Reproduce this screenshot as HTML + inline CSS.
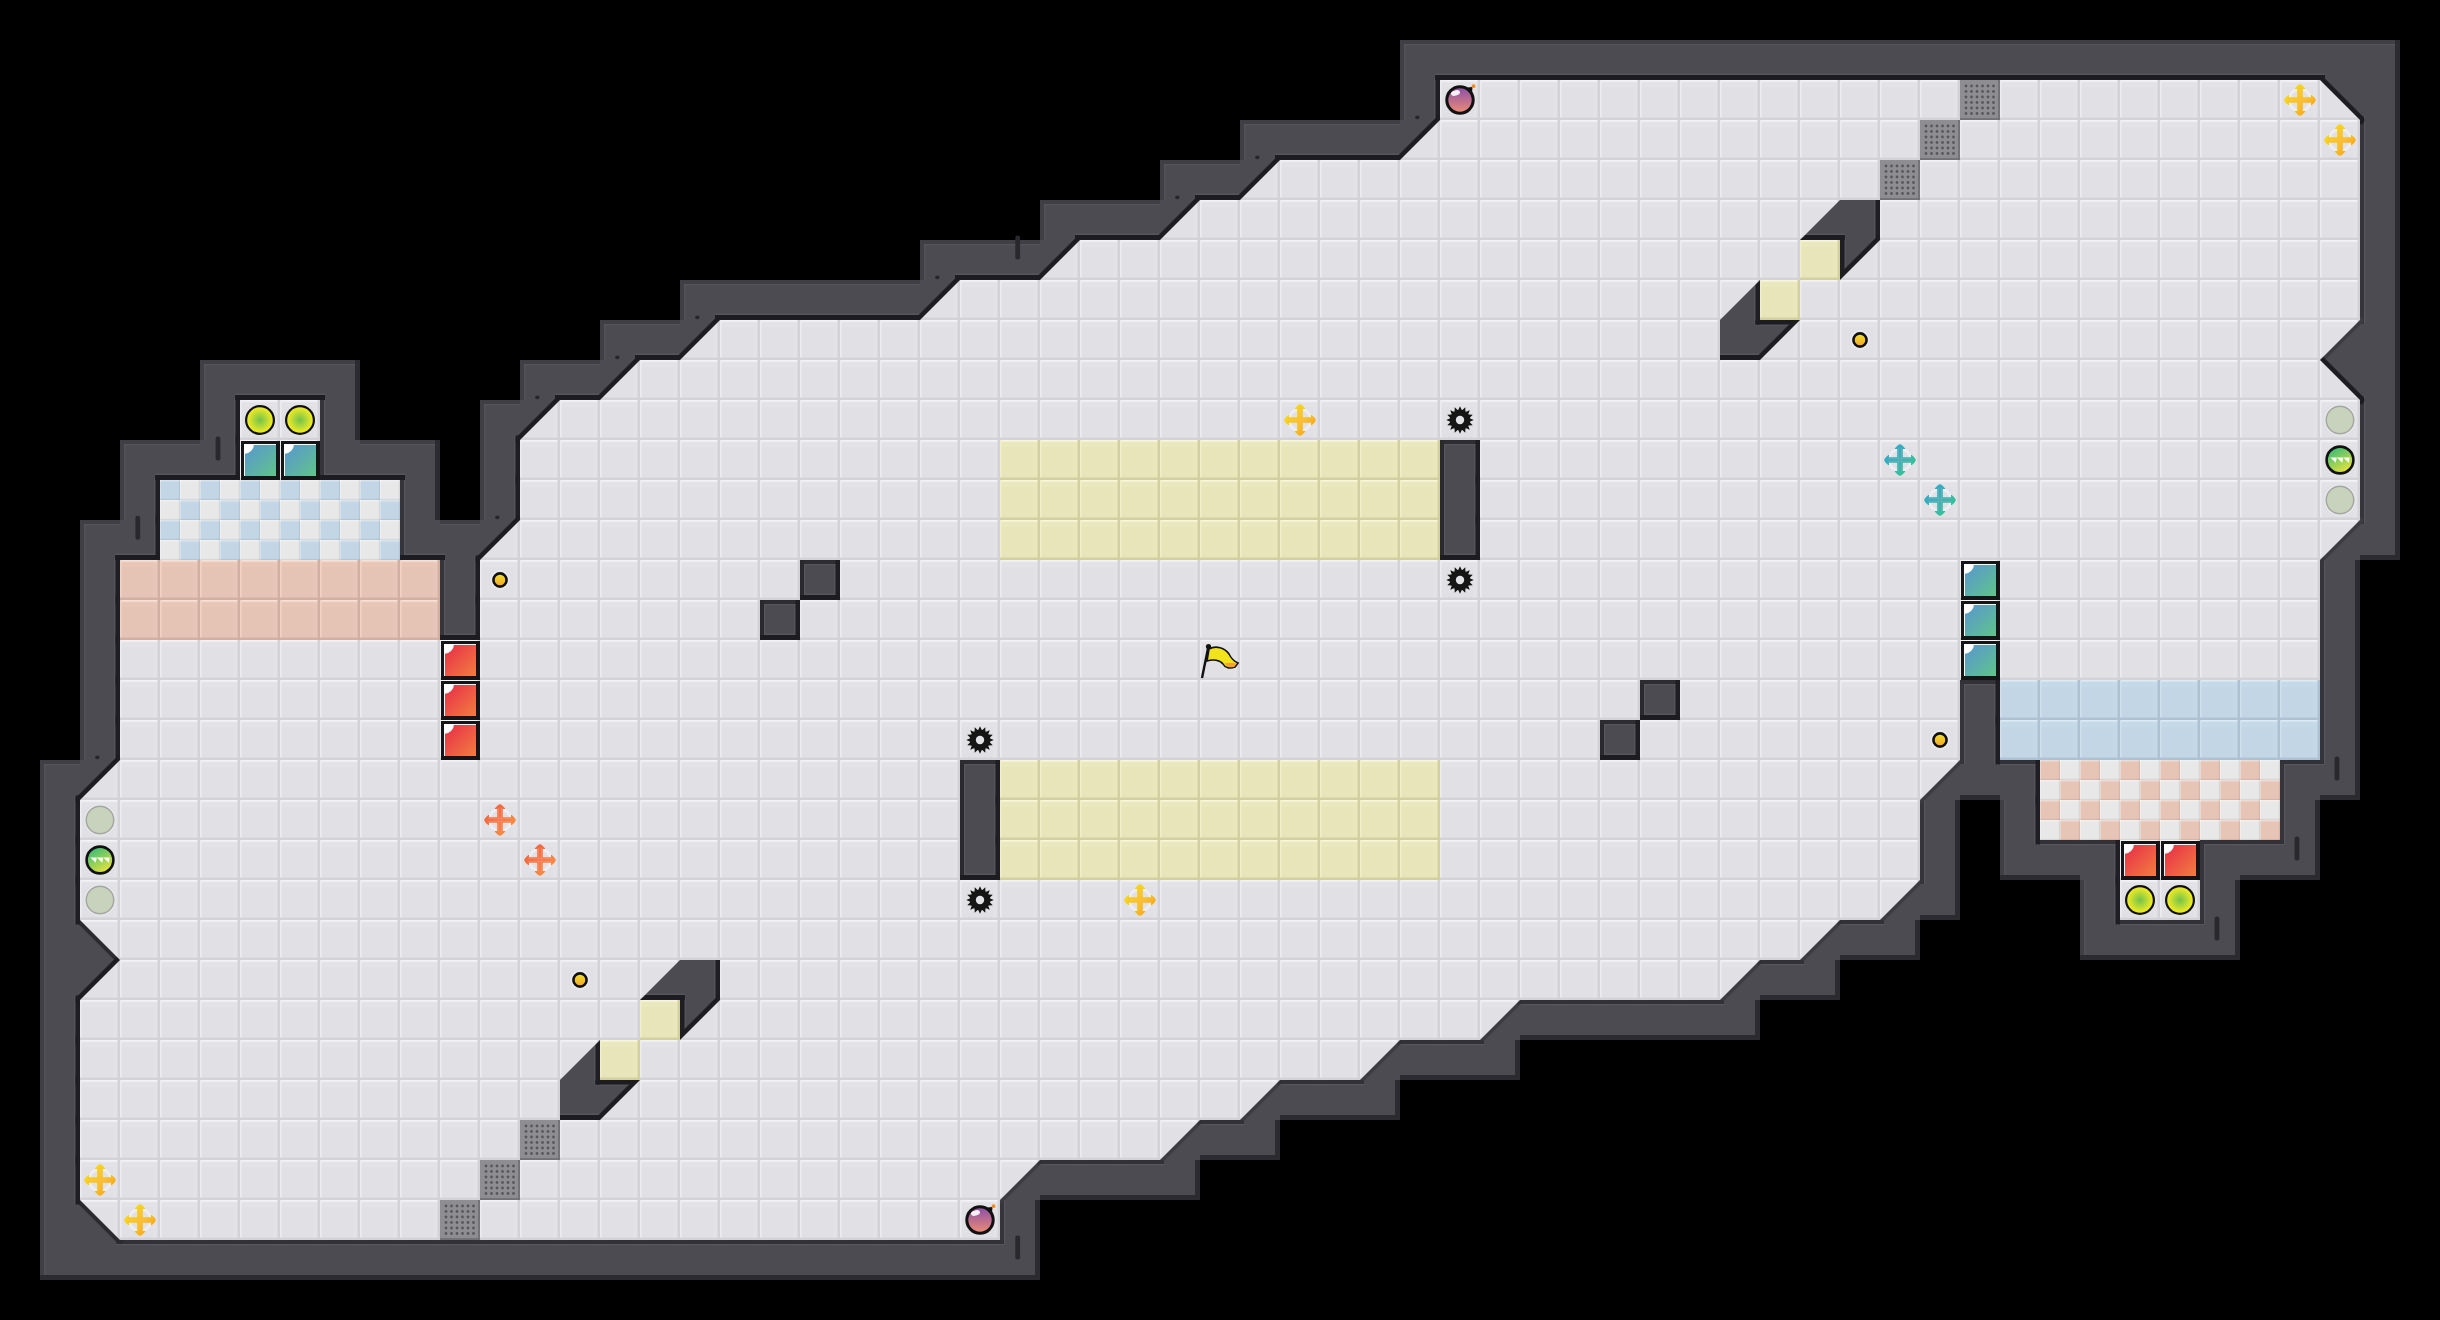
<!DOCTYPE html>
<html><head><meta charset="utf-8"><style>
html,body{margin:0;padding:0;background:#000;overflow:hidden;}
svg{display:block;}
</style></head><body>
<svg width="2440" height="1320" viewBox="0 0 2440 1320">

<defs>
<linearGradient id="gPurple" x1="0" y1="0" x2="0" y2="1"><stop offset="0" stop-color="#8c4ea8"/><stop offset="1" stop-color="#ec8c76"/></linearGradient>
<radialGradient id="gYG"><stop offset="0" stop-color="#72c24c"/><stop offset="0.85" stop-color="#e8e828"/><stop offset="1" stop-color="#f4f21c"/></radialGradient>
<linearGradient id="gGold" x1="0" y1="0" x2="0" y2="1"><stop offset="0" stop-color="#f2e424"/><stop offset="1" stop-color="#f2a232"/></linearGradient>
<linearGradient id="gRed" x1="0" y1="0" x2="1" y2="1"><stop offset="0" stop-color="#e82c48"/><stop offset="1" stop-color="#f27e40"/></linearGradient>
<linearGradient id="gBlue" x1="0" y1="0" x2="1" y2="1"><stop offset="0" stop-color="#5896d2"/><stop offset="1" stop-color="#60c488"/></linearGradient>
<linearGradient id="gYc" x1="0" y1="0" x2="1" y2="1"><stop offset="0" stop-color="#f6e21a"/><stop offset="0.55" stop-color="#f7c51e"/><stop offset="1" stop-color="#f8921e"/></linearGradient>
<linearGradient id="gOc" x1="0" y1="0" x2="1" y2="1"><stop offset="0" stop-color="#f05a40"/><stop offset="1" stop-color="#f89a40"/></linearGradient>
<linearGradient id="gTc" x1="0" y1="0" x2="1" y2="1"><stop offset="0" stop-color="#38a0d8"/><stop offset="1" stop-color="#30cc88"/></linearGradient>
<linearGradient id="gStripe" x1="0.2" y1="0" x2="0.8" y2="1"><stop offset="0" stop-color="#2fb97d"/><stop offset="0.5" stop-color="#92d058"/><stop offset="1" stop-color="#f4e53a"/></linearGradient>
<pattern id="tF" patternUnits="userSpaceOnUse" width="40" height="40"><rect width="40" height="40" fill="#e1e0e5"/><rect x="33" y="0" width="5" height="40" fill="#e3e2e7"/><rect x="0" y="4" width="40" height="3" fill="#e4e3e8"/><rect x="0" y="0" width="40" height="2.5" fill="#edecf1"/><rect x="0" y="0" width="40" height="1" fill="#ffffff" opacity="0.35"/><rect x="0" y="0" width="1.5" height="40" fill="#edecf1"/><rect x="37.6" y="0" width="2.4" height="40" fill="#d3d2d7"/><rect x="0" y="37.6" width="40" height="2.4" fill="#d3d2d7"/></pattern>
<pattern id="tY" patternUnits="userSpaceOnUse" width="40" height="40"><rect width="40" height="40" fill="#e8e5ba"/><rect x="33" y="0" width="5" height="40" fill="#eae7bc"/><rect x="0" y="4" width="40" height="3" fill="#ebe8bd"/><rect x="0" y="0" width="40" height="2.5" fill="#f2efc8"/><rect x="0" y="0" width="40" height="1" fill="#ffffff" opacity="0.35"/><rect x="0" y="0" width="1.5" height="40" fill="#f2efc8"/><rect x="37.6" y="0" width="2.4" height="40" fill="#d3cfa3"/><rect x="0" y="37.6" width="40" height="2.4" fill="#d3cfa3"/></pattern>
<pattern id="tP" patternUnits="userSpaceOnUse" width="40" height="40"><rect width="40" height="40" fill="#e5c4b6"/><rect x="33" y="0" width="5" height="40" fill="#e7c6b8"/><rect x="0" y="4" width="40" height="3" fill="#e8c7b9"/><rect x="0" y="0" width="40" height="2.5" fill="#f2d2c4"/><rect x="0" y="0" width="40" height="1" fill="#ffffff" opacity="0.35"/><rect x="0" y="0" width="1.5" height="40" fill="#f2d2c4"/><rect x="37.6" y="0" width="2.4" height="40" fill="#cfb0a3"/><rect x="0" y="37.6" width="40" height="2.4" fill="#cfb0a3"/></pattern>
<pattern id="tB" patternUnits="userSpaceOnUse" width="40" height="40"><rect width="40" height="40" fill="#c3d6e5"/><rect x="33" y="0" width="5" height="40" fill="#c5d8e7"/><rect x="0" y="4" width="40" height="3" fill="#c6d9e8"/><rect x="0" y="0" width="40" height="2.5" fill="#d0e1ee"/><rect x="0" y="0" width="40" height="1" fill="#ffffff" opacity="0.35"/><rect x="0" y="0" width="1.5" height="40" fill="#d0e1ee"/><rect x="37.6" y="0" width="2.4" height="40" fill="#adc1d2"/><rect x="0" y="37.6" width="40" height="2.4" fill="#adc1d2"/></pattern>
<pattern id="tCB" patternUnits="userSpaceOnUse" width="40" height="40"><rect x="0" y="0" width="20" height="20" fill="#c3d6e6"/><rect x="0" y="0" width="20" height="1.5" fill="#fff" opacity="0.35"/><rect x="0" y="0" width="1" height="20" fill="#fff" opacity="0.3"/><rect x="18.8" y="0" width="1.2" height="20" fill="#000" opacity="0.07"/><rect x="0" y="18.8" width="20" height="1.2" fill="#000" opacity="0.07"/><rect x="20" y="0" width="20" height="20" fill="#e8e8e9"/><rect x="20" y="0" width="20" height="1.5" fill="#fff" opacity="0.35"/><rect x="20" y="0" width="1" height="20" fill="#fff" opacity="0.3"/><rect x="38.8" y="0" width="1.2" height="20" fill="#000" opacity="0.07"/><rect x="20" y="18.8" width="20" height="1.2" fill="#000" opacity="0.07"/><rect x="0" y="20" width="20" height="20" fill="#e8e8e9"/><rect x="0" y="20" width="20" height="1.5" fill="#fff" opacity="0.35"/><rect x="0" y="20" width="1" height="20" fill="#fff" opacity="0.3"/><rect x="18.8" y="20" width="1.2" height="20" fill="#000" opacity="0.07"/><rect x="0" y="38.8" width="20" height="1.2" fill="#000" opacity="0.07"/><rect x="20" y="20" width="20" height="20" fill="#c3d6e6"/><rect x="20" y="20" width="20" height="1.5" fill="#fff" opacity="0.35"/><rect x="20" y="20" width="1" height="20" fill="#fff" opacity="0.3"/><rect x="38.8" y="20" width="1.2" height="20" fill="#000" opacity="0.07"/><rect x="20" y="38.8" width="20" height="1.2" fill="#000" opacity="0.07"/></pattern>
<pattern id="tCP" patternUnits="userSpaceOnUse" width="40" height="40"><rect x="0" y="0" width="20" height="20" fill="#e6c5b7"/><rect x="0" y="0" width="20" height="1.5" fill="#fff" opacity="0.35"/><rect x="0" y="0" width="1" height="20" fill="#fff" opacity="0.3"/><rect x="18.8" y="0" width="1.2" height="20" fill="#000" opacity="0.07"/><rect x="0" y="18.8" width="20" height="1.2" fill="#000" opacity="0.07"/><rect x="20" y="0" width="20" height="20" fill="#e8e8e9"/><rect x="20" y="0" width="20" height="1.5" fill="#fff" opacity="0.35"/><rect x="20" y="0" width="1" height="20" fill="#fff" opacity="0.3"/><rect x="38.8" y="0" width="1.2" height="20" fill="#000" opacity="0.07"/><rect x="20" y="18.8" width="20" height="1.2" fill="#000" opacity="0.07"/><rect x="0" y="20" width="20" height="20" fill="#e8e8e9"/><rect x="0" y="20" width="20" height="1.5" fill="#fff" opacity="0.35"/><rect x="0" y="20" width="1" height="20" fill="#fff" opacity="0.3"/><rect x="18.8" y="20" width="1.2" height="20" fill="#000" opacity="0.07"/><rect x="0" y="38.8" width="20" height="1.2" fill="#000" opacity="0.07"/><rect x="20" y="20" width="20" height="20" fill="#e6c5b7"/><rect x="20" y="20" width="20" height="1.5" fill="#fff" opacity="0.35"/><rect x="20" y="20" width="1" height="20" fill="#fff" opacity="0.3"/><rect x="38.8" y="20" width="1.2" height="20" fill="#000" opacity="0.07"/><rect x="20" y="38.8" width="20" height="1.2" fill="#000" opacity="0.07"/></pattern>
<pattern id="tG" patternUnits="userSpaceOnUse" width="40" height="40">
 <rect width="40" height="40" fill="#8e8d92"/>
 <rect x="38" y="0" width="2" height="40" fill="#737277"/><rect x="0" y="38" width="40" height="2" fill="#737277"/><g fill="#58575c"><circle cx="6.0" cy="6.0" r="1.4"/><circle cx="6.0" cy="11.5" r="1.4"/><circle cx="6.0" cy="17.0" r="1.4"/><circle cx="6.0" cy="22.5" r="1.4"/><circle cx="6.0" cy="28.0" r="1.4"/><circle cx="6.0" cy="33.5" r="1.4"/><circle cx="11.5" cy="6.0" r="1.4"/><circle cx="11.5" cy="11.5" r="1.4"/><circle cx="11.5" cy="17.0" r="1.4"/><circle cx="11.5" cy="22.5" r="1.4"/><circle cx="11.5" cy="28.0" r="1.4"/><circle cx="11.5" cy="33.5" r="1.4"/><circle cx="17.0" cy="6.0" r="1.4"/><circle cx="17.0" cy="11.5" r="1.4"/><circle cx="17.0" cy="17.0" r="1.4"/><circle cx="17.0" cy="22.5" r="1.4"/><circle cx="17.0" cy="28.0" r="1.4"/><circle cx="17.0" cy="33.5" r="1.4"/><circle cx="22.5" cy="6.0" r="1.4"/><circle cx="22.5" cy="11.5" r="1.4"/><circle cx="22.5" cy="17.0" r="1.4"/><circle cx="22.5" cy="22.5" r="1.4"/><circle cx="22.5" cy="28.0" r="1.4"/><circle cx="22.5" cy="33.5" r="1.4"/><circle cx="28.0" cy="6.0" r="1.4"/><circle cx="28.0" cy="11.5" r="1.4"/><circle cx="28.0" cy="17.0" r="1.4"/><circle cx="28.0" cy="22.5" r="1.4"/><circle cx="28.0" cy="28.0" r="1.4"/><circle cx="28.0" cy="33.5" r="1.4"/><circle cx="33.5" cy="6.0" r="1.4"/><circle cx="33.5" cy="11.5" r="1.4"/><circle cx="33.5" cy="17.0" r="1.4"/><circle cx="33.5" cy="22.5" r="1.4"/><circle cx="33.5" cy="28.0" r="1.4"/><circle cx="33.5" cy="33.5" r="1.4"/></g>
</pattern>
</defs>

<rect x="0" y="0" width="2440" height="1320" fill="#000"/>
<rect x="40" y="760" width="40" height="40" fill="#4c4b51"/>
<rect x="40" y="800" width="40" height="40" fill="#4c4b51"/>
<rect x="40" y="840" width="40" height="40" fill="#4c4b51"/>
<rect x="40" y="880" width="40" height="40" fill="#4c4b51"/>
<rect x="40" y="920" width="40" height="40" fill="#4c4b51"/>
<rect x="40" y="960" width="40" height="40" fill="#4c4b51"/>
<rect x="40" y="1000" width="40" height="40" fill="#4c4b51"/>
<rect x="40" y="1040" width="40" height="40" fill="#4c4b51"/>
<rect x="40" y="1080" width="40" height="40" fill="#4c4b51"/>
<rect x="40" y="1120" width="40" height="40" fill="#4c4b51"/>
<rect x="40" y="1160" width="40" height="40" fill="#4c4b51"/>
<rect x="40" y="1200" width="40" height="40" fill="#4c4b51"/>
<rect x="40" y="1240" width="40" height="40" fill="#4c4b51"/>
<rect x="80" y="520" width="40" height="40" fill="#4c4b51"/>
<rect x="80" y="560" width="40" height="40" fill="#4c4b51"/>
<rect x="80" y="600" width="40" height="40" fill="#4c4b51"/>
<rect x="80" y="640" width="40" height="40" fill="#4c4b51"/>
<rect x="80" y="680" width="40" height="40" fill="#4c4b51"/>
<rect x="80" y="720" width="40" height="40" fill="#4c4b51"/>
<rect x="80" y="1240" width="40" height="40" fill="#4c4b51"/>
<rect x="120" y="440" width="40" height="40" fill="#4c4b51"/>
<rect x="120" y="480" width="40" height="40" fill="#4c4b51"/>
<rect x="120" y="520" width="40" height="40" fill="#4c4b51"/>
<rect x="120" y="1240" width="40" height="40" fill="#4c4b51"/>
<rect x="160" y="440" width="40" height="40" fill="#4c4b51"/>
<rect x="160" y="1240" width="40" height="40" fill="#4c4b51"/>
<rect x="200" y="360" width="40" height="40" fill="#4c4b51"/>
<rect x="200" y="400" width="40" height="40" fill="#4c4b51"/>
<rect x="200" y="440" width="40" height="40" fill="#4c4b51"/>
<rect x="200" y="1240" width="40" height="40" fill="#4c4b51"/>
<rect x="240" y="360" width="40" height="40" fill="#4c4b51"/>
<rect x="240" y="1240" width="40" height="40" fill="#4c4b51"/>
<rect x="280" y="360" width="40" height="40" fill="#4c4b51"/>
<rect x="280" y="1240" width="40" height="40" fill="#4c4b51"/>
<rect x="320" y="360" width="40" height="40" fill="#4c4b51"/>
<rect x="320" y="400" width="40" height="40" fill="#4c4b51"/>
<rect x="320" y="440" width="40" height="40" fill="#4c4b51"/>
<rect x="320" y="1240" width="40" height="40" fill="#4c4b51"/>
<rect x="360" y="440" width="40" height="40" fill="#4c4b51"/>
<rect x="360" y="1240" width="40" height="40" fill="#4c4b51"/>
<rect x="400" y="440" width="40" height="40" fill="#4c4b51"/>
<rect x="400" y="480" width="40" height="40" fill="#4c4b51"/>
<rect x="400" y="520" width="40" height="40" fill="#4c4b51"/>
<rect x="400" y="1240" width="40" height="40" fill="#4c4b51"/>
<rect x="440" y="520" width="40" height="40" fill="#4c4b51"/>
<rect x="440" y="560" width="40" height="40" fill="#4c4b51"/>
<rect x="440" y="600" width="40" height="40" fill="#4c4b51"/>
<rect x="440" y="1240" width="40" height="40" fill="#4c4b51"/>
<rect x="480" y="400" width="40" height="40" fill="#4c4b51"/>
<rect x="480" y="440" width="40" height="40" fill="#4c4b51"/>
<rect x="480" y="480" width="40" height="40" fill="#4c4b51"/>
<rect x="480" y="1240" width="40" height="40" fill="#4c4b51"/>
<rect x="520" y="360" width="40" height="40" fill="#4c4b51"/>
<rect x="520" y="1240" width="40" height="40" fill="#4c4b51"/>
<rect x="560" y="360" width="40" height="40" fill="#4c4b51"/>
<rect x="560" y="1080" width="40" height="40" fill="#4c4b51"/>
<rect x="560" y="1240" width="40" height="40" fill="#4c4b51"/>
<rect x="600" y="320" width="40" height="40" fill="#4c4b51"/>
<rect x="600" y="1240" width="40" height="40" fill="#4c4b51"/>
<rect x="640" y="320" width="40" height="40" fill="#4c4b51"/>
<rect x="640" y="1240" width="40" height="40" fill="#4c4b51"/>
<rect x="680" y="280" width="40" height="40" fill="#4c4b51"/>
<rect x="680" y="960" width="40" height="40" fill="#4c4b51"/>
<rect x="680" y="1240" width="40" height="40" fill="#4c4b51"/>
<rect x="720" y="280" width="40" height="40" fill="#4c4b51"/>
<rect x="720" y="1240" width="40" height="40" fill="#4c4b51"/>
<rect x="760" y="280" width="40" height="40" fill="#4c4b51"/>
<rect x="760" y="600" width="40" height="40" fill="#4c4b51"/>
<rect x="760" y="1240" width="40" height="40" fill="#4c4b51"/>
<rect x="800" y="280" width="40" height="40" fill="#4c4b51"/>
<rect x="800" y="560" width="40" height="40" fill="#4c4b51"/>
<rect x="800" y="1240" width="40" height="40" fill="#4c4b51"/>
<rect x="840" y="280" width="40" height="40" fill="#4c4b51"/>
<rect x="840" y="1240" width="40" height="40" fill="#4c4b51"/>
<rect x="880" y="280" width="40" height="40" fill="#4c4b51"/>
<rect x="880" y="1240" width="40" height="40" fill="#4c4b51"/>
<rect x="920" y="240" width="40" height="40" fill="#4c4b51"/>
<rect x="920" y="1240" width="40" height="40" fill="#4c4b51"/>
<rect x="960" y="240" width="40" height="40" fill="#4c4b51"/>
<rect x="960" y="760" width="40" height="40" fill="#4c4b51"/>
<rect x="960" y="800" width="40" height="40" fill="#4c4b51"/>
<rect x="960" y="840" width="40" height="40" fill="#4c4b51"/>
<rect x="960" y="1240" width="40" height="40" fill="#4c4b51"/>
<rect x="1000" y="240" width="40" height="40" fill="#4c4b51"/>
<rect x="1000" y="1200" width="40" height="40" fill="#4c4b51"/>
<rect x="1000" y="1240" width="40" height="40" fill="#4c4b51"/>
<rect x="1040" y="200" width="40" height="40" fill="#4c4b51"/>
<rect x="1040" y="1160" width="40" height="40" fill="#4c4b51"/>
<rect x="1080" y="200" width="40" height="40" fill="#4c4b51"/>
<rect x="1080" y="1160" width="40" height="40" fill="#4c4b51"/>
<rect x="1120" y="200" width="40" height="40" fill="#4c4b51"/>
<rect x="1120" y="1160" width="40" height="40" fill="#4c4b51"/>
<rect x="1160" y="160" width="40" height="40" fill="#4c4b51"/>
<rect x="1160" y="1160" width="40" height="40" fill="#4c4b51"/>
<rect x="1200" y="160" width="40" height="40" fill="#4c4b51"/>
<rect x="1200" y="1120" width="40" height="40" fill="#4c4b51"/>
<rect x="1240" y="120" width="40" height="40" fill="#4c4b51"/>
<rect x="1240" y="1120" width="40" height="40" fill="#4c4b51"/>
<rect x="1280" y="120" width="40" height="40" fill="#4c4b51"/>
<rect x="1280" y="1080" width="40" height="40" fill="#4c4b51"/>
<rect x="1320" y="120" width="40" height="40" fill="#4c4b51"/>
<rect x="1320" y="1080" width="40" height="40" fill="#4c4b51"/>
<rect x="1360" y="120" width="40" height="40" fill="#4c4b51"/>
<rect x="1360" y="1080" width="40" height="40" fill="#4c4b51"/>
<rect x="1400" y="40" width="40" height="40" fill="#4c4b51"/>
<rect x="1400" y="80" width="40" height="40" fill="#4c4b51"/>
<rect x="1400" y="1040" width="40" height="40" fill="#4c4b51"/>
<rect x="1440" y="40" width="40" height="40" fill="#4c4b51"/>
<rect x="1440" y="440" width="40" height="40" fill="#4c4b51"/>
<rect x="1440" y="480" width="40" height="40" fill="#4c4b51"/>
<rect x="1440" y="520" width="40" height="40" fill="#4c4b51"/>
<rect x="1440" y="1040" width="40" height="40" fill="#4c4b51"/>
<rect x="1480" y="40" width="40" height="40" fill="#4c4b51"/>
<rect x="1480" y="1040" width="40" height="40" fill="#4c4b51"/>
<rect x="1520" y="40" width="40" height="40" fill="#4c4b51"/>
<rect x="1520" y="1000" width="40" height="40" fill="#4c4b51"/>
<rect x="1560" y="40" width="40" height="40" fill="#4c4b51"/>
<rect x="1560" y="1000" width="40" height="40" fill="#4c4b51"/>
<rect x="1600" y="40" width="40" height="40" fill="#4c4b51"/>
<rect x="1600" y="720" width="40" height="40" fill="#4c4b51"/>
<rect x="1600" y="1000" width="40" height="40" fill="#4c4b51"/>
<rect x="1640" y="40" width="40" height="40" fill="#4c4b51"/>
<rect x="1640" y="680" width="40" height="40" fill="#4c4b51"/>
<rect x="1640" y="1000" width="40" height="40" fill="#4c4b51"/>
<rect x="1680" y="40" width="40" height="40" fill="#4c4b51"/>
<rect x="1680" y="1000" width="40" height="40" fill="#4c4b51"/>
<rect x="1720" y="40" width="40" height="40" fill="#4c4b51"/>
<rect x="1720" y="320" width="40" height="40" fill="#4c4b51"/>
<rect x="1720" y="1000" width="40" height="40" fill="#4c4b51"/>
<rect x="1760" y="40" width="40" height="40" fill="#4c4b51"/>
<rect x="1760" y="960" width="40" height="40" fill="#4c4b51"/>
<rect x="1800" y="40" width="40" height="40" fill="#4c4b51"/>
<rect x="1800" y="960" width="40" height="40" fill="#4c4b51"/>
<rect x="1840" y="40" width="40" height="40" fill="#4c4b51"/>
<rect x="1840" y="200" width="40" height="40" fill="#4c4b51"/>
<rect x="1840" y="920" width="40" height="40" fill="#4c4b51"/>
<rect x="1880" y="40" width="40" height="40" fill="#4c4b51"/>
<rect x="1880" y="920" width="40" height="40" fill="#4c4b51"/>
<rect x="1920" y="40" width="40" height="40" fill="#4c4b51"/>
<rect x="1920" y="800" width="40" height="40" fill="#4c4b51"/>
<rect x="1920" y="840" width="40" height="40" fill="#4c4b51"/>
<rect x="1920" y="880" width="40" height="40" fill="#4c4b51"/>
<rect x="1960" y="40" width="40" height="40" fill="#4c4b51"/>
<rect x="1960" y="680" width="40" height="40" fill="#4c4b51"/>
<rect x="1960" y="720" width="40" height="40" fill="#4c4b51"/>
<rect x="1960" y="760" width="40" height="40" fill="#4c4b51"/>
<rect x="2000" y="40" width="40" height="40" fill="#4c4b51"/>
<rect x="2000" y="760" width="40" height="40" fill="#4c4b51"/>
<rect x="2000" y="800" width="40" height="40" fill="#4c4b51"/>
<rect x="2000" y="840" width="40" height="40" fill="#4c4b51"/>
<rect x="2040" y="40" width="40" height="40" fill="#4c4b51"/>
<rect x="2040" y="840" width="40" height="40" fill="#4c4b51"/>
<rect x="2080" y="40" width="40" height="40" fill="#4c4b51"/>
<rect x="2080" y="840" width="40" height="40" fill="#4c4b51"/>
<rect x="2080" y="880" width="40" height="40" fill="#4c4b51"/>
<rect x="2080" y="920" width="40" height="40" fill="#4c4b51"/>
<rect x="2120" y="40" width="40" height="40" fill="#4c4b51"/>
<rect x="2120" y="920" width="40" height="40" fill="#4c4b51"/>
<rect x="2160" y="40" width="40" height="40" fill="#4c4b51"/>
<rect x="2160" y="920" width="40" height="40" fill="#4c4b51"/>
<rect x="2200" y="40" width="40" height="40" fill="#4c4b51"/>
<rect x="2200" y="840" width="40" height="40" fill="#4c4b51"/>
<rect x="2200" y="880" width="40" height="40" fill="#4c4b51"/>
<rect x="2200" y="920" width="40" height="40" fill="#4c4b51"/>
<rect x="2240" y="40" width="40" height="40" fill="#4c4b51"/>
<rect x="2240" y="840" width="40" height="40" fill="#4c4b51"/>
<rect x="2280" y="40" width="40" height="40" fill="#4c4b51"/>
<rect x="2280" y="760" width="40" height="40" fill="#4c4b51"/>
<rect x="2280" y="800" width="40" height="40" fill="#4c4b51"/>
<rect x="2280" y="840" width="40" height="40" fill="#4c4b51"/>
<rect x="2320" y="40" width="40" height="40" fill="#4c4b51"/>
<rect x="2320" y="560" width="40" height="40" fill="#4c4b51"/>
<rect x="2320" y="600" width="40" height="40" fill="#4c4b51"/>
<rect x="2320" y="640" width="40" height="40" fill="#4c4b51"/>
<rect x="2320" y="680" width="40" height="40" fill="#4c4b51"/>
<rect x="2320" y="720" width="40" height="40" fill="#4c4b51"/>
<rect x="2320" y="760" width="40" height="40" fill="#4c4b51"/>
<rect x="2360" y="40" width="40" height="40" fill="#4c4b51"/>
<rect x="2360" y="80" width="40" height="40" fill="#4c4b51"/>
<rect x="2360" y="120" width="40" height="40" fill="#4c4b51"/>
<rect x="2360" y="160" width="40" height="40" fill="#4c4b51"/>
<rect x="2360" y="200" width="40" height="40" fill="#4c4b51"/>
<rect x="2360" y="240" width="40" height="40" fill="#4c4b51"/>
<rect x="2360" y="280" width="40" height="40" fill="#4c4b51"/>
<rect x="2360" y="320" width="40" height="40" fill="#4c4b51"/>
<rect x="2360" y="360" width="40" height="40" fill="#4c4b51"/>
<rect x="2360" y="400" width="40" height="40" fill="#4c4b51"/>
<rect x="2360" y="440" width="40" height="40" fill="#4c4b51"/>
<rect x="2360" y="480" width="40" height="40" fill="#4c4b51"/>
<rect x="2360" y="520" width="40" height="40" fill="#4c4b51"/>
<rect x="2320" y="80" width="40" height="40" fill="#4c4b51"/>
<rect x="1400" y="120" width="40" height="40" fill="#4c4b51"/>
<rect x="1240" y="160" width="40" height="40" fill="#4c4b51"/>
<rect x="1160" y="200" width="40" height="40" fill="#4c4b51"/>
<rect x="1800" y="200" width="40" height="40" fill="#4c4b51"/>
<rect x="1040" y="240" width="40" height="40" fill="#4c4b51"/>
<rect x="1840" y="240" width="40" height="40" fill="#4c4b51"/>
<rect x="920" y="280" width="40" height="40" fill="#4c4b51"/>
<rect x="1720" y="280" width="40" height="40" fill="#4c4b51"/>
<rect x="680" y="320" width="40" height="40" fill="#4c4b51"/>
<rect x="1760" y="320" width="40" height="40" fill="#4c4b51"/>
<rect x="2320" y="320" width="40" height="40" fill="#4c4b51"/>
<rect x="600" y="360" width="40" height="40" fill="#4c4b51"/>
<rect x="2320" y="360" width="40" height="40" fill="#4c4b51"/>
<rect x="520" y="400" width="40" height="40" fill="#4c4b51"/>
<rect x="480" y="520" width="40" height="40" fill="#4c4b51"/>
<rect x="2320" y="520" width="40" height="40" fill="#4c4b51"/>
<rect x="80" y="1200" width="40" height="40" fill="#4c4b51"/>
<rect x="1000" y="1160" width="40" height="40" fill="#4c4b51"/>
<rect x="1160" y="1120" width="40" height="40" fill="#4c4b51"/>
<rect x="1240" y="1080" width="40" height="40" fill="#4c4b51"/>
<rect x="600" y="1080" width="40" height="40" fill="#4c4b51"/>
<rect x="1360" y="1040" width="40" height="40" fill="#4c4b51"/>
<rect x="560" y="1040" width="40" height="40" fill="#4c4b51"/>
<rect x="1480" y="1000" width="40" height="40" fill="#4c4b51"/>
<rect x="680" y="1000" width="40" height="40" fill="#4c4b51"/>
<rect x="1720" y="960" width="40" height="40" fill="#4c4b51"/>
<rect x="640" y="960" width="40" height="40" fill="#4c4b51"/>
<rect x="80" y="960" width="40" height="40" fill="#4c4b51"/>
<rect x="1800" y="920" width="40" height="40" fill="#4c4b51"/>
<rect x="80" y="920" width="40" height="40" fill="#4c4b51"/>
<rect x="1880" y="880" width="40" height="40" fill="#4c4b51"/>
<rect x="1920" y="760" width="40" height="40" fill="#4c4b51"/>
<rect x="80" y="760" width="40" height="40" fill="#4c4b51"/>
<rect x="40" y="764" width="40" height="1.5" fill="#535258"/>
<rect x="44" y="760" width="1.5" height="40" fill="#535258"/>
<rect x="44" y="800" width="1.5" height="40" fill="#535258"/>
<rect x="44" y="840" width="1.5" height="40" fill="#535258"/>
<rect x="44" y="880" width="1.5" height="40" fill="#535258"/>
<rect x="44" y="920" width="1.5" height="40" fill="#535258"/>
<rect x="44" y="960" width="1.5" height="40" fill="#535258"/>
<rect x="44" y="1000" width="1.5" height="40" fill="#535258"/>
<rect x="44" y="1040" width="1.5" height="40" fill="#535258"/>
<rect x="44" y="1080" width="1.5" height="40" fill="#535258"/>
<rect x="44" y="1120" width="1.5" height="40" fill="#535258"/>
<rect x="44" y="1160" width="1.5" height="40" fill="#535258"/>
<rect x="44" y="1200" width="1.5" height="40" fill="#535258"/>
<rect x="44" y="1240" width="1.5" height="40" fill="#535258"/>
<rect x="80" y="524" width="40" height="1.5" fill="#535258"/>
<rect x="84" y="520" width="1.5" height="40" fill="#535258"/>
<rect x="84" y="560" width="1.5" height="40" fill="#535258"/>
<rect x="84" y="600" width="1.5" height="40" fill="#535258"/>
<rect x="84" y="640" width="1.5" height="40" fill="#535258"/>
<rect x="84" y="680" width="1.5" height="40" fill="#535258"/>
<rect x="84" y="720" width="1.5" height="40" fill="#535258"/>
<rect x="120" y="444" width="40" height="1.5" fill="#535258"/>
<rect x="124" y="440" width="1.5" height="40" fill="#535258"/>
<rect x="124" y="480" width="1.5" height="40" fill="#535258"/>
<rect x="160" y="444" width="40" height="1.5" fill="#535258"/>
<rect x="200" y="364" width="40" height="1.5" fill="#535258"/>
<rect x="204" y="360" width="1.5" height="40" fill="#535258"/>
<rect x="204" y="400" width="1.5" height="40" fill="#535258"/>
<rect x="240" y="364" width="40" height="1.5" fill="#535258"/>
<rect x="280" y="364" width="40" height="1.5" fill="#535258"/>
<rect x="320" y="364" width="40" height="1.5" fill="#535258"/>
<rect x="360" y="444" width="40" height="1.5" fill="#535258"/>
<rect x="400" y="444" width="40" height="1.5" fill="#535258"/>
<rect x="440" y="524" width="40" height="1.5" fill="#535258"/>
<rect x="480" y="404" width="40" height="1.5" fill="#535258"/>
<rect x="484" y="400" width="1.5" height="40" fill="#535258"/>
<rect x="484" y="440" width="1.5" height="40" fill="#535258"/>
<rect x="484" y="480" width="1.5" height="40" fill="#535258"/>
<rect x="520" y="364" width="40" height="1.5" fill="#535258"/>
<rect x="524" y="360" width="1.5" height="40" fill="#535258"/>
<rect x="560" y="364" width="40" height="1.5" fill="#535258"/>
<rect x="600" y="324" width="40" height="1.5" fill="#535258"/>
<rect x="604" y="320" width="1.5" height="40" fill="#535258"/>
<rect x="640" y="324" width="40" height="1.5" fill="#535258"/>
<rect x="680" y="284" width="40" height="1.5" fill="#535258"/>
<rect x="684" y="280" width="1.5" height="40" fill="#535258"/>
<rect x="720" y="284" width="40" height="1.5" fill="#535258"/>
<rect x="760" y="284" width="40" height="1.5" fill="#535258"/>
<rect x="800" y="284" width="40" height="1.5" fill="#535258"/>
<rect x="840" y="284" width="40" height="1.5" fill="#535258"/>
<rect x="880" y="284" width="40" height="1.5" fill="#535258"/>
<rect x="920" y="244" width="40" height="1.5" fill="#535258"/>
<rect x="924" y="240" width="1.5" height="40" fill="#535258"/>
<rect x="960" y="244" width="40" height="1.5" fill="#535258"/>
<rect x="1000" y="244" width="40" height="1.5" fill="#535258"/>
<rect x="1040" y="204" width="40" height="1.5" fill="#535258"/>
<rect x="1044" y="200" width="1.5" height="40" fill="#535258"/>
<rect x="1080" y="204" width="40" height="1.5" fill="#535258"/>
<rect x="1120" y="204" width="40" height="1.5" fill="#535258"/>
<rect x="1160" y="164" width="40" height="1.5" fill="#535258"/>
<rect x="1164" y="160" width="1.5" height="40" fill="#535258"/>
<rect x="1200" y="164" width="40" height="1.5" fill="#535258"/>
<rect x="1240" y="124" width="40" height="1.5" fill="#535258"/>
<rect x="1244" y="120" width="1.5" height="40" fill="#535258"/>
<rect x="1280" y="124" width="40" height="1.5" fill="#535258"/>
<rect x="1320" y="124" width="40" height="1.5" fill="#535258"/>
<rect x="1360" y="124" width="40" height="1.5" fill="#535258"/>
<rect x="1400" y="44" width="40" height="1.5" fill="#535258"/>
<rect x="1404" y="40" width="1.5" height="40" fill="#535258"/>
<rect x="1404" y="80" width="1.5" height="40" fill="#535258"/>
<rect x="1440" y="44" width="40" height="1.5" fill="#535258"/>
<rect x="1480" y="44" width="40" height="1.5" fill="#535258"/>
<rect x="1520" y="44" width="40" height="1.5" fill="#535258"/>
<rect x="1560" y="44" width="40" height="1.5" fill="#535258"/>
<rect x="1600" y="44" width="40" height="1.5" fill="#535258"/>
<rect x="1640" y="44" width="40" height="1.5" fill="#535258"/>
<rect x="1680" y="44" width="40" height="1.5" fill="#535258"/>
<rect x="1720" y="44" width="40" height="1.5" fill="#535258"/>
<rect x="1760" y="44" width="40" height="1.5" fill="#535258"/>
<rect x="1800" y="44" width="40" height="1.5" fill="#535258"/>
<rect x="1840" y="44" width="40" height="1.5" fill="#535258"/>
<rect x="1880" y="44" width="40" height="1.5" fill="#535258"/>
<rect x="1920" y="44" width="40" height="1.5" fill="#535258"/>
<rect x="1960" y="44" width="40" height="1.5" fill="#535258"/>
<rect x="2000" y="44" width="40" height="1.5" fill="#535258"/>
<rect x="2004" y="800" width="1.5" height="40" fill="#535258"/>
<rect x="2004" y="840" width="1.5" height="40" fill="#535258"/>
<rect x="2040" y="44" width="40" height="1.5" fill="#535258"/>
<rect x="2080" y="44" width="40" height="1.5" fill="#535258"/>
<rect x="2084" y="880" width="1.5" height="40" fill="#535258"/>
<rect x="2084" y="920" width="1.5" height="40" fill="#535258"/>
<rect x="2120" y="44" width="40" height="1.5" fill="#535258"/>
<rect x="2160" y="44" width="40" height="1.5" fill="#535258"/>
<rect x="2200" y="44" width="40" height="1.5" fill="#535258"/>
<rect x="2240" y="44" width="40" height="1.5" fill="#535258"/>
<rect x="2280" y="44" width="40" height="1.5" fill="#535258"/>
<rect x="2320" y="44" width="40" height="1.5" fill="#535258"/>
<rect x="2360" y="44" width="40" height="1.5" fill="#535258"/>
<rect x="40" y="760" width="40" height="4" fill="#403f45"/>
<rect x="40" y="760" width="4" height="40" fill="#403f45"/>
<rect x="40" y="800" width="4" height="40" fill="#403f45"/>
<rect x="40" y="840" width="4" height="40" fill="#403f45"/>
<rect x="40" y="880" width="4" height="40" fill="#403f45"/>
<rect x="40" y="920" width="4" height="40" fill="#403f45"/>
<rect x="40" y="960" width="4" height="40" fill="#403f45"/>
<rect x="40" y="1000" width="4" height="40" fill="#403f45"/>
<rect x="40" y="1040" width="4" height="40" fill="#403f45"/>
<rect x="40" y="1080" width="4" height="40" fill="#403f45"/>
<rect x="40" y="1120" width="4" height="40" fill="#403f45"/>
<rect x="40" y="1160" width="4" height="40" fill="#403f45"/>
<rect x="40" y="1200" width="4" height="40" fill="#403f45"/>
<rect x="40" y="1240" width="4" height="40" fill="#403f45"/>
<rect x="80" y="520" width="40" height="4" fill="#403f45"/>
<rect x="80" y="520" width="4" height="40" fill="#403f45"/>
<rect x="80" y="560" width="4" height="40" fill="#403f45"/>
<rect x="80" y="600" width="4" height="40" fill="#403f45"/>
<rect x="80" y="640" width="4" height="40" fill="#403f45"/>
<rect x="80" y="680" width="4" height="40" fill="#403f45"/>
<rect x="80" y="720" width="4" height="40" fill="#403f45"/>
<rect x="120" y="440" width="40" height="4" fill="#403f45"/>
<rect x="120" y="440" width="4" height="40" fill="#403f45"/>
<rect x="120" y="480" width="4" height="40" fill="#403f45"/>
<rect x="160" y="440" width="40" height="4" fill="#403f45"/>
<rect x="200" y="360" width="40" height="4" fill="#403f45"/>
<rect x="200" y="360" width="4" height="40" fill="#403f45"/>
<rect x="200" y="400" width="4" height="40" fill="#403f45"/>
<rect x="240" y="360" width="40" height="4" fill="#403f45"/>
<rect x="280" y="360" width="40" height="4" fill="#403f45"/>
<rect x="320" y="360" width="40" height="4" fill="#403f45"/>
<rect x="360" y="440" width="40" height="4" fill="#403f45"/>
<rect x="400" y="440" width="40" height="4" fill="#403f45"/>
<rect x="440" y="520" width="40" height="4" fill="#403f45"/>
<rect x="480" y="400" width="40" height="4" fill="#403f45"/>
<rect x="480" y="400" width="4" height="40" fill="#403f45"/>
<rect x="480" y="440" width="4" height="40" fill="#403f45"/>
<rect x="480" y="480" width="4" height="40" fill="#403f45"/>
<rect x="520" y="360" width="40" height="4" fill="#403f45"/>
<rect x="520" y="360" width="4" height="40" fill="#403f45"/>
<rect x="560" y="360" width="40" height="4" fill="#403f45"/>
<rect x="600" y="320" width="40" height="4" fill="#403f45"/>
<rect x="600" y="320" width="4" height="40" fill="#403f45"/>
<rect x="640" y="320" width="40" height="4" fill="#403f45"/>
<rect x="680" y="280" width="40" height="4" fill="#403f45"/>
<rect x="680" y="280" width="4" height="40" fill="#403f45"/>
<rect x="720" y="280" width="40" height="4" fill="#403f45"/>
<rect x="760" y="280" width="40" height="4" fill="#403f45"/>
<rect x="800" y="280" width="40" height="4" fill="#403f45"/>
<rect x="840" y="280" width="40" height="4" fill="#403f45"/>
<rect x="880" y="280" width="40" height="4" fill="#403f45"/>
<rect x="920" y="240" width="40" height="4" fill="#403f45"/>
<rect x="920" y="240" width="4" height="40" fill="#403f45"/>
<rect x="960" y="240" width="40" height="4" fill="#403f45"/>
<rect x="1000" y="240" width="40" height="4" fill="#403f45"/>
<rect x="1040" y="200" width="40" height="4" fill="#403f45"/>
<rect x="1040" y="200" width="4" height="40" fill="#403f45"/>
<rect x="1080" y="200" width="40" height="4" fill="#403f45"/>
<rect x="1120" y="200" width="40" height="4" fill="#403f45"/>
<rect x="1160" y="160" width="40" height="4" fill="#403f45"/>
<rect x="1160" y="160" width="4" height="40" fill="#403f45"/>
<rect x="1200" y="160" width="40" height="4" fill="#403f45"/>
<rect x="1240" y="120" width="40" height="4" fill="#403f45"/>
<rect x="1240" y="120" width="4" height="40" fill="#403f45"/>
<rect x="1280" y="120" width="40" height="4" fill="#403f45"/>
<rect x="1320" y="120" width="40" height="4" fill="#403f45"/>
<rect x="1360" y="120" width="40" height="4" fill="#403f45"/>
<rect x="1400" y="40" width="40" height="4" fill="#403f45"/>
<rect x="1400" y="40" width="4" height="40" fill="#403f45"/>
<rect x="1400" y="80" width="4" height="40" fill="#403f45"/>
<rect x="1440" y="40" width="40" height="4" fill="#403f45"/>
<rect x="1480" y="40" width="40" height="4" fill="#403f45"/>
<rect x="1520" y="40" width="40" height="4" fill="#403f45"/>
<rect x="1560" y="40" width="40" height="4" fill="#403f45"/>
<rect x="1600" y="40" width="40" height="4" fill="#403f45"/>
<rect x="1640" y="40" width="40" height="4" fill="#403f45"/>
<rect x="1680" y="40" width="40" height="4" fill="#403f45"/>
<rect x="1720" y="40" width="40" height="4" fill="#403f45"/>
<rect x="1760" y="40" width="40" height="4" fill="#403f45"/>
<rect x="1800" y="40" width="40" height="4" fill="#403f45"/>
<rect x="1840" y="40" width="40" height="4" fill="#403f45"/>
<rect x="1880" y="40" width="40" height="4" fill="#403f45"/>
<rect x="1920" y="40" width="40" height="4" fill="#403f45"/>
<rect x="1960" y="40" width="40" height="4" fill="#403f45"/>
<rect x="2000" y="40" width="40" height="4" fill="#403f45"/>
<rect x="2000" y="800" width="4" height="40" fill="#403f45"/>
<rect x="2000" y="840" width="4" height="40" fill="#403f45"/>
<rect x="2040" y="40" width="40" height="4" fill="#403f45"/>
<rect x="2080" y="40" width="40" height="4" fill="#403f45"/>
<rect x="2080" y="880" width="4" height="40" fill="#403f45"/>
<rect x="2080" y="920" width="4" height="40" fill="#403f45"/>
<rect x="2120" y="40" width="40" height="4" fill="#403f45"/>
<rect x="2160" y="40" width="40" height="4" fill="#403f45"/>
<rect x="2200" y="40" width="40" height="4" fill="#403f45"/>
<rect x="2240" y="40" width="40" height="4" fill="#403f45"/>
<rect x="2280" y="40" width="40" height="4" fill="#403f45"/>
<rect x="2320" y="40" width="40" height="4" fill="#403f45"/>
<rect x="2360" y="40" width="40" height="4" fill="#403f45"/>
<rect x="40" y="1275" width="40" height="5" fill="#2c2b30"/>
<rect x="80" y="1275" width="40" height="5" fill="#2c2b30"/>
<rect x="120" y="1275" width="40" height="5" fill="#2c2b30"/>
<rect x="160" y="1275" width="40" height="5" fill="#2c2b30"/>
<rect x="200" y="1275" width="40" height="5" fill="#2c2b30"/>
<rect x="240" y="1275" width="40" height="5" fill="#2c2b30"/>
<rect x="280" y="1275" width="40" height="5" fill="#2c2b30"/>
<rect x="355" y="360" width="5" height="40" fill="#2c2b30"/>
<rect x="355" y="400" width="5" height="40" fill="#2c2b30"/>
<rect x="320" y="1275" width="40" height="5" fill="#2c2b30"/>
<rect x="360" y="1275" width="40" height="5" fill="#2c2b30"/>
<rect x="435" y="440" width="5" height="40" fill="#2c2b30"/>
<rect x="435" y="480" width="5" height="40" fill="#2c2b30"/>
<rect x="400" y="1275" width="40" height="5" fill="#2c2b30"/>
<rect x="440" y="1275" width="40" height="5" fill="#2c2b30"/>
<rect x="480" y="1275" width="40" height="5" fill="#2c2b30"/>
<rect x="520" y="1275" width="40" height="5" fill="#2c2b30"/>
<rect x="560" y="1275" width="40" height="5" fill="#2c2b30"/>
<rect x="600" y="1275" width="40" height="5" fill="#2c2b30"/>
<rect x="640" y="1275" width="40" height="5" fill="#2c2b30"/>
<rect x="680" y="1275" width="40" height="5" fill="#2c2b30"/>
<rect x="720" y="1275" width="40" height="5" fill="#2c2b30"/>
<rect x="760" y="1275" width="40" height="5" fill="#2c2b30"/>
<rect x="800" y="1275" width="40" height="5" fill="#2c2b30"/>
<rect x="840" y="1275" width="40" height="5" fill="#2c2b30"/>
<rect x="880" y="1275" width="40" height="5" fill="#2c2b30"/>
<rect x="920" y="1275" width="40" height="5" fill="#2c2b30"/>
<rect x="960" y="1275" width="40" height="5" fill="#2c2b30"/>
<rect x="1035" y="1200" width="5" height="40" fill="#2c2b30"/>
<rect x="1000" y="1275" width="40" height="5" fill="#2c2b30"/>
<rect x="1035" y="1240" width="5" height="40" fill="#2c2b30"/>
<rect x="1040" y="1195" width="40" height="5" fill="#2c2b30"/>
<rect x="1080" y="1195" width="40" height="5" fill="#2c2b30"/>
<rect x="1120" y="1195" width="40" height="5" fill="#2c2b30"/>
<rect x="1160" y="1195" width="40" height="5" fill="#2c2b30"/>
<rect x="1195" y="1160" width="5" height="40" fill="#2c2b30"/>
<rect x="1200" y="1155" width="40" height="5" fill="#2c2b30"/>
<rect x="1240" y="1155" width="40" height="5" fill="#2c2b30"/>
<rect x="1275" y="1120" width="5" height="40" fill="#2c2b30"/>
<rect x="1280" y="1115" width="40" height="5" fill="#2c2b30"/>
<rect x="1320" y="1115" width="40" height="5" fill="#2c2b30"/>
<rect x="1360" y="1115" width="40" height="5" fill="#2c2b30"/>
<rect x="1395" y="1080" width="5" height="40" fill="#2c2b30"/>
<rect x="1400" y="1075" width="40" height="5" fill="#2c2b30"/>
<rect x="1440" y="1075" width="40" height="5" fill="#2c2b30"/>
<rect x="1480" y="1075" width="40" height="5" fill="#2c2b30"/>
<rect x="1515" y="1040" width="5" height="40" fill="#2c2b30"/>
<rect x="1520" y="1035" width="40" height="5" fill="#2c2b30"/>
<rect x="1560" y="1035" width="40" height="5" fill="#2c2b30"/>
<rect x="1600" y="1035" width="40" height="5" fill="#2c2b30"/>
<rect x="1640" y="1035" width="40" height="5" fill="#2c2b30"/>
<rect x="1680" y="1035" width="40" height="5" fill="#2c2b30"/>
<rect x="1720" y="1035" width="40" height="5" fill="#2c2b30"/>
<rect x="1755" y="1000" width="5" height="40" fill="#2c2b30"/>
<rect x="1760" y="995" width="40" height="5" fill="#2c2b30"/>
<rect x="1800" y="995" width="40" height="5" fill="#2c2b30"/>
<rect x="1835" y="960" width="5" height="40" fill="#2c2b30"/>
<rect x="1840" y="955" width="40" height="5" fill="#2c2b30"/>
<rect x="1880" y="955" width="40" height="5" fill="#2c2b30"/>
<rect x="1915" y="920" width="5" height="40" fill="#2c2b30"/>
<rect x="1955" y="800" width="5" height="40" fill="#2c2b30"/>
<rect x="1955" y="840" width="5" height="40" fill="#2c2b30"/>
<rect x="1920" y="915" width="40" height="5" fill="#2c2b30"/>
<rect x="1955" y="880" width="5" height="40" fill="#2c2b30"/>
<rect x="1960" y="795" width="40" height="5" fill="#2c2b30"/>
<rect x="2000" y="875" width="40" height="5" fill="#2c2b30"/>
<rect x="2040" y="875" width="40" height="5" fill="#2c2b30"/>
<rect x="2080" y="955" width="40" height="5" fill="#2c2b30"/>
<rect x="2120" y="955" width="40" height="5" fill="#2c2b30"/>
<rect x="2160" y="955" width="40" height="5" fill="#2c2b30"/>
<rect x="2235" y="880" width="5" height="40" fill="#2c2b30"/>
<rect x="2200" y="955" width="40" height="5" fill="#2c2b30"/>
<rect x="2235" y="920" width="5" height="40" fill="#2c2b30"/>
<rect x="2240" y="875" width="40" height="5" fill="#2c2b30"/>
<rect x="2315" y="800" width="5" height="40" fill="#2c2b30"/>
<rect x="2280" y="875" width="40" height="5" fill="#2c2b30"/>
<rect x="2315" y="840" width="5" height="40" fill="#2c2b30"/>
<rect x="2355" y="560" width="5" height="40" fill="#2c2b30"/>
<rect x="2355" y="600" width="5" height="40" fill="#2c2b30"/>
<rect x="2355" y="640" width="5" height="40" fill="#2c2b30"/>
<rect x="2355" y="680" width="5" height="40" fill="#2c2b30"/>
<rect x="2355" y="720" width="5" height="40" fill="#2c2b30"/>
<rect x="2320" y="795" width="40" height="5" fill="#2c2b30"/>
<rect x="2355" y="760" width="5" height="40" fill="#2c2b30"/>
<rect x="2395" y="40" width="5" height="40" fill="#2c2b30"/>
<rect x="2395" y="80" width="5" height="40" fill="#2c2b30"/>
<rect x="2395" y="120" width="5" height="40" fill="#2c2b30"/>
<rect x="2395" y="160" width="5" height="40" fill="#2c2b30"/>
<rect x="2395" y="200" width="5" height="40" fill="#2c2b30"/>
<rect x="2395" y="240" width="5" height="40" fill="#2c2b30"/>
<rect x="2395" y="280" width="5" height="40" fill="#2c2b30"/>
<rect x="2395" y="320" width="5" height="40" fill="#2c2b30"/>
<rect x="2395" y="360" width="5" height="40" fill="#2c2b30"/>
<rect x="2395" y="400" width="5" height="40" fill="#2c2b30"/>
<rect x="2395" y="440" width="5" height="40" fill="#2c2b30"/>
<rect x="2395" y="480" width="5" height="40" fill="#2c2b30"/>
<rect x="2360" y="555" width="40" height="5" fill="#2c2b30"/>
<rect x="2395" y="520" width="5" height="40" fill="#2c2b30"/>
<ellipse cx="1417.3" cy="117.4" rx="2.3" ry="1.8" fill="#28272c"/>
<ellipse cx="1257.3" cy="157.4" rx="2.3" ry="1.8" fill="#28272c"/>
<ellipse cx="1177.3" cy="197.4" rx="2.3" ry="1.8" fill="#28272c"/>
<ellipse cx="937.3" cy="277.4" rx="2.3" ry="1.8" fill="#28272c"/>
<ellipse cx="697.3" cy="317.4" rx="2.3" ry="1.8" fill="#28272c"/>
<ellipse cx="617.3" cy="357.4" rx="2.3" ry="1.8" fill="#28272c"/>
<ellipse cx="537.3" cy="397.4" rx="2.3" ry="1.8" fill="#28272c"/>
<ellipse cx="497.3" cy="517.4" rx="2.3" ry="1.8" fill="#28272c"/>
<ellipse cx="97.3" cy="757.4" rx="2.3" ry="1.8" fill="#28272c"/>
<rect x="1015.3" y="235.5" width="4.8" height="24" rx="2.2" fill="#29282d"/>
<rect x="1015.3" y="1235.5" width="4.8" height="24" rx="2.2" fill="#29282d"/>
<rect x="215.6" y="436.5" width="4.8" height="24" rx="2.2" fill="#29282d"/>
<rect x="135.4" y="515.8" width="4.8" height="24" rx="2.2" fill="#29282d"/>
<rect x="2334.6" y="756.5" width="4.8" height="24" rx="2.2" fill="#29282d"/>
<rect x="2294.6" y="836.5" width="4.8" height="24" rx="2.2" fill="#29282d"/>
<rect x="2214.6" y="916.5" width="4.8" height="24" rx="2.2" fill="#29282d"/>
<rect x="2364.0" y="116.0" width="1.2" height="48.0" fill="#57565c"/>
<rect x="2364.0" y="156.0" width="1.2" height="48.0" fill="#57565c"/>
<rect x="2364.0" y="196.0" width="1.2" height="48.0" fill="#57565c"/>
<rect x="2364.0" y="236.0" width="1.2" height="48.0" fill="#57565c"/>
<rect x="2364.0" y="276.0" width="1.2" height="48.0" fill="#57565c"/>
<rect x="324.0" y="396.0" width="1.2" height="48.0" fill="#57565c"/>
<rect x="2364.0" y="396.0" width="1.2" height="48.0" fill="#57565c"/>
<rect x="324.0" y="436.0" width="1.2" height="48.0" fill="#57565c"/>
<rect x="2364.0" y="436.0" width="1.2" height="48.0" fill="#57565c"/>
<rect x="404.0" y="476.0" width="1.2" height="48.0" fill="#57565c"/>
<rect x="2364.0" y="476.0" width="1.2" height="48.0" fill="#57565c"/>
<rect x="404.0" y="516.0" width="1.2" height="48.0" fill="#57565c"/>
<rect x="444.0" y="556.0" width="1.2" height="48.0" fill="#57565c"/>
<rect x="2324.0" y="556.0" width="1.2" height="48.0" fill="#57565c"/>
<rect x="444.0" y="596.0" width="1.2" height="48.0" fill="#57565c"/>
<rect x="2324.0" y="596.0" width="1.2" height="48.0" fill="#57565c"/>
<rect x="1004.0" y="1196.0" width="1.2" height="48.0" fill="#57565c"/>
<rect x="2204.0" y="876.0" width="1.2" height="48.0" fill="#57565c"/>
<rect x="2204.0" y="836.0" width="1.2" height="48.0" fill="#57565c"/>
<rect x="1924.0" y="836.0" width="1.2" height="48.0" fill="#57565c"/>
<rect x="2284.0" y="796.0" width="1.2" height="48.0" fill="#57565c"/>
<rect x="1924.0" y="796.0" width="1.2" height="48.0" fill="#57565c"/>
<rect x="2284.0" y="756.0" width="1.2" height="48.0" fill="#57565c"/>
<rect x="2324.0" y="716.0" width="1.2" height="48.0" fill="#57565c"/>
<rect x="1964.0" y="716.0" width="1.2" height="48.0" fill="#57565c"/>
<rect x="2324.0" y="676.0" width="1.2" height="48.0" fill="#57565c"/>
<rect x="1964.0" y="676.0" width="1.2" height="48.0" fill="#57565c"/>
<rect x="2324.0" y="636.0" width="1.2" height="48.0" fill="#57565c"/>
<rect x="956.0" y="1244.0" width="48.0" height="1.2" fill="#57565c"/>
<rect x="916.0" y="1244.0" width="48.0" height="1.2" fill="#57565c"/>
<rect x="876.0" y="1244.0" width="48.0" height="1.2" fill="#57565c"/>
<rect x="836.0" y="1244.0" width="48.0" height="1.2" fill="#57565c"/>
<rect x="796.0" y="1244.0" width="48.0" height="1.2" fill="#57565c"/>
<rect x="756.0" y="1244.0" width="48.0" height="1.2" fill="#57565c"/>
<rect x="716.0" y="1244.0" width="48.0" height="1.2" fill="#57565c"/>
<rect x="676.0" y="1244.0" width="48.0" height="1.2" fill="#57565c"/>
<rect x="636.0" y="1244.0" width="48.0" height="1.2" fill="#57565c"/>
<rect x="596.0" y="1244.0" width="48.0" height="1.2" fill="#57565c"/>
<rect x="556.0" y="1244.0" width="48.0" height="1.2" fill="#57565c"/>
<rect x="516.0" y="1244.0" width="48.0" height="1.2" fill="#57565c"/>
<rect x="476.0" y="1244.0" width="48.0" height="1.2" fill="#57565c"/>
<rect x="436.0" y="1244.0" width="48.0" height="1.2" fill="#57565c"/>
<rect x="396.0" y="1244.0" width="48.0" height="1.2" fill="#57565c"/>
<rect x="356.0" y="1244.0" width="48.0" height="1.2" fill="#57565c"/>
<rect x="316.0" y="1244.0" width="48.0" height="1.2" fill="#57565c"/>
<rect x="276.0" y="1244.0" width="48.0" height="1.2" fill="#57565c"/>
<rect x="236.0" y="1244.0" width="48.0" height="1.2" fill="#57565c"/>
<rect x="196.0" y="1244.0" width="48.0" height="1.2" fill="#57565c"/>
<rect x="156.0" y="1244.0" width="48.0" height="1.2" fill="#57565c"/>
<rect x="116.0" y="1244.0" width="48.0" height="1.2" fill="#57565c"/>
<rect x="1116.0" y="1164.0" width="48.0" height="1.2" fill="#57565c"/>
<rect x="1076.0" y="1164.0" width="48.0" height="1.2" fill="#57565c"/>
<rect x="1036.0" y="1164.0" width="48.0" height="1.2" fill="#57565c"/>
<rect x="1196.0" y="1124.0" width="48.0" height="1.2" fill="#57565c"/>
<rect x="1316.0" y="1084.0" width="48.0" height="1.2" fill="#57565c"/>
<rect x="1276.0" y="1084.0" width="48.0" height="1.2" fill="#57565c"/>
<rect x="1436.0" y="1044.0" width="48.0" height="1.2" fill="#57565c"/>
<rect x="1396.0" y="1044.0" width="48.0" height="1.2" fill="#57565c"/>
<rect x="1676.0" y="1004.0" width="48.0" height="1.2" fill="#57565c"/>
<rect x="1636.0" y="1004.0" width="48.0" height="1.2" fill="#57565c"/>
<rect x="1596.0" y="1004.0" width="48.0" height="1.2" fill="#57565c"/>
<rect x="1556.0" y="1004.0" width="48.0" height="1.2" fill="#57565c"/>
<rect x="1516.0" y="1004.0" width="48.0" height="1.2" fill="#57565c"/>
<rect x="1756.0" y="964.0" width="48.0" height="1.2" fill="#57565c"/>
<rect x="2156.0" y="924.0" width="48.0" height="1.2" fill="#57565c"/>
<rect x="2116.0" y="924.0" width="48.0" height="1.2" fill="#57565c"/>
<rect x="1836.0" y="924.0" width="48.0" height="1.2" fill="#57565c"/>
<rect x="2236.0" y="844.0" width="48.0" height="1.2" fill="#57565c"/>
<rect x="2196.0" y="844.0" width="48.0" height="1.2" fill="#57565c"/>
<rect x="2076.0" y="844.0" width="48.0" height="1.2" fill="#57565c"/>
<rect x="2036.0" y="844.0" width="48.0" height="1.2" fill="#57565c"/>
<rect x="2276.0" y="764.0" width="48.0" height="1.2" fill="#57565c"/>
<rect x="1996.0" y="764.0" width="48.0" height="1.2" fill="#57565c"/>
<rect x="1956.0" y="684.0" width="48.0" height="1.2" fill="#57565c"/>
<rect x="1436.0" y="444.0" width="48.0" height="1.2" fill="#57565c"/>
<rect x="1444.0" y="436.0" width="1.2" height="48.0" fill="#57565c"/>
<rect x="1444.0" y="476.0" width="1.2" height="48.0" fill="#57565c"/>
<rect x="796.0" y="564.0" width="48.0" height="1.2" fill="#57565c"/>
<rect x="1444.0" y="516.0" width="1.2" height="48.0" fill="#57565c"/>
<rect x="756.0" y="604.0" width="48.0" height="1.2" fill="#57565c"/>
<rect x="804.0" y="556.0" width="1.2" height="48.0" fill="#57565c"/>
<rect x="764.0" y="596.0" width="1.2" height="48.0" fill="#57565c"/>
<rect x="964.0" y="836.0" width="1.2" height="48.0" fill="#57565c"/>
<rect x="964.0" y="796.0" width="1.2" height="48.0" fill="#57565c"/>
<rect x="964.0" y="756.0" width="1.2" height="48.0" fill="#57565c"/>
<rect x="1604.0" y="716.0" width="1.2" height="48.0" fill="#57565c"/>
<rect x="956.0" y="764.0" width="48.0" height="1.2" fill="#57565c"/>
<rect x="1596.0" y="724.0" width="48.0" height="1.2" fill="#57565c"/>
<rect x="1644.0" y="676.0" width="1.2" height="48.0" fill="#57565c"/>
<rect x="1636.0" y="684.0" width="48.0" height="1.2" fill="#57565c"/>
<rect x="1434.2" y="75.5" width="1.3" height="49.0" fill="#57565c"/>
<rect x="1874.2" y="195.5" width="1.3" height="49.0" fill="#57565c"/>
<rect x="1844.5" y="235.5" width="1.2" height="49.0" fill="#57565c"/>
<rect x="1754.2" y="275.5" width="1.3" height="49.0" fill="#57565c"/>
<rect x="234.2" y="395.5" width="1.3" height="49.0" fill="#57565c"/>
<rect x="234.2" y="435.5" width="1.3" height="49.0" fill="#57565c"/>
<rect x="514.2" y="435.5" width="1.3" height="49.0" fill="#57565c"/>
<rect x="1474.2" y="435.5" width="1.3" height="49.0" fill="#57565c"/>
<rect x="154.2" y="475.5" width="1.3" height="49.0" fill="#57565c"/>
<rect x="514.2" y="475.5" width="1.3" height="49.0" fill="#57565c"/>
<rect x="1474.2" y="475.5" width="1.3" height="49.0" fill="#57565c"/>
<rect x="154.2" y="515.5" width="1.3" height="49.0" fill="#57565c"/>
<rect x="1474.2" y="515.5" width="1.3" height="49.0" fill="#57565c"/>
<rect x="114.2" y="555.5" width="1.3" height="49.0" fill="#57565c"/>
<rect x="474.2" y="555.5" width="1.3" height="49.0" fill="#57565c"/>
<rect x="834.2" y="555.5" width="1.3" height="49.0" fill="#57565c"/>
<rect x="114.2" y="595.5" width="1.3" height="49.0" fill="#57565c"/>
<rect x="474.2" y="595.5" width="1.3" height="49.0" fill="#57565c"/>
<rect x="794.2" y="595.5" width="1.3" height="49.0" fill="#57565c"/>
<rect x="74.2" y="1155.5" width="1.3" height="49.0" fill="#57565c"/>
<rect x="74.2" y="1115.5" width="1.3" height="49.0" fill="#57565c"/>
<rect x="74.2" y="1075.5" width="1.3" height="49.0" fill="#57565c"/>
<rect x="594.2" y="1035.5" width="1.3" height="49.0" fill="#57565c"/>
<rect x="74.2" y="1035.5" width="1.3" height="49.0" fill="#57565c"/>
<rect x="684.5" y="995.5" width="1.2" height="49.0" fill="#57565c"/>
<rect x="74.2" y="995.5" width="1.3" height="49.0" fill="#57565c"/>
<rect x="714.2" y="955.5" width="1.3" height="49.0" fill="#57565c"/>
<rect x="2114.2" y="875.5" width="1.3" height="49.0" fill="#57565c"/>
<rect x="74.2" y="875.5" width="1.3" height="49.0" fill="#57565c"/>
<rect x="2114.2" y="835.5" width="1.3" height="49.0" fill="#57565c"/>
<rect x="994.2" y="835.5" width="1.3" height="49.0" fill="#57565c"/>
<rect x="74.2" y="835.5" width="1.3" height="49.0" fill="#57565c"/>
<rect x="2034.2" y="795.5" width="1.3" height="49.0" fill="#57565c"/>
<rect x="994.2" y="795.5" width="1.3" height="49.0" fill="#57565c"/>
<rect x="74.2" y="795.5" width="1.3" height="49.0" fill="#57565c"/>
<rect x="2034.2" y="755.5" width="1.3" height="49.0" fill="#57565c"/>
<rect x="994.2" y="755.5" width="1.3" height="49.0" fill="#57565c"/>
<rect x="1994.2" y="715.5" width="1.3" height="49.0" fill="#57565c"/>
<rect x="1634.2" y="715.5" width="1.3" height="49.0" fill="#57565c"/>
<rect x="114.2" y="715.5" width="1.3" height="49.0" fill="#57565c"/>
<rect x="1994.2" y="675.5" width="1.3" height="49.0" fill="#57565c"/>
<rect x="1674.2" y="675.5" width="1.3" height="49.0" fill="#57565c"/>
<rect x="114.2" y="675.5" width="1.3" height="49.0" fill="#57565c"/>
<rect x="114.2" y="635.5" width="1.3" height="49.0" fill="#57565c"/>
<rect x="1435.0" y="73.6" width="50.0" height="1.4" fill="#57565c"/>
<rect x="1475.0" y="73.6" width="50.0" height="1.4" fill="#57565c"/>
<rect x="1515.0" y="73.6" width="50.0" height="1.4" fill="#57565c"/>
<rect x="1555.0" y="73.6" width="50.0" height="1.4" fill="#57565c"/>
<rect x="1595.0" y="73.6" width="50.0" height="1.4" fill="#57565c"/>
<rect x="1635.0" y="73.6" width="50.0" height="1.4" fill="#57565c"/>
<rect x="1675.0" y="73.6" width="50.0" height="1.4" fill="#57565c"/>
<rect x="1715.0" y="73.6" width="50.0" height="1.4" fill="#57565c"/>
<rect x="1755.0" y="73.6" width="50.0" height="1.4" fill="#57565c"/>
<rect x="1795.0" y="73.6" width="50.0" height="1.4" fill="#57565c"/>
<rect x="1835.0" y="73.6" width="50.0" height="1.4" fill="#57565c"/>
<rect x="1875.0" y="73.6" width="50.0" height="1.4" fill="#57565c"/>
<rect x="1915.0" y="73.6" width="50.0" height="1.4" fill="#57565c"/>
<rect x="1955.0" y="73.6" width="50.0" height="1.4" fill="#57565c"/>
<rect x="1995.0" y="73.6" width="50.0" height="1.4" fill="#57565c"/>
<rect x="2035.0" y="73.6" width="50.0" height="1.4" fill="#57565c"/>
<rect x="2075.0" y="73.6" width="50.0" height="1.4" fill="#57565c"/>
<rect x="2115.0" y="73.6" width="50.0" height="1.4" fill="#57565c"/>
<rect x="2155.0" y="73.6" width="50.0" height="1.4" fill="#57565c"/>
<rect x="2195.0" y="73.6" width="50.0" height="1.4" fill="#57565c"/>
<rect x="2235.0" y="73.6" width="50.0" height="1.4" fill="#57565c"/>
<rect x="2275.0" y="73.6" width="50.0" height="1.4" fill="#57565c"/>
<rect x="1275.0" y="153.6" width="50.0" height="1.4" fill="#57565c"/>
<rect x="1315.0" y="153.6" width="50.0" height="1.4" fill="#57565c"/>
<rect x="1355.0" y="153.6" width="50.0" height="1.4" fill="#57565c"/>
<rect x="1195.0" y="193.6" width="50.0" height="1.4" fill="#57565c"/>
<rect x="1075.0" y="233.6" width="50.0" height="1.4" fill="#57565c"/>
<rect x="1115.0" y="233.6" width="50.0" height="1.4" fill="#57565c"/>
<rect x="1795.0" y="233.6" width="50.0" height="1.4" fill="#57565c"/>
<rect x="955.0" y="273.6" width="50.0" height="1.4" fill="#57565c"/>
<rect x="995.0" y="273.6" width="50.0" height="1.4" fill="#57565c"/>
<rect x="1755.5" y="324.5" width="49.0" height="1.2" fill="#57565c"/>
<rect x="715.0" y="313.6" width="50.0" height="1.4" fill="#57565c"/>
<rect x="755.0" y="313.6" width="50.0" height="1.4" fill="#57565c"/>
<rect x="795.0" y="313.6" width="50.0" height="1.4" fill="#57565c"/>
<rect x="835.0" y="313.6" width="50.0" height="1.4" fill="#57565c"/>
<rect x="875.0" y="313.6" width="50.0" height="1.4" fill="#57565c"/>
<rect x="635.0" y="353.6" width="50.0" height="1.4" fill="#57565c"/>
<rect x="1715.0" y="353.6" width="50.0" height="1.4" fill="#57565c"/>
<rect x="235.0" y="393.6" width="50.0" height="1.4" fill="#57565c"/>
<rect x="275.0" y="393.6" width="50.0" height="1.4" fill="#57565c"/>
<rect x="555.0" y="393.6" width="50.0" height="1.4" fill="#57565c"/>
<rect x="155.0" y="473.6" width="50.0" height="1.4" fill="#57565c"/>
<rect x="195.0" y="473.6" width="50.0" height="1.4" fill="#57565c"/>
<rect x="315.0" y="473.6" width="50.0" height="1.4" fill="#57565c"/>
<rect x="355.0" y="473.6" width="50.0" height="1.4" fill="#57565c"/>
<rect x="115.0" y="553.6" width="50.0" height="1.4" fill="#57565c"/>
<rect x="395.0" y="553.6" width="50.0" height="1.4" fill="#57565c"/>
<rect x="1435.0" y="553.6" width="50.0" height="1.4" fill="#57565c"/>
<rect x="795.0" y="593.6" width="50.0" height="1.4" fill="#57565c"/>
<rect x="555.0" y="1113.6" width="50.0" height="1.4" fill="#57565c"/>
<rect x="595.5" y="1084.5" width="49.0" height="1.2" fill="#57565c"/>
<rect x="635.0" y="993.6" width="50.0" height="1.4" fill="#57565c"/>
<rect x="955.0" y="873.6" width="50.0" height="1.4" fill="#57565c"/>
<rect x="1595.0" y="753.6" width="50.0" height="1.4" fill="#57565c"/>
<rect x="1635.0" y="713.6" width="50.0" height="1.4" fill="#57565c"/>
<rect x="435.0" y="633.6" width="50.0" height="1.4" fill="#57565c"/>
<rect x="755.0" y="633.6" width="50.0" height="1.4" fill="#57565c"/>
<rect x="2360" y="116.0" width="4.0" height="48.0" fill="#36353b"/>
<rect x="2360" y="156.0" width="4.0" height="48.0" fill="#36353b"/>
<rect x="2360" y="196.0" width="4.0" height="48.0" fill="#36353b"/>
<rect x="2360" y="236.0" width="4.0" height="48.0" fill="#36353b"/>
<rect x="2360" y="276.0" width="4.0" height="48.0" fill="#36353b"/>
<line x1="2320" y1="360" x2="2360" y2="320" stroke="#3d3c42" stroke-width="7" stroke-linecap="round"/>
<rect x="320" y="396.0" width="4.0" height="48.0" fill="#36353b"/>
<rect x="2360" y="396.0" width="4.0" height="48.0" fill="#36353b"/>
<rect x="320" y="436.0" width="4.0" height="48.0" fill="#36353b"/>
<rect x="2360" y="436.0" width="4.0" height="48.0" fill="#36353b"/>
<rect x="400" y="476.0" width="4.0" height="48.0" fill="#36353b"/>
<rect x="2360" y="476.0" width="4.0" height="48.0" fill="#36353b"/>
<rect x="400" y="516.0" width="4.0" height="48.0" fill="#36353b"/>
<line x1="2320" y1="560" x2="2360" y2="520" stroke="#3d3c42" stroke-width="7" stroke-linecap="round"/>
<rect x="440" y="556.0" width="4.0" height="48.0" fill="#36353b"/>
<rect x="2320" y="556.0" width="4.0" height="48.0" fill="#36353b"/>
<rect x="440" y="596.0" width="4.0" height="48.0" fill="#36353b"/>
<rect x="2320" y="596.0" width="4.0" height="48.0" fill="#36353b"/>
<rect x="1000" y="1196.0" width="4.0" height="48.0" fill="#36353b"/>
<line x1="1000" y1="1200" x2="1040" y2="1160" stroke="#3d3c42" stroke-width="7" stroke-linecap="round"/>
<line x1="1160" y1="1160" x2="1200" y2="1120" stroke="#3d3c42" stroke-width="7" stroke-linecap="round"/>
<line x1="1240" y1="1120" x2="1280" y2="1080" stroke="#3d3c42" stroke-width="7" stroke-linecap="round"/>
<line x1="1360" y1="1080" x2="1400" y2="1040" stroke="#3d3c42" stroke-width="7" stroke-linecap="round"/>
<line x1="1480" y1="1040" x2="1520" y2="1000" stroke="#3d3c42" stroke-width="7" stroke-linecap="round"/>
<line x1="1720" y1="1000" x2="1760" y2="960" stroke="#3d3c42" stroke-width="7" stroke-linecap="round"/>
<line x1="1800" y1="960" x2="1840" y2="920" stroke="#3d3c42" stroke-width="7" stroke-linecap="round"/>
<rect x="2200" y="876.0" width="4.0" height="48.0" fill="#36353b"/>
<line x1="1880" y1="920" x2="1920" y2="880" stroke="#3d3c42" stroke-width="7" stroke-linecap="round"/>
<rect x="2200" y="836.0" width="4.0" height="48.0" fill="#36353b"/>
<rect x="1920" y="836.0" width="4.0" height="48.0" fill="#36353b"/>
<rect x="2280" y="796.0" width="4.0" height="48.0" fill="#36353b"/>
<rect x="1920" y="796.0" width="4.0" height="48.0" fill="#36353b"/>
<rect x="2280" y="756.0" width="4.0" height="48.0" fill="#36353b"/>
<line x1="1920" y1="800" x2="1960" y2="760" stroke="#3d3c42" stroke-width="7" stroke-linecap="round"/>
<rect x="2320" y="716.0" width="4.0" height="48.0" fill="#36353b"/>
<rect x="1960" y="716.0" width="4.0" height="48.0" fill="#36353b"/>
<rect x="2320" y="676.0" width="4.0" height="48.0" fill="#36353b"/>
<rect x="1960" y="676.0" width="4.0" height="48.0" fill="#36353b"/>
<rect x="2320" y="636.0" width="4.0" height="48.0" fill="#36353b"/>
<rect x="956.0" y="1240" width="48.0" height="4.0" fill="#323137"/>
<rect x="916.0" y="1240" width="48.0" height="4.0" fill="#323137"/>
<rect x="876.0" y="1240" width="48.0" height="4.0" fill="#323137"/>
<rect x="836.0" y="1240" width="48.0" height="4.0" fill="#323137"/>
<rect x="796.0" y="1240" width="48.0" height="4.0" fill="#323137"/>
<rect x="756.0" y="1240" width="48.0" height="4.0" fill="#323137"/>
<rect x="716.0" y="1240" width="48.0" height="4.0" fill="#323137"/>
<rect x="676.0" y="1240" width="48.0" height="4.0" fill="#323137"/>
<rect x="636.0" y="1240" width="48.0" height="4.0" fill="#323137"/>
<rect x="596.0" y="1240" width="48.0" height="4.0" fill="#323137"/>
<rect x="556.0" y="1240" width="48.0" height="4.0" fill="#323137"/>
<rect x="516.0" y="1240" width="48.0" height="4.0" fill="#323137"/>
<rect x="476.0" y="1240" width="48.0" height="4.0" fill="#323137"/>
<rect x="436.0" y="1240" width="48.0" height="4.0" fill="#323137"/>
<rect x="396.0" y="1240" width="48.0" height="4.0" fill="#323137"/>
<rect x="356.0" y="1240" width="48.0" height="4.0" fill="#323137"/>
<rect x="316.0" y="1240" width="48.0" height="4.0" fill="#323137"/>
<rect x="276.0" y="1240" width="48.0" height="4.0" fill="#323137"/>
<rect x="236.0" y="1240" width="48.0" height="4.0" fill="#323137"/>
<rect x="196.0" y="1240" width="48.0" height="4.0" fill="#323137"/>
<rect x="156.0" y="1240" width="48.0" height="4.0" fill="#323137"/>
<rect x="116.0" y="1240" width="48.0" height="4.0" fill="#323137"/>
<rect x="1116.0" y="1160" width="48.0" height="4.0" fill="#323137"/>
<rect x="1076.0" y="1160" width="48.0" height="4.0" fill="#323137"/>
<rect x="1036.0" y="1160" width="48.0" height="4.0" fill="#323137"/>
<rect x="1196.0" y="1120" width="48.0" height="4.0" fill="#323137"/>
<rect x="1316.0" y="1080" width="48.0" height="4.0" fill="#323137"/>
<rect x="1276.0" y="1080" width="48.0" height="4.0" fill="#323137"/>
<rect x="1436.0" y="1040" width="48.0" height="4.0" fill="#323137"/>
<rect x="1396.0" y="1040" width="48.0" height="4.0" fill="#323137"/>
<rect x="1676.0" y="1000" width="48.0" height="4.0" fill="#323137"/>
<rect x="1636.0" y="1000" width="48.0" height="4.0" fill="#323137"/>
<rect x="1596.0" y="1000" width="48.0" height="4.0" fill="#323137"/>
<rect x="1556.0" y="1000" width="48.0" height="4.0" fill="#323137"/>
<rect x="1516.0" y="1000" width="48.0" height="4.0" fill="#323137"/>
<rect x="1756.0" y="960" width="48.0" height="4.0" fill="#323137"/>
<rect x="2156.0" y="920" width="48.0" height="4.0" fill="#323137"/>
<rect x="2116.0" y="920" width="48.0" height="4.0" fill="#323137"/>
<rect x="1836.0" y="920" width="48.0" height="4.0" fill="#323137"/>
<rect x="2236.0" y="840" width="48.0" height="4.0" fill="#323137"/>
<rect x="2196.0" y="840" width="48.0" height="4.0" fill="#323137"/>
<rect x="2076.0" y="840" width="48.0" height="4.0" fill="#323137"/>
<rect x="2036.0" y="840" width="48.0" height="4.0" fill="#323137"/>
<rect x="2276.0" y="760" width="48.0" height="4.0" fill="#323137"/>
<rect x="1996.0" y="760" width="48.0" height="4.0" fill="#323137"/>
<rect x="1956.0" y="680" width="48.0" height="4.0" fill="#323137"/>
<rect x="1436.0" y="440" width="48.0" height="4.0" fill="#2d2c31"/>
<rect x="1440" y="436.0" width="4.0" height="48.0" fill="#2a292e"/>
<rect x="1440" y="476.0" width="4.0" height="48.0" fill="#2a292e"/>
<rect x="796.0" y="560" width="48.0" height="4.0" fill="#2d2c31"/>
<rect x="1440" y="516.0" width="4.0" height="48.0" fill="#2a292e"/>
<rect x="756.0" y="600" width="48.0" height="4.0" fill="#2d2c31"/>
<rect x="800" y="556.0" width="4.0" height="48.0" fill="#2a292e"/>
<rect x="760" y="596.0" width="4.0" height="48.0" fill="#2a292e"/>
<line x1="80" y1="1200" x2="120" y2="1240" stroke="#2b2a2f" stroke-width="8" stroke-linecap="round"/>
<line x1="80" y1="920" x2="120" y2="960" stroke="#2b2a2f" stroke-width="8" stroke-linecap="round"/>
<rect x="960" y="836.0" width="4.0" height="48.0" fill="#2a292e"/>
<rect x="960" y="796.0" width="4.0" height="48.0" fill="#2a292e"/>
<rect x="960" y="756.0" width="4.0" height="48.0" fill="#2a292e"/>
<rect x="1600" y="716.0" width="4.0" height="48.0" fill="#2a292e"/>
<rect x="956.0" y="760" width="48.0" height="4.0" fill="#2d2c31"/>
<rect x="1596.0" y="720" width="48.0" height="4.0" fill="#2d2c31"/>
<rect x="1640" y="676.0" width="4.0" height="48.0" fill="#2a292e"/>
<rect x="1636.0" y="680" width="48.0" height="4.0" fill="#2d2c31"/>
<rect x="1435.5" y="75.5" width="4.5" height="49.0" fill="#1f1e23"/>
<rect x="1875.5" y="195.5" width="4.5" height="49.0" fill="#1f1e23"/>
<rect x="1840" y="235.5" width="4.5" height="49.0" fill="#1f1e23"/>
<rect x="1755.5" y="275.5" width="4.5" height="49.0" fill="#1f1e23"/>
<rect x="235.5" y="395.5" width="4.5" height="49.0" fill="#1f1e23"/>
<rect x="235.5" y="435.5" width="4.5" height="49.0" fill="#1f1e23"/>
<rect x="515.5" y="435.5" width="4.5" height="49.0" fill="#1f1e23"/>
<rect x="1475.5" y="435.5" width="4.5" height="49.0" fill="#1f1e23"/>
<rect x="155.5" y="475.5" width="4.5" height="49.0" fill="#1f1e23"/>
<rect x="515.5" y="475.5" width="4.5" height="49.0" fill="#1f1e23"/>
<rect x="1475.5" y="475.5" width="4.5" height="49.0" fill="#1f1e23"/>
<rect x="155.5" y="515.5" width="4.5" height="49.0" fill="#1f1e23"/>
<rect x="1475.5" y="515.5" width="4.5" height="49.0" fill="#1f1e23"/>
<rect x="115.5" y="555.5" width="4.5" height="49.0" fill="#1f1e23"/>
<rect x="475.5" y="555.5" width="4.5" height="49.0" fill="#1f1e23"/>
<rect x="835.5" y="555.5" width="4.5" height="49.0" fill="#1f1e23"/>
<rect x="115.5" y="595.5" width="4.5" height="49.0" fill="#1f1e23"/>
<rect x="475.5" y="595.5" width="4.5" height="49.0" fill="#1f1e23"/>
<rect x="795.5" y="595.5" width="4.5" height="49.0" fill="#1f1e23"/>
<rect x="75.5" y="1155.5" width="4.5" height="49.0" fill="#1f1e23"/>
<rect x="75.5" y="1115.5" width="4.5" height="49.0" fill="#1f1e23"/>
<rect x="75.5" y="1075.5" width="4.5" height="49.0" fill="#1f1e23"/>
<rect x="595.5" y="1035.5" width="4.5" height="49.0" fill="#1f1e23"/>
<rect x="75.5" y="1035.5" width="4.5" height="49.0" fill="#1f1e23"/>
<rect x="680" y="995.5" width="4.5" height="49.0" fill="#1f1e23"/>
<rect x="75.5" y="995.5" width="4.5" height="49.0" fill="#1f1e23"/>
<rect x="715.5" y="955.5" width="4.5" height="49.0" fill="#1f1e23"/>
<rect x="2115.5" y="875.5" width="4.5" height="49.0" fill="#1f1e23"/>
<rect x="75.5" y="875.5" width="4.5" height="49.0" fill="#1f1e23"/>
<rect x="2115.5" y="835.5" width="4.5" height="49.0" fill="#1f1e23"/>
<rect x="995.5" y="835.5" width="4.5" height="49.0" fill="#1f1e23"/>
<rect x="75.5" y="835.5" width="4.5" height="49.0" fill="#1f1e23"/>
<rect x="2035.5" y="795.5" width="4.5" height="49.0" fill="#1f1e23"/>
<rect x="995.5" y="795.5" width="4.5" height="49.0" fill="#1f1e23"/>
<rect x="75.5" y="795.5" width="4.5" height="49.0" fill="#1f1e23"/>
<rect x="2035.5" y="755.5" width="4.5" height="49.0" fill="#1f1e23"/>
<rect x="995.5" y="755.5" width="4.5" height="49.0" fill="#1f1e23"/>
<rect x="1995.5" y="715.5" width="4.5" height="49.0" fill="#1f1e23"/>
<rect x="1635.5" y="715.5" width="4.5" height="49.0" fill="#1f1e23"/>
<rect x="115.5" y="715.5" width="4.5" height="49.0" fill="#1f1e23"/>
<rect x="1995.5" y="675.5" width="4.5" height="49.0" fill="#1f1e23"/>
<rect x="1675.5" y="675.5" width="4.5" height="49.0" fill="#1f1e23"/>
<rect x="115.5" y="675.5" width="4.5" height="49.0" fill="#1f1e23"/>
<rect x="115.5" y="635.5" width="4.5" height="49.0" fill="#1f1e23"/>
<rect x="1435.0" y="75.0" width="50.0" height="5.0" fill="#1d1c21"/>
<rect x="1475.0" y="75.0" width="50.0" height="5.0" fill="#1d1c21"/>
<rect x="1515.0" y="75.0" width="50.0" height="5.0" fill="#1d1c21"/>
<rect x="1555.0" y="75.0" width="50.0" height="5.0" fill="#1d1c21"/>
<rect x="1595.0" y="75.0" width="50.0" height="5.0" fill="#1d1c21"/>
<rect x="1635.0" y="75.0" width="50.0" height="5.0" fill="#1d1c21"/>
<rect x="1675.0" y="75.0" width="50.0" height="5.0" fill="#1d1c21"/>
<rect x="1715.0" y="75.0" width="50.0" height="5.0" fill="#1d1c21"/>
<rect x="1755.0" y="75.0" width="50.0" height="5.0" fill="#1d1c21"/>
<rect x="1795.0" y="75.0" width="50.0" height="5.0" fill="#1d1c21"/>
<rect x="1835.0" y="75.0" width="50.0" height="5.0" fill="#1d1c21"/>
<rect x="1875.0" y="75.0" width="50.0" height="5.0" fill="#1d1c21"/>
<rect x="1915.0" y="75.0" width="50.0" height="5.0" fill="#1d1c21"/>
<rect x="1955.0" y="75.0" width="50.0" height="5.0" fill="#1d1c21"/>
<rect x="1995.0" y="75.0" width="50.0" height="5.0" fill="#1d1c21"/>
<rect x="2035.0" y="75.0" width="50.0" height="5.0" fill="#1d1c21"/>
<rect x="2075.0" y="75.0" width="50.0" height="5.0" fill="#1d1c21"/>
<rect x="2115.0" y="75.0" width="50.0" height="5.0" fill="#1d1c21"/>
<rect x="2155.0" y="75.0" width="50.0" height="5.0" fill="#1d1c21"/>
<rect x="2195.0" y="75.0" width="50.0" height="5.0" fill="#1d1c21"/>
<rect x="2235.0" y="75.0" width="50.0" height="5.0" fill="#1d1c21"/>
<rect x="2275.0" y="75.0" width="50.0" height="5.0" fill="#1d1c21"/>
<line x1="2320" y1="80" x2="2360" y2="120" stroke="#1d1c21" stroke-width="9" stroke-linecap="round"/>
<line x1="1400" y1="160" x2="1440" y2="120" stroke="#1d1c21" stroke-width="9" stroke-linecap="round"/>
<line x1="1240" y1="200" x2="1280" y2="160" stroke="#1d1c21" stroke-width="9" stroke-linecap="round"/>
<rect x="1275.0" y="155.0" width="50.0" height="5.0" fill="#1d1c21"/>
<rect x="1315.0" y="155.0" width="50.0" height="5.0" fill="#1d1c21"/>
<rect x="1355.0" y="155.0" width="50.0" height="5.0" fill="#1d1c21"/>
<line x1="1160" y1="240" x2="1200" y2="200" stroke="#1d1c21" stroke-width="9" stroke-linecap="round"/>
<rect x="1195.0" y="195.0" width="50.0" height="5.0" fill="#1d1c21"/>
<line x1="1040" y1="280" x2="1080" y2="240" stroke="#1d1c21" stroke-width="9" stroke-linecap="round"/>
<rect x="1075.0" y="235.0" width="50.0" height="5.0" fill="#1d1c21"/>
<rect x="1115.0" y="235.0" width="50.0" height="5.0" fill="#1d1c21"/>
<rect x="1795.0" y="235.0" width="50.0" height="5.0" fill="#1d1c21"/>
<line x1="1840" y1="280" x2="1880" y2="240" stroke="#1d1c21" stroke-width="9" stroke-linecap="round"/>
<line x1="920" y1="320" x2="960" y2="280" stroke="#1d1c21" stroke-width="9" stroke-linecap="round"/>
<rect x="955.0" y="275.0" width="50.0" height="5.0" fill="#1d1c21"/>
<rect x="995.0" y="275.0" width="50.0" height="5.0" fill="#1d1c21"/>
<rect x="1755.5" y="320" width="49.0" height="4.5" fill="#1d1c21"/>
<line x1="680" y1="360" x2="720" y2="320" stroke="#1d1c21" stroke-width="9" stroke-linecap="round"/>
<rect x="715.0" y="315.0" width="50.0" height="5.0" fill="#1d1c21"/>
<rect x="755.0" y="315.0" width="50.0" height="5.0" fill="#1d1c21"/>
<rect x="795.0" y="315.0" width="50.0" height="5.0" fill="#1d1c21"/>
<rect x="835.0" y="315.0" width="50.0" height="5.0" fill="#1d1c21"/>
<rect x="875.0" y="315.0" width="50.0" height="5.0" fill="#1d1c21"/>
<line x1="1760" y1="360" x2="1800" y2="320" stroke="#1d1c21" stroke-width="9" stroke-linecap="round"/>
<line x1="600" y1="400" x2="640" y2="360" stroke="#1d1c21" stroke-width="9" stroke-linecap="round"/>
<rect x="635.0" y="355.0" width="50.0" height="5.0" fill="#1d1c21"/>
<rect x="1715.0" y="355.0" width="50.0" height="5.0" fill="#1d1c21"/>
<line x1="2320" y1="360" x2="2360" y2="400" stroke="#1d1c21" stroke-width="9" stroke-linecap="round"/>
<rect x="235.0" y="395.0" width="50.0" height="5.0" fill="#1d1c21"/>
<rect x="275.0" y="395.0" width="50.0" height="5.0" fill="#1d1c21"/>
<line x1="520" y1="440" x2="560" y2="400" stroke="#1d1c21" stroke-width="9" stroke-linecap="round"/>
<rect x="555.0" y="395.0" width="50.0" height="5.0" fill="#1d1c21"/>
<rect x="155.0" y="475.0" width="50.0" height="5.0" fill="#1d1c21"/>
<rect x="195.0" y="475.0" width="50.0" height="5.0" fill="#1d1c21"/>
<rect x="315.0" y="475.0" width="50.0" height="5.0" fill="#1d1c21"/>
<rect x="355.0" y="475.0" width="50.0" height="5.0" fill="#1d1c21"/>
<line x1="480" y1="560" x2="520" y2="520" stroke="#1d1c21" stroke-width="9" stroke-linecap="round"/>
<rect x="115.0" y="555.0" width="50.0" height="5.0" fill="#1d1c21"/>
<rect x="395.0" y="555.0" width="50.0" height="5.0" fill="#1d1c21"/>
<rect x="1435.0" y="555.0" width="50.0" height="5.0" fill="#1d1c21"/>
<rect x="795.0" y="595.0" width="50.0" height="5.0" fill="#1d1c21"/>
<rect x="555.0" y="1115.0" width="50.0" height="5.0" fill="#1d1c21"/>
<line x1="600" y1="1120" x2="640" y2="1080" stroke="#1d1c21" stroke-width="9" stroke-linecap="round"/>
<rect x="595.5" y="1080" width="49.0" height="4.5" fill="#1d1c21"/>
<line x1="680" y1="1040" x2="720" y2="1000" stroke="#1d1c21" stroke-width="9" stroke-linecap="round"/>
<rect x="635.0" y="995.0" width="50.0" height="5.0" fill="#1d1c21"/>
<line x1="80" y1="1000" x2="120" y2="960" stroke="#1d1c21" stroke-width="9" stroke-linecap="round"/>
<rect x="955.0" y="875.0" width="50.0" height="5.0" fill="#1d1c21"/>
<rect x="1595.0" y="755.0" width="50.0" height="5.0" fill="#1d1c21"/>
<line x1="80" y1="800" x2="120" y2="760" stroke="#1d1c21" stroke-width="9" stroke-linecap="round"/>
<rect x="1635.0" y="715.0" width="50.0" height="5.0" fill="#1d1c21"/>
<rect x="435.0" y="635.0" width="50.0" height="5.0" fill="#1d1c21"/>
<rect x="755.0" y="635.0" width="50.0" height="5.0" fill="#1d1c21"/>
<polygon points="120,760 120,800 80,800" fill="url(#tF)"/>
<rect x="80" y="800" width="40" height="40" fill="url(#tF)"/>
<rect x="80" y="840" width="40" height="40" fill="url(#tF)"/>
<rect x="80" y="880" width="40" height="40" fill="url(#tF)"/>
<polygon points="80,920 120,920 120,960" fill="url(#tF)"/>
<polygon points="120,960 120,1000 80,1000" fill="url(#tF)"/>
<rect x="80" y="1000" width="40" height="40" fill="url(#tF)"/>
<rect x="80" y="1040" width="40" height="40" fill="url(#tF)"/>
<rect x="80" y="1080" width="40" height="40" fill="url(#tF)"/>
<rect x="80" y="1120" width="40" height="40" fill="url(#tF)"/>
<rect x="80" y="1160" width="40" height="40" fill="url(#tF)"/>
<polygon points="80,1200 120,1200 120,1240" fill="url(#tF)"/>
<rect x="120" y="560" width="40" height="40" fill="url(#tP)"/>
<rect x="120" y="600" width="40" height="40" fill="url(#tP)"/>
<rect x="120" y="640" width="40" height="40" fill="url(#tF)"/>
<rect x="120" y="680" width="40" height="40" fill="url(#tF)"/>
<rect x="120" y="720" width="40" height="40" fill="url(#tF)"/>
<rect x="120" y="760" width="40" height="40" fill="url(#tF)"/>
<rect x="120" y="800" width="40" height="40" fill="url(#tF)"/>
<rect x="120" y="840" width="40" height="40" fill="url(#tF)"/>
<rect x="120" y="880" width="40" height="40" fill="url(#tF)"/>
<rect x="120" y="920" width="40" height="40" fill="url(#tF)"/>
<rect x="120" y="960" width="40" height="40" fill="url(#tF)"/>
<rect x="120" y="1000" width="40" height="40" fill="url(#tF)"/>
<rect x="120" y="1040" width="40" height="40" fill="url(#tF)"/>
<rect x="120" y="1080" width="40" height="40" fill="url(#tF)"/>
<rect x="120" y="1120" width="40" height="40" fill="url(#tF)"/>
<rect x="120" y="1160" width="40" height="40" fill="url(#tF)"/>
<rect x="120" y="1200" width="40" height="40" fill="url(#tF)"/>
<rect x="160" y="480" width="40" height="40" fill="url(#tCB)"/>
<rect x="160" y="520" width="40" height="40" fill="url(#tCB)"/>
<rect x="160" y="560" width="40" height="40" fill="url(#tP)"/>
<rect x="160" y="600" width="40" height="40" fill="url(#tP)"/>
<rect x="160" y="640" width="40" height="40" fill="url(#tF)"/>
<rect x="160" y="680" width="40" height="40" fill="url(#tF)"/>
<rect x="160" y="720" width="40" height="40" fill="url(#tF)"/>
<rect x="160" y="760" width="40" height="40" fill="url(#tF)"/>
<rect x="160" y="800" width="40" height="40" fill="url(#tF)"/>
<rect x="160" y="840" width="40" height="40" fill="url(#tF)"/>
<rect x="160" y="880" width="40" height="40" fill="url(#tF)"/>
<rect x="160" y="920" width="40" height="40" fill="url(#tF)"/>
<rect x="160" y="960" width="40" height="40" fill="url(#tF)"/>
<rect x="160" y="1000" width="40" height="40" fill="url(#tF)"/>
<rect x="160" y="1040" width="40" height="40" fill="url(#tF)"/>
<rect x="160" y="1080" width="40" height="40" fill="url(#tF)"/>
<rect x="160" y="1120" width="40" height="40" fill="url(#tF)"/>
<rect x="160" y="1160" width="40" height="40" fill="url(#tF)"/>
<rect x="160" y="1200" width="40" height="40" fill="url(#tF)"/>
<rect x="200" y="480" width="40" height="40" fill="url(#tCB)"/>
<rect x="200" y="520" width="40" height="40" fill="url(#tCB)"/>
<rect x="200" y="560" width="40" height="40" fill="url(#tP)"/>
<rect x="200" y="600" width="40" height="40" fill="url(#tP)"/>
<rect x="200" y="640" width="40" height="40" fill="url(#tF)"/>
<rect x="200" y="680" width="40" height="40" fill="url(#tF)"/>
<rect x="200" y="720" width="40" height="40" fill="url(#tF)"/>
<rect x="200" y="760" width="40" height="40" fill="url(#tF)"/>
<rect x="200" y="800" width="40" height="40" fill="url(#tF)"/>
<rect x="200" y="840" width="40" height="40" fill="url(#tF)"/>
<rect x="200" y="880" width="40" height="40" fill="url(#tF)"/>
<rect x="200" y="920" width="40" height="40" fill="url(#tF)"/>
<rect x="200" y="960" width="40" height="40" fill="url(#tF)"/>
<rect x="200" y="1000" width="40" height="40" fill="url(#tF)"/>
<rect x="200" y="1040" width="40" height="40" fill="url(#tF)"/>
<rect x="200" y="1080" width="40" height="40" fill="url(#tF)"/>
<rect x="200" y="1120" width="40" height="40" fill="url(#tF)"/>
<rect x="200" y="1160" width="40" height="40" fill="url(#tF)"/>
<rect x="200" y="1200" width="40" height="40" fill="url(#tF)"/>
<rect x="240" y="400" width="40" height="40" fill="url(#tF)"/>
<rect x="240" y="440" width="40" height="40" fill="url(#tF)"/>
<rect x="240" y="480" width="40" height="40" fill="url(#tCB)"/>
<rect x="240" y="520" width="40" height="40" fill="url(#tCB)"/>
<rect x="240" y="560" width="40" height="40" fill="url(#tP)"/>
<rect x="240" y="600" width="40" height="40" fill="url(#tP)"/>
<rect x="240" y="640" width="40" height="40" fill="url(#tF)"/>
<rect x="240" y="680" width="40" height="40" fill="url(#tF)"/>
<rect x="240" y="720" width="40" height="40" fill="url(#tF)"/>
<rect x="240" y="760" width="40" height="40" fill="url(#tF)"/>
<rect x="240" y="800" width="40" height="40" fill="url(#tF)"/>
<rect x="240" y="840" width="40" height="40" fill="url(#tF)"/>
<rect x="240" y="880" width="40" height="40" fill="url(#tF)"/>
<rect x="240" y="920" width="40" height="40" fill="url(#tF)"/>
<rect x="240" y="960" width="40" height="40" fill="url(#tF)"/>
<rect x="240" y="1000" width="40" height="40" fill="url(#tF)"/>
<rect x="240" y="1040" width="40" height="40" fill="url(#tF)"/>
<rect x="240" y="1080" width="40" height="40" fill="url(#tF)"/>
<rect x="240" y="1120" width="40" height="40" fill="url(#tF)"/>
<rect x="240" y="1160" width="40" height="40" fill="url(#tF)"/>
<rect x="240" y="1200" width="40" height="40" fill="url(#tF)"/>
<rect x="280" y="400" width="40" height="40" fill="url(#tF)"/>
<rect x="280" y="440" width="40" height="40" fill="url(#tF)"/>
<rect x="280" y="480" width="40" height="40" fill="url(#tCB)"/>
<rect x="280" y="520" width="40" height="40" fill="url(#tCB)"/>
<rect x="280" y="560" width="40" height="40" fill="url(#tP)"/>
<rect x="280" y="600" width="40" height="40" fill="url(#tP)"/>
<rect x="280" y="640" width="40" height="40" fill="url(#tF)"/>
<rect x="280" y="680" width="40" height="40" fill="url(#tF)"/>
<rect x="280" y="720" width="40" height="40" fill="url(#tF)"/>
<rect x="280" y="760" width="40" height="40" fill="url(#tF)"/>
<rect x="280" y="800" width="40" height="40" fill="url(#tF)"/>
<rect x="280" y="840" width="40" height="40" fill="url(#tF)"/>
<rect x="280" y="880" width="40" height="40" fill="url(#tF)"/>
<rect x="280" y="920" width="40" height="40" fill="url(#tF)"/>
<rect x="280" y="960" width="40" height="40" fill="url(#tF)"/>
<rect x="280" y="1000" width="40" height="40" fill="url(#tF)"/>
<rect x="280" y="1040" width="40" height="40" fill="url(#tF)"/>
<rect x="280" y="1080" width="40" height="40" fill="url(#tF)"/>
<rect x="280" y="1120" width="40" height="40" fill="url(#tF)"/>
<rect x="280" y="1160" width="40" height="40" fill="url(#tF)"/>
<rect x="280" y="1200" width="40" height="40" fill="url(#tF)"/>
<rect x="320" y="480" width="40" height="40" fill="url(#tCB)"/>
<rect x="320" y="520" width="40" height="40" fill="url(#tCB)"/>
<rect x="320" y="560" width="40" height="40" fill="url(#tP)"/>
<rect x="320" y="600" width="40" height="40" fill="url(#tP)"/>
<rect x="320" y="640" width="40" height="40" fill="url(#tF)"/>
<rect x="320" y="680" width="40" height="40" fill="url(#tF)"/>
<rect x="320" y="720" width="40" height="40" fill="url(#tF)"/>
<rect x="320" y="760" width="40" height="40" fill="url(#tF)"/>
<rect x="320" y="800" width="40" height="40" fill="url(#tF)"/>
<rect x="320" y="840" width="40" height="40" fill="url(#tF)"/>
<rect x="320" y="880" width="40" height="40" fill="url(#tF)"/>
<rect x="320" y="920" width="40" height="40" fill="url(#tF)"/>
<rect x="320" y="960" width="40" height="40" fill="url(#tF)"/>
<rect x="320" y="1000" width="40" height="40" fill="url(#tF)"/>
<rect x="320" y="1040" width="40" height="40" fill="url(#tF)"/>
<rect x="320" y="1080" width="40" height="40" fill="url(#tF)"/>
<rect x="320" y="1120" width="40" height="40" fill="url(#tF)"/>
<rect x="320" y="1160" width="40" height="40" fill="url(#tF)"/>
<rect x="320" y="1200" width="40" height="40" fill="url(#tF)"/>
<rect x="360" y="480" width="40" height="40" fill="url(#tCB)"/>
<rect x="360" y="520" width="40" height="40" fill="url(#tCB)"/>
<rect x="360" y="560" width="40" height="40" fill="url(#tP)"/>
<rect x="360" y="600" width="40" height="40" fill="url(#tP)"/>
<rect x="360" y="640" width="40" height="40" fill="url(#tF)"/>
<rect x="360" y="680" width="40" height="40" fill="url(#tF)"/>
<rect x="360" y="720" width="40" height="40" fill="url(#tF)"/>
<rect x="360" y="760" width="40" height="40" fill="url(#tF)"/>
<rect x="360" y="800" width="40" height="40" fill="url(#tF)"/>
<rect x="360" y="840" width="40" height="40" fill="url(#tF)"/>
<rect x="360" y="880" width="40" height="40" fill="url(#tF)"/>
<rect x="360" y="920" width="40" height="40" fill="url(#tF)"/>
<rect x="360" y="960" width="40" height="40" fill="url(#tF)"/>
<rect x="360" y="1000" width="40" height="40" fill="url(#tF)"/>
<rect x="360" y="1040" width="40" height="40" fill="url(#tF)"/>
<rect x="360" y="1080" width="40" height="40" fill="url(#tF)"/>
<rect x="360" y="1120" width="40" height="40" fill="url(#tF)"/>
<rect x="360" y="1160" width="40" height="40" fill="url(#tF)"/>
<rect x="360" y="1200" width="40" height="40" fill="url(#tF)"/>
<rect x="400" y="560" width="40" height="40" fill="url(#tP)"/>
<rect x="400" y="600" width="40" height="40" fill="url(#tP)"/>
<rect x="400" y="640" width="40" height="40" fill="url(#tF)"/>
<rect x="400" y="680" width="40" height="40" fill="url(#tF)"/>
<rect x="400" y="720" width="40" height="40" fill="url(#tF)"/>
<rect x="400" y="760" width="40" height="40" fill="url(#tF)"/>
<rect x="400" y="800" width="40" height="40" fill="url(#tF)"/>
<rect x="400" y="840" width="40" height="40" fill="url(#tF)"/>
<rect x="400" y="880" width="40" height="40" fill="url(#tF)"/>
<rect x="400" y="920" width="40" height="40" fill="url(#tF)"/>
<rect x="400" y="960" width="40" height="40" fill="url(#tF)"/>
<rect x="400" y="1000" width="40" height="40" fill="url(#tF)"/>
<rect x="400" y="1040" width="40" height="40" fill="url(#tF)"/>
<rect x="400" y="1080" width="40" height="40" fill="url(#tF)"/>
<rect x="400" y="1120" width="40" height="40" fill="url(#tF)"/>
<rect x="400" y="1160" width="40" height="40" fill="url(#tF)"/>
<rect x="400" y="1200" width="40" height="40" fill="url(#tF)"/>
<rect x="440" y="640" width="40" height="40" fill="url(#tF)"/>
<rect x="440" y="680" width="40" height="40" fill="url(#tF)"/>
<rect x="440" y="720" width="40" height="40" fill="url(#tF)"/>
<rect x="440" y="760" width="40" height="40" fill="url(#tF)"/>
<rect x="440" y="800" width="40" height="40" fill="url(#tF)"/>
<rect x="440" y="840" width="40" height="40" fill="url(#tF)"/>
<rect x="440" y="880" width="40" height="40" fill="url(#tF)"/>
<rect x="440" y="920" width="40" height="40" fill="url(#tF)"/>
<rect x="440" y="960" width="40" height="40" fill="url(#tF)"/>
<rect x="440" y="1000" width="40" height="40" fill="url(#tF)"/>
<rect x="440" y="1040" width="40" height="40" fill="url(#tF)"/>
<rect x="440" y="1080" width="40" height="40" fill="url(#tF)"/>
<rect x="440" y="1120" width="40" height="40" fill="url(#tF)"/>
<rect x="440" y="1160" width="40" height="40" fill="url(#tF)"/>
<rect x="440" y="1200" width="40" height="40" fill="url(#tG)"/>
<polygon points="520,520 520,560 480,560" fill="url(#tF)"/>
<rect x="480" y="560" width="40" height="40" fill="url(#tF)"/>
<rect x="480" y="600" width="40" height="40" fill="url(#tF)"/>
<rect x="480" y="640" width="40" height="40" fill="url(#tF)"/>
<rect x="480" y="680" width="40" height="40" fill="url(#tF)"/>
<rect x="480" y="720" width="40" height="40" fill="url(#tF)"/>
<rect x="480" y="760" width="40" height="40" fill="url(#tF)"/>
<rect x="480" y="800" width="40" height="40" fill="url(#tF)"/>
<rect x="480" y="840" width="40" height="40" fill="url(#tF)"/>
<rect x="480" y="880" width="40" height="40" fill="url(#tF)"/>
<rect x="480" y="920" width="40" height="40" fill="url(#tF)"/>
<rect x="480" y="960" width="40" height="40" fill="url(#tF)"/>
<rect x="480" y="1000" width="40" height="40" fill="url(#tF)"/>
<rect x="480" y="1040" width="40" height="40" fill="url(#tF)"/>
<rect x="480" y="1080" width="40" height="40" fill="url(#tF)"/>
<rect x="480" y="1120" width="40" height="40" fill="url(#tF)"/>
<rect x="480" y="1160" width="40" height="40" fill="url(#tG)"/>
<rect x="480" y="1200" width="40" height="40" fill="url(#tF)"/>
<polygon points="560,400 560,440 520,440" fill="url(#tF)"/>
<rect x="520" y="440" width="40" height="40" fill="url(#tF)"/>
<rect x="520" y="480" width="40" height="40" fill="url(#tF)"/>
<rect x="520" y="520" width="40" height="40" fill="url(#tF)"/>
<rect x="520" y="560" width="40" height="40" fill="url(#tF)"/>
<rect x="520" y="600" width="40" height="40" fill="url(#tF)"/>
<rect x="520" y="640" width="40" height="40" fill="url(#tF)"/>
<rect x="520" y="680" width="40" height="40" fill="url(#tF)"/>
<rect x="520" y="720" width="40" height="40" fill="url(#tF)"/>
<rect x="520" y="760" width="40" height="40" fill="url(#tF)"/>
<rect x="520" y="800" width="40" height="40" fill="url(#tF)"/>
<rect x="520" y="840" width="40" height="40" fill="url(#tF)"/>
<rect x="520" y="880" width="40" height="40" fill="url(#tF)"/>
<rect x="520" y="920" width="40" height="40" fill="url(#tF)"/>
<rect x="520" y="960" width="40" height="40" fill="url(#tF)"/>
<rect x="520" y="1000" width="40" height="40" fill="url(#tF)"/>
<rect x="520" y="1040" width="40" height="40" fill="url(#tF)"/>
<rect x="520" y="1080" width="40" height="40" fill="url(#tF)"/>
<rect x="520" y="1120" width="40" height="40" fill="url(#tG)"/>
<rect x="520" y="1160" width="40" height="40" fill="url(#tF)"/>
<rect x="520" y="1200" width="40" height="40" fill="url(#tF)"/>
<rect x="560" y="400" width="40" height="40" fill="url(#tF)"/>
<rect x="560" y="440" width="40" height="40" fill="url(#tF)"/>
<rect x="560" y="480" width="40" height="40" fill="url(#tF)"/>
<rect x="560" y="520" width="40" height="40" fill="url(#tF)"/>
<rect x="560" y="560" width="40" height="40" fill="url(#tF)"/>
<rect x="560" y="600" width="40" height="40" fill="url(#tF)"/>
<rect x="560" y="640" width="40" height="40" fill="url(#tF)"/>
<rect x="560" y="680" width="40" height="40" fill="url(#tF)"/>
<rect x="560" y="720" width="40" height="40" fill="url(#tF)"/>
<rect x="560" y="760" width="40" height="40" fill="url(#tF)"/>
<rect x="560" y="800" width="40" height="40" fill="url(#tF)"/>
<rect x="560" y="840" width="40" height="40" fill="url(#tF)"/>
<rect x="560" y="880" width="40" height="40" fill="url(#tF)"/>
<rect x="560" y="920" width="40" height="40" fill="url(#tF)"/>
<rect x="560" y="960" width="40" height="40" fill="url(#tF)"/>
<rect x="560" y="1000" width="40" height="40" fill="url(#tF)"/>
<polygon points="560,1040 600,1040 560,1080" fill="url(#tF)"/>
<rect x="560" y="1120" width="40" height="40" fill="url(#tF)"/>
<rect x="560" y="1160" width="40" height="40" fill="url(#tF)"/>
<rect x="560" y="1200" width="40" height="40" fill="url(#tF)"/>
<polygon points="640,360 640,400 600,400" fill="url(#tF)"/>
<rect x="600" y="400" width="40" height="40" fill="url(#tF)"/>
<rect x="600" y="440" width="40" height="40" fill="url(#tF)"/>
<rect x="600" y="480" width="40" height="40" fill="url(#tF)"/>
<rect x="600" y="520" width="40" height="40" fill="url(#tF)"/>
<rect x="600" y="560" width="40" height="40" fill="url(#tF)"/>
<rect x="600" y="600" width="40" height="40" fill="url(#tF)"/>
<rect x="600" y="640" width="40" height="40" fill="url(#tF)"/>
<rect x="600" y="680" width="40" height="40" fill="url(#tF)"/>
<rect x="600" y="720" width="40" height="40" fill="url(#tF)"/>
<rect x="600" y="760" width="40" height="40" fill="url(#tF)"/>
<rect x="600" y="800" width="40" height="40" fill="url(#tF)"/>
<rect x="600" y="840" width="40" height="40" fill="url(#tF)"/>
<rect x="600" y="880" width="40" height="40" fill="url(#tF)"/>
<rect x="600" y="920" width="40" height="40" fill="url(#tF)"/>
<rect x="600" y="960" width="40" height="40" fill="url(#tF)"/>
<rect x="600" y="1000" width="40" height="40" fill="url(#tF)"/>
<rect x="600" y="1040" width="40" height="40" fill="url(#tY)"/>
<polygon points="640,1080 640,1120 600,1120" fill="url(#tF)"/>
<rect x="600" y="1120" width="40" height="40" fill="url(#tF)"/>
<rect x="600" y="1160" width="40" height="40" fill="url(#tF)"/>
<rect x="600" y="1200" width="40" height="40" fill="url(#tF)"/>
<rect x="640" y="360" width="40" height="40" fill="url(#tF)"/>
<rect x="640" y="400" width="40" height="40" fill="url(#tF)"/>
<rect x="640" y="440" width="40" height="40" fill="url(#tF)"/>
<rect x="640" y="480" width="40" height="40" fill="url(#tF)"/>
<rect x="640" y="520" width="40" height="40" fill="url(#tF)"/>
<rect x="640" y="560" width="40" height="40" fill="url(#tF)"/>
<rect x="640" y="600" width="40" height="40" fill="url(#tF)"/>
<rect x="640" y="640" width="40" height="40" fill="url(#tF)"/>
<rect x="640" y="680" width="40" height="40" fill="url(#tF)"/>
<rect x="640" y="720" width="40" height="40" fill="url(#tF)"/>
<rect x="640" y="760" width="40" height="40" fill="url(#tF)"/>
<rect x="640" y="800" width="40" height="40" fill="url(#tF)"/>
<rect x="640" y="840" width="40" height="40" fill="url(#tF)"/>
<rect x="640" y="880" width="40" height="40" fill="url(#tF)"/>
<rect x="640" y="920" width="40" height="40" fill="url(#tF)"/>
<polygon points="640,960 680,960 640,1000" fill="url(#tF)"/>
<rect x="640" y="1000" width="40" height="40" fill="url(#tY)"/>
<rect x="640" y="1040" width="40" height="40" fill="url(#tF)"/>
<rect x="640" y="1080" width="40" height="40" fill="url(#tF)"/>
<rect x="640" y="1120" width="40" height="40" fill="url(#tF)"/>
<rect x="640" y="1160" width="40" height="40" fill="url(#tF)"/>
<rect x="640" y="1200" width="40" height="40" fill="url(#tF)"/>
<polygon points="720,320 720,360 680,360" fill="url(#tF)"/>
<rect x="680" y="360" width="40" height="40" fill="url(#tF)"/>
<rect x="680" y="400" width="40" height="40" fill="url(#tF)"/>
<rect x="680" y="440" width="40" height="40" fill="url(#tF)"/>
<rect x="680" y="480" width="40" height="40" fill="url(#tF)"/>
<rect x="680" y="520" width="40" height="40" fill="url(#tF)"/>
<rect x="680" y="560" width="40" height="40" fill="url(#tF)"/>
<rect x="680" y="600" width="40" height="40" fill="url(#tF)"/>
<rect x="680" y="640" width="40" height="40" fill="url(#tF)"/>
<rect x="680" y="680" width="40" height="40" fill="url(#tF)"/>
<rect x="680" y="720" width="40" height="40" fill="url(#tF)"/>
<rect x="680" y="760" width="40" height="40" fill="url(#tF)"/>
<rect x="680" y="800" width="40" height="40" fill="url(#tF)"/>
<rect x="680" y="840" width="40" height="40" fill="url(#tF)"/>
<rect x="680" y="880" width="40" height="40" fill="url(#tF)"/>
<rect x="680" y="920" width="40" height="40" fill="url(#tF)"/>
<polygon points="720,1000 720,1040 680,1040" fill="url(#tF)"/>
<rect x="680" y="1040" width="40" height="40" fill="url(#tF)"/>
<rect x="680" y="1080" width="40" height="40" fill="url(#tF)"/>
<rect x="680" y="1120" width="40" height="40" fill="url(#tF)"/>
<rect x="680" y="1160" width="40" height="40" fill="url(#tF)"/>
<rect x="680" y="1200" width="40" height="40" fill="url(#tF)"/>
<rect x="720" y="320" width="40" height="40" fill="url(#tF)"/>
<rect x="720" y="360" width="40" height="40" fill="url(#tF)"/>
<rect x="720" y="400" width="40" height="40" fill="url(#tF)"/>
<rect x="720" y="440" width="40" height="40" fill="url(#tF)"/>
<rect x="720" y="480" width="40" height="40" fill="url(#tF)"/>
<rect x="720" y="520" width="40" height="40" fill="url(#tF)"/>
<rect x="720" y="560" width="40" height="40" fill="url(#tF)"/>
<rect x="720" y="600" width="40" height="40" fill="url(#tF)"/>
<rect x="720" y="640" width="40" height="40" fill="url(#tF)"/>
<rect x="720" y="680" width="40" height="40" fill="url(#tF)"/>
<rect x="720" y="720" width="40" height="40" fill="url(#tF)"/>
<rect x="720" y="760" width="40" height="40" fill="url(#tF)"/>
<rect x="720" y="800" width="40" height="40" fill="url(#tF)"/>
<rect x="720" y="840" width="40" height="40" fill="url(#tF)"/>
<rect x="720" y="880" width="40" height="40" fill="url(#tF)"/>
<rect x="720" y="920" width="40" height="40" fill="url(#tF)"/>
<rect x="720" y="960" width="40" height="40" fill="url(#tF)"/>
<rect x="720" y="1000" width="40" height="40" fill="url(#tF)"/>
<rect x="720" y="1040" width="40" height="40" fill="url(#tF)"/>
<rect x="720" y="1080" width="40" height="40" fill="url(#tF)"/>
<rect x="720" y="1120" width="40" height="40" fill="url(#tF)"/>
<rect x="720" y="1160" width="40" height="40" fill="url(#tF)"/>
<rect x="720" y="1200" width="40" height="40" fill="url(#tF)"/>
<rect x="760" y="320" width="40" height="40" fill="url(#tF)"/>
<rect x="760" y="360" width="40" height="40" fill="url(#tF)"/>
<rect x="760" y="400" width="40" height="40" fill="url(#tF)"/>
<rect x="760" y="440" width="40" height="40" fill="url(#tF)"/>
<rect x="760" y="480" width="40" height="40" fill="url(#tF)"/>
<rect x="760" y="520" width="40" height="40" fill="url(#tF)"/>
<rect x="760" y="560" width="40" height="40" fill="url(#tF)"/>
<rect x="760" y="640" width="40" height="40" fill="url(#tF)"/>
<rect x="760" y="680" width="40" height="40" fill="url(#tF)"/>
<rect x="760" y="720" width="40" height="40" fill="url(#tF)"/>
<rect x="760" y="760" width="40" height="40" fill="url(#tF)"/>
<rect x="760" y="800" width="40" height="40" fill="url(#tF)"/>
<rect x="760" y="840" width="40" height="40" fill="url(#tF)"/>
<rect x="760" y="880" width="40" height="40" fill="url(#tF)"/>
<rect x="760" y="920" width="40" height="40" fill="url(#tF)"/>
<rect x="760" y="960" width="40" height="40" fill="url(#tF)"/>
<rect x="760" y="1000" width="40" height="40" fill="url(#tF)"/>
<rect x="760" y="1040" width="40" height="40" fill="url(#tF)"/>
<rect x="760" y="1080" width="40" height="40" fill="url(#tF)"/>
<rect x="760" y="1120" width="40" height="40" fill="url(#tF)"/>
<rect x="760" y="1160" width="40" height="40" fill="url(#tF)"/>
<rect x="760" y="1200" width="40" height="40" fill="url(#tF)"/>
<rect x="800" y="320" width="40" height="40" fill="url(#tF)"/>
<rect x="800" y="360" width="40" height="40" fill="url(#tF)"/>
<rect x="800" y="400" width="40" height="40" fill="url(#tF)"/>
<rect x="800" y="440" width="40" height="40" fill="url(#tF)"/>
<rect x="800" y="480" width="40" height="40" fill="url(#tF)"/>
<rect x="800" y="520" width="40" height="40" fill="url(#tF)"/>
<rect x="800" y="600" width="40" height="40" fill="url(#tF)"/>
<rect x="800" y="640" width="40" height="40" fill="url(#tF)"/>
<rect x="800" y="680" width="40" height="40" fill="url(#tF)"/>
<rect x="800" y="720" width="40" height="40" fill="url(#tF)"/>
<rect x="800" y="760" width="40" height="40" fill="url(#tF)"/>
<rect x="800" y="800" width="40" height="40" fill="url(#tF)"/>
<rect x="800" y="840" width="40" height="40" fill="url(#tF)"/>
<rect x="800" y="880" width="40" height="40" fill="url(#tF)"/>
<rect x="800" y="920" width="40" height="40" fill="url(#tF)"/>
<rect x="800" y="960" width="40" height="40" fill="url(#tF)"/>
<rect x="800" y="1000" width="40" height="40" fill="url(#tF)"/>
<rect x="800" y="1040" width="40" height="40" fill="url(#tF)"/>
<rect x="800" y="1080" width="40" height="40" fill="url(#tF)"/>
<rect x="800" y="1120" width="40" height="40" fill="url(#tF)"/>
<rect x="800" y="1160" width="40" height="40" fill="url(#tF)"/>
<rect x="800" y="1200" width="40" height="40" fill="url(#tF)"/>
<rect x="840" y="320" width="40" height="40" fill="url(#tF)"/>
<rect x="840" y="360" width="40" height="40" fill="url(#tF)"/>
<rect x="840" y="400" width="40" height="40" fill="url(#tF)"/>
<rect x="840" y="440" width="40" height="40" fill="url(#tF)"/>
<rect x="840" y="480" width="40" height="40" fill="url(#tF)"/>
<rect x="840" y="520" width="40" height="40" fill="url(#tF)"/>
<rect x="840" y="560" width="40" height="40" fill="url(#tF)"/>
<rect x="840" y="600" width="40" height="40" fill="url(#tF)"/>
<rect x="840" y="640" width="40" height="40" fill="url(#tF)"/>
<rect x="840" y="680" width="40" height="40" fill="url(#tF)"/>
<rect x="840" y="720" width="40" height="40" fill="url(#tF)"/>
<rect x="840" y="760" width="40" height="40" fill="url(#tF)"/>
<rect x="840" y="800" width="40" height="40" fill="url(#tF)"/>
<rect x="840" y="840" width="40" height="40" fill="url(#tF)"/>
<rect x="840" y="880" width="40" height="40" fill="url(#tF)"/>
<rect x="840" y="920" width="40" height="40" fill="url(#tF)"/>
<rect x="840" y="960" width="40" height="40" fill="url(#tF)"/>
<rect x="840" y="1000" width="40" height="40" fill="url(#tF)"/>
<rect x="840" y="1040" width="40" height="40" fill="url(#tF)"/>
<rect x="840" y="1080" width="40" height="40" fill="url(#tF)"/>
<rect x="840" y="1120" width="40" height="40" fill="url(#tF)"/>
<rect x="840" y="1160" width="40" height="40" fill="url(#tF)"/>
<rect x="840" y="1200" width="40" height="40" fill="url(#tF)"/>
<rect x="880" y="320" width="40" height="40" fill="url(#tF)"/>
<rect x="880" y="360" width="40" height="40" fill="url(#tF)"/>
<rect x="880" y="400" width="40" height="40" fill="url(#tF)"/>
<rect x="880" y="440" width="40" height="40" fill="url(#tF)"/>
<rect x="880" y="480" width="40" height="40" fill="url(#tF)"/>
<rect x="880" y="520" width="40" height="40" fill="url(#tF)"/>
<rect x="880" y="560" width="40" height="40" fill="url(#tF)"/>
<rect x="880" y="600" width="40" height="40" fill="url(#tF)"/>
<rect x="880" y="640" width="40" height="40" fill="url(#tF)"/>
<rect x="880" y="680" width="40" height="40" fill="url(#tF)"/>
<rect x="880" y="720" width="40" height="40" fill="url(#tF)"/>
<rect x="880" y="760" width="40" height="40" fill="url(#tF)"/>
<rect x="880" y="800" width="40" height="40" fill="url(#tF)"/>
<rect x="880" y="840" width="40" height="40" fill="url(#tF)"/>
<rect x="880" y="880" width="40" height="40" fill="url(#tF)"/>
<rect x="880" y="920" width="40" height="40" fill="url(#tF)"/>
<rect x="880" y="960" width="40" height="40" fill="url(#tF)"/>
<rect x="880" y="1000" width="40" height="40" fill="url(#tF)"/>
<rect x="880" y="1040" width="40" height="40" fill="url(#tF)"/>
<rect x="880" y="1080" width="40" height="40" fill="url(#tF)"/>
<rect x="880" y="1120" width="40" height="40" fill="url(#tF)"/>
<rect x="880" y="1160" width="40" height="40" fill="url(#tF)"/>
<rect x="880" y="1200" width="40" height="40" fill="url(#tF)"/>
<polygon points="960,280 960,320 920,320" fill="url(#tF)"/>
<rect x="920" y="320" width="40" height="40" fill="url(#tF)"/>
<rect x="920" y="360" width="40" height="40" fill="url(#tF)"/>
<rect x="920" y="400" width="40" height="40" fill="url(#tF)"/>
<rect x="920" y="440" width="40" height="40" fill="url(#tF)"/>
<rect x="920" y="480" width="40" height="40" fill="url(#tF)"/>
<rect x="920" y="520" width="40" height="40" fill="url(#tF)"/>
<rect x="920" y="560" width="40" height="40" fill="url(#tF)"/>
<rect x="920" y="600" width="40" height="40" fill="url(#tF)"/>
<rect x="920" y="640" width="40" height="40" fill="url(#tF)"/>
<rect x="920" y="680" width="40" height="40" fill="url(#tF)"/>
<rect x="920" y="720" width="40" height="40" fill="url(#tF)"/>
<rect x="920" y="760" width="40" height="40" fill="url(#tF)"/>
<rect x="920" y="800" width="40" height="40" fill="url(#tF)"/>
<rect x="920" y="840" width="40" height="40" fill="url(#tF)"/>
<rect x="920" y="880" width="40" height="40" fill="url(#tF)"/>
<rect x="920" y="920" width="40" height="40" fill="url(#tF)"/>
<rect x="920" y="960" width="40" height="40" fill="url(#tF)"/>
<rect x="920" y="1000" width="40" height="40" fill="url(#tF)"/>
<rect x="920" y="1040" width="40" height="40" fill="url(#tF)"/>
<rect x="920" y="1080" width="40" height="40" fill="url(#tF)"/>
<rect x="920" y="1120" width="40" height="40" fill="url(#tF)"/>
<rect x="920" y="1160" width="40" height="40" fill="url(#tF)"/>
<rect x="920" y="1200" width="40" height="40" fill="url(#tF)"/>
<rect x="960" y="280" width="40" height="40" fill="url(#tF)"/>
<rect x="960" y="320" width="40" height="40" fill="url(#tF)"/>
<rect x="960" y="360" width="40" height="40" fill="url(#tF)"/>
<rect x="960" y="400" width="40" height="40" fill="url(#tF)"/>
<rect x="960" y="440" width="40" height="40" fill="url(#tF)"/>
<rect x="960" y="480" width="40" height="40" fill="url(#tF)"/>
<rect x="960" y="520" width="40" height="40" fill="url(#tF)"/>
<rect x="960" y="560" width="40" height="40" fill="url(#tF)"/>
<rect x="960" y="600" width="40" height="40" fill="url(#tF)"/>
<rect x="960" y="640" width="40" height="40" fill="url(#tF)"/>
<rect x="960" y="680" width="40" height="40" fill="url(#tF)"/>
<rect x="960" y="720" width="40" height="40" fill="url(#tF)"/>
<rect x="960" y="880" width="40" height="40" fill="url(#tF)"/>
<rect x="960" y="920" width="40" height="40" fill="url(#tF)"/>
<rect x="960" y="960" width="40" height="40" fill="url(#tF)"/>
<rect x="960" y="1000" width="40" height="40" fill="url(#tF)"/>
<rect x="960" y="1040" width="40" height="40" fill="url(#tF)"/>
<rect x="960" y="1080" width="40" height="40" fill="url(#tF)"/>
<rect x="960" y="1120" width="40" height="40" fill="url(#tF)"/>
<rect x="960" y="1160" width="40" height="40" fill="url(#tF)"/>
<rect x="960" y="1200" width="40" height="40" fill="url(#tF)"/>
<rect x="1000" y="280" width="40" height="40" fill="url(#tF)"/>
<rect x="1000" y="320" width="40" height="40" fill="url(#tF)"/>
<rect x="1000" y="360" width="40" height="40" fill="url(#tF)"/>
<rect x="1000" y="400" width="40" height="40" fill="url(#tF)"/>
<rect x="1000" y="440" width="40" height="40" fill="url(#tY)"/>
<rect x="1000" y="480" width="40" height="40" fill="url(#tY)"/>
<rect x="1000" y="520" width="40" height="40" fill="url(#tY)"/>
<rect x="1000" y="560" width="40" height="40" fill="url(#tF)"/>
<rect x="1000" y="600" width="40" height="40" fill="url(#tF)"/>
<rect x="1000" y="640" width="40" height="40" fill="url(#tF)"/>
<rect x="1000" y="680" width="40" height="40" fill="url(#tF)"/>
<rect x="1000" y="720" width="40" height="40" fill="url(#tF)"/>
<rect x="1000" y="760" width="40" height="40" fill="url(#tY)"/>
<rect x="1000" y="800" width="40" height="40" fill="url(#tY)"/>
<rect x="1000" y="840" width="40" height="40" fill="url(#tY)"/>
<rect x="1000" y="880" width="40" height="40" fill="url(#tF)"/>
<rect x="1000" y="920" width="40" height="40" fill="url(#tF)"/>
<rect x="1000" y="960" width="40" height="40" fill="url(#tF)"/>
<rect x="1000" y="1000" width="40" height="40" fill="url(#tF)"/>
<rect x="1000" y="1040" width="40" height="40" fill="url(#tF)"/>
<rect x="1000" y="1080" width="40" height="40" fill="url(#tF)"/>
<rect x="1000" y="1120" width="40" height="40" fill="url(#tF)"/>
<polygon points="1000,1160 1040,1160 1000,1200" fill="url(#tF)"/>
<polygon points="1080,240 1080,280 1040,280" fill="url(#tF)"/>
<rect x="1040" y="280" width="40" height="40" fill="url(#tF)"/>
<rect x="1040" y="320" width="40" height="40" fill="url(#tF)"/>
<rect x="1040" y="360" width="40" height="40" fill="url(#tF)"/>
<rect x="1040" y="400" width="40" height="40" fill="url(#tF)"/>
<rect x="1040" y="440" width="40" height="40" fill="url(#tY)"/>
<rect x="1040" y="480" width="40" height="40" fill="url(#tY)"/>
<rect x="1040" y="520" width="40" height="40" fill="url(#tY)"/>
<rect x="1040" y="560" width="40" height="40" fill="url(#tF)"/>
<rect x="1040" y="600" width="40" height="40" fill="url(#tF)"/>
<rect x="1040" y="640" width="40" height="40" fill="url(#tF)"/>
<rect x="1040" y="680" width="40" height="40" fill="url(#tF)"/>
<rect x="1040" y="720" width="40" height="40" fill="url(#tF)"/>
<rect x="1040" y="760" width="40" height="40" fill="url(#tY)"/>
<rect x="1040" y="800" width="40" height="40" fill="url(#tY)"/>
<rect x="1040" y="840" width="40" height="40" fill="url(#tY)"/>
<rect x="1040" y="880" width="40" height="40" fill="url(#tF)"/>
<rect x="1040" y="920" width="40" height="40" fill="url(#tF)"/>
<rect x="1040" y="960" width="40" height="40" fill="url(#tF)"/>
<rect x="1040" y="1000" width="40" height="40" fill="url(#tF)"/>
<rect x="1040" y="1040" width="40" height="40" fill="url(#tF)"/>
<rect x="1040" y="1080" width="40" height="40" fill="url(#tF)"/>
<rect x="1040" y="1120" width="40" height="40" fill="url(#tF)"/>
<rect x="1080" y="240" width="40" height="40" fill="url(#tF)"/>
<rect x="1080" y="280" width="40" height="40" fill="url(#tF)"/>
<rect x="1080" y="320" width="40" height="40" fill="url(#tF)"/>
<rect x="1080" y="360" width="40" height="40" fill="url(#tF)"/>
<rect x="1080" y="400" width="40" height="40" fill="url(#tF)"/>
<rect x="1080" y="440" width="40" height="40" fill="url(#tY)"/>
<rect x="1080" y="480" width="40" height="40" fill="url(#tY)"/>
<rect x="1080" y="520" width="40" height="40" fill="url(#tY)"/>
<rect x="1080" y="560" width="40" height="40" fill="url(#tF)"/>
<rect x="1080" y="600" width="40" height="40" fill="url(#tF)"/>
<rect x="1080" y="640" width="40" height="40" fill="url(#tF)"/>
<rect x="1080" y="680" width="40" height="40" fill="url(#tF)"/>
<rect x="1080" y="720" width="40" height="40" fill="url(#tF)"/>
<rect x="1080" y="760" width="40" height="40" fill="url(#tY)"/>
<rect x="1080" y="800" width="40" height="40" fill="url(#tY)"/>
<rect x="1080" y="840" width="40" height="40" fill="url(#tY)"/>
<rect x="1080" y="880" width="40" height="40" fill="url(#tF)"/>
<rect x="1080" y="920" width="40" height="40" fill="url(#tF)"/>
<rect x="1080" y="960" width="40" height="40" fill="url(#tF)"/>
<rect x="1080" y="1000" width="40" height="40" fill="url(#tF)"/>
<rect x="1080" y="1040" width="40" height="40" fill="url(#tF)"/>
<rect x="1080" y="1080" width="40" height="40" fill="url(#tF)"/>
<rect x="1080" y="1120" width="40" height="40" fill="url(#tF)"/>
<rect x="1120" y="240" width="40" height="40" fill="url(#tF)"/>
<rect x="1120" y="280" width="40" height="40" fill="url(#tF)"/>
<rect x="1120" y="320" width="40" height="40" fill="url(#tF)"/>
<rect x="1120" y="360" width="40" height="40" fill="url(#tF)"/>
<rect x="1120" y="400" width="40" height="40" fill="url(#tF)"/>
<rect x="1120" y="440" width="40" height="40" fill="url(#tY)"/>
<rect x="1120" y="480" width="40" height="40" fill="url(#tY)"/>
<rect x="1120" y="520" width="40" height="40" fill="url(#tY)"/>
<rect x="1120" y="560" width="40" height="40" fill="url(#tF)"/>
<rect x="1120" y="600" width="40" height="40" fill="url(#tF)"/>
<rect x="1120" y="640" width="40" height="40" fill="url(#tF)"/>
<rect x="1120" y="680" width="40" height="40" fill="url(#tF)"/>
<rect x="1120" y="720" width="40" height="40" fill="url(#tF)"/>
<rect x="1120" y="760" width="40" height="40" fill="url(#tY)"/>
<rect x="1120" y="800" width="40" height="40" fill="url(#tY)"/>
<rect x="1120" y="840" width="40" height="40" fill="url(#tY)"/>
<rect x="1120" y="880" width="40" height="40" fill="url(#tF)"/>
<rect x="1120" y="920" width="40" height="40" fill="url(#tF)"/>
<rect x="1120" y="960" width="40" height="40" fill="url(#tF)"/>
<rect x="1120" y="1000" width="40" height="40" fill="url(#tF)"/>
<rect x="1120" y="1040" width="40" height="40" fill="url(#tF)"/>
<rect x="1120" y="1080" width="40" height="40" fill="url(#tF)"/>
<rect x="1120" y="1120" width="40" height="40" fill="url(#tF)"/>
<polygon points="1200,200 1200,240 1160,240" fill="url(#tF)"/>
<rect x="1160" y="240" width="40" height="40" fill="url(#tF)"/>
<rect x="1160" y="280" width="40" height="40" fill="url(#tF)"/>
<rect x="1160" y="320" width="40" height="40" fill="url(#tF)"/>
<rect x="1160" y="360" width="40" height="40" fill="url(#tF)"/>
<rect x="1160" y="400" width="40" height="40" fill="url(#tF)"/>
<rect x="1160" y="440" width="40" height="40" fill="url(#tY)"/>
<rect x="1160" y="480" width="40" height="40" fill="url(#tY)"/>
<rect x="1160" y="520" width="40" height="40" fill="url(#tY)"/>
<rect x="1160" y="560" width="40" height="40" fill="url(#tF)"/>
<rect x="1160" y="600" width="40" height="40" fill="url(#tF)"/>
<rect x="1160" y="640" width="40" height="40" fill="url(#tF)"/>
<rect x="1160" y="680" width="40" height="40" fill="url(#tF)"/>
<rect x="1160" y="720" width="40" height="40" fill="url(#tF)"/>
<rect x="1160" y="760" width="40" height="40" fill="url(#tY)"/>
<rect x="1160" y="800" width="40" height="40" fill="url(#tY)"/>
<rect x="1160" y="840" width="40" height="40" fill="url(#tY)"/>
<rect x="1160" y="880" width="40" height="40" fill="url(#tF)"/>
<rect x="1160" y="920" width="40" height="40" fill="url(#tF)"/>
<rect x="1160" y="960" width="40" height="40" fill="url(#tF)"/>
<rect x="1160" y="1000" width="40" height="40" fill="url(#tF)"/>
<rect x="1160" y="1040" width="40" height="40" fill="url(#tF)"/>
<rect x="1160" y="1080" width="40" height="40" fill="url(#tF)"/>
<polygon points="1160,1120 1200,1120 1160,1160" fill="url(#tF)"/>
<rect x="1200" y="200" width="40" height="40" fill="url(#tF)"/>
<rect x="1200" y="240" width="40" height="40" fill="url(#tF)"/>
<rect x="1200" y="280" width="40" height="40" fill="url(#tF)"/>
<rect x="1200" y="320" width="40" height="40" fill="url(#tF)"/>
<rect x="1200" y="360" width="40" height="40" fill="url(#tF)"/>
<rect x="1200" y="400" width="40" height="40" fill="url(#tF)"/>
<rect x="1200" y="440" width="40" height="40" fill="url(#tY)"/>
<rect x="1200" y="480" width="40" height="40" fill="url(#tY)"/>
<rect x="1200" y="520" width="40" height="40" fill="url(#tY)"/>
<rect x="1200" y="560" width="40" height="40" fill="url(#tF)"/>
<rect x="1200" y="600" width="40" height="40" fill="url(#tF)"/>
<rect x="1200" y="640" width="40" height="40" fill="url(#tF)"/>
<rect x="1200" y="680" width="40" height="40" fill="url(#tF)"/>
<rect x="1200" y="720" width="40" height="40" fill="url(#tF)"/>
<rect x="1200" y="760" width="40" height="40" fill="url(#tY)"/>
<rect x="1200" y="800" width="40" height="40" fill="url(#tY)"/>
<rect x="1200" y="840" width="40" height="40" fill="url(#tY)"/>
<rect x="1200" y="880" width="40" height="40" fill="url(#tF)"/>
<rect x="1200" y="920" width="40" height="40" fill="url(#tF)"/>
<rect x="1200" y="960" width="40" height="40" fill="url(#tF)"/>
<rect x="1200" y="1000" width="40" height="40" fill="url(#tF)"/>
<rect x="1200" y="1040" width="40" height="40" fill="url(#tF)"/>
<rect x="1200" y="1080" width="40" height="40" fill="url(#tF)"/>
<polygon points="1280,160 1280,200 1240,200" fill="url(#tF)"/>
<rect x="1240" y="200" width="40" height="40" fill="url(#tF)"/>
<rect x="1240" y="240" width="40" height="40" fill="url(#tF)"/>
<rect x="1240" y="280" width="40" height="40" fill="url(#tF)"/>
<rect x="1240" y="320" width="40" height="40" fill="url(#tF)"/>
<rect x="1240" y="360" width="40" height="40" fill="url(#tF)"/>
<rect x="1240" y="400" width="40" height="40" fill="url(#tF)"/>
<rect x="1240" y="440" width="40" height="40" fill="url(#tY)"/>
<rect x="1240" y="480" width="40" height="40" fill="url(#tY)"/>
<rect x="1240" y="520" width="40" height="40" fill="url(#tY)"/>
<rect x="1240" y="560" width="40" height="40" fill="url(#tF)"/>
<rect x="1240" y="600" width="40" height="40" fill="url(#tF)"/>
<rect x="1240" y="640" width="40" height="40" fill="url(#tF)"/>
<rect x="1240" y="680" width="40" height="40" fill="url(#tF)"/>
<rect x="1240" y="720" width="40" height="40" fill="url(#tF)"/>
<rect x="1240" y="760" width="40" height="40" fill="url(#tY)"/>
<rect x="1240" y="800" width="40" height="40" fill="url(#tY)"/>
<rect x="1240" y="840" width="40" height="40" fill="url(#tY)"/>
<rect x="1240" y="880" width="40" height="40" fill="url(#tF)"/>
<rect x="1240" y="920" width="40" height="40" fill="url(#tF)"/>
<rect x="1240" y="960" width="40" height="40" fill="url(#tF)"/>
<rect x="1240" y="1000" width="40" height="40" fill="url(#tF)"/>
<rect x="1240" y="1040" width="40" height="40" fill="url(#tF)"/>
<polygon points="1240,1080 1280,1080 1240,1120" fill="url(#tF)"/>
<rect x="1280" y="160" width="40" height="40" fill="url(#tF)"/>
<rect x="1280" y="200" width="40" height="40" fill="url(#tF)"/>
<rect x="1280" y="240" width="40" height="40" fill="url(#tF)"/>
<rect x="1280" y="280" width="40" height="40" fill="url(#tF)"/>
<rect x="1280" y="320" width="40" height="40" fill="url(#tF)"/>
<rect x="1280" y="360" width="40" height="40" fill="url(#tF)"/>
<rect x="1280" y="400" width="40" height="40" fill="url(#tF)"/>
<rect x="1280" y="440" width="40" height="40" fill="url(#tY)"/>
<rect x="1280" y="480" width="40" height="40" fill="url(#tY)"/>
<rect x="1280" y="520" width="40" height="40" fill="url(#tY)"/>
<rect x="1280" y="560" width="40" height="40" fill="url(#tF)"/>
<rect x="1280" y="600" width="40" height="40" fill="url(#tF)"/>
<rect x="1280" y="640" width="40" height="40" fill="url(#tF)"/>
<rect x="1280" y="680" width="40" height="40" fill="url(#tF)"/>
<rect x="1280" y="720" width="40" height="40" fill="url(#tF)"/>
<rect x="1280" y="760" width="40" height="40" fill="url(#tY)"/>
<rect x="1280" y="800" width="40" height="40" fill="url(#tY)"/>
<rect x="1280" y="840" width="40" height="40" fill="url(#tY)"/>
<rect x="1280" y="880" width="40" height="40" fill="url(#tF)"/>
<rect x="1280" y="920" width="40" height="40" fill="url(#tF)"/>
<rect x="1280" y="960" width="40" height="40" fill="url(#tF)"/>
<rect x="1280" y="1000" width="40" height="40" fill="url(#tF)"/>
<rect x="1280" y="1040" width="40" height="40" fill="url(#tF)"/>
<rect x="1320" y="160" width="40" height="40" fill="url(#tF)"/>
<rect x="1320" y="200" width="40" height="40" fill="url(#tF)"/>
<rect x="1320" y="240" width="40" height="40" fill="url(#tF)"/>
<rect x="1320" y="280" width="40" height="40" fill="url(#tF)"/>
<rect x="1320" y="320" width="40" height="40" fill="url(#tF)"/>
<rect x="1320" y="360" width="40" height="40" fill="url(#tF)"/>
<rect x="1320" y="400" width="40" height="40" fill="url(#tF)"/>
<rect x="1320" y="440" width="40" height="40" fill="url(#tY)"/>
<rect x="1320" y="480" width="40" height="40" fill="url(#tY)"/>
<rect x="1320" y="520" width="40" height="40" fill="url(#tY)"/>
<rect x="1320" y="560" width="40" height="40" fill="url(#tF)"/>
<rect x="1320" y="600" width="40" height="40" fill="url(#tF)"/>
<rect x="1320" y="640" width="40" height="40" fill="url(#tF)"/>
<rect x="1320" y="680" width="40" height="40" fill="url(#tF)"/>
<rect x="1320" y="720" width="40" height="40" fill="url(#tF)"/>
<rect x="1320" y="760" width="40" height="40" fill="url(#tY)"/>
<rect x="1320" y="800" width="40" height="40" fill="url(#tY)"/>
<rect x="1320" y="840" width="40" height="40" fill="url(#tY)"/>
<rect x="1320" y="880" width="40" height="40" fill="url(#tF)"/>
<rect x="1320" y="920" width="40" height="40" fill="url(#tF)"/>
<rect x="1320" y="960" width="40" height="40" fill="url(#tF)"/>
<rect x="1320" y="1000" width="40" height="40" fill="url(#tF)"/>
<rect x="1320" y="1040" width="40" height="40" fill="url(#tF)"/>
<rect x="1360" y="160" width="40" height="40" fill="url(#tF)"/>
<rect x="1360" y="200" width="40" height="40" fill="url(#tF)"/>
<rect x="1360" y="240" width="40" height="40" fill="url(#tF)"/>
<rect x="1360" y="280" width="40" height="40" fill="url(#tF)"/>
<rect x="1360" y="320" width="40" height="40" fill="url(#tF)"/>
<rect x="1360" y="360" width="40" height="40" fill="url(#tF)"/>
<rect x="1360" y="400" width="40" height="40" fill="url(#tF)"/>
<rect x="1360" y="440" width="40" height="40" fill="url(#tY)"/>
<rect x="1360" y="480" width="40" height="40" fill="url(#tY)"/>
<rect x="1360" y="520" width="40" height="40" fill="url(#tY)"/>
<rect x="1360" y="560" width="40" height="40" fill="url(#tF)"/>
<rect x="1360" y="600" width="40" height="40" fill="url(#tF)"/>
<rect x="1360" y="640" width="40" height="40" fill="url(#tF)"/>
<rect x="1360" y="680" width="40" height="40" fill="url(#tF)"/>
<rect x="1360" y="720" width="40" height="40" fill="url(#tF)"/>
<rect x="1360" y="760" width="40" height="40" fill="url(#tY)"/>
<rect x="1360" y="800" width="40" height="40" fill="url(#tY)"/>
<rect x="1360" y="840" width="40" height="40" fill="url(#tY)"/>
<rect x="1360" y="880" width="40" height="40" fill="url(#tF)"/>
<rect x="1360" y="920" width="40" height="40" fill="url(#tF)"/>
<rect x="1360" y="960" width="40" height="40" fill="url(#tF)"/>
<rect x="1360" y="1000" width="40" height="40" fill="url(#tF)"/>
<polygon points="1360,1040 1400,1040 1360,1080" fill="url(#tF)"/>
<polygon points="1440,120 1440,160 1400,160" fill="url(#tF)"/>
<rect x="1400" y="160" width="40" height="40" fill="url(#tF)"/>
<rect x="1400" y="200" width="40" height="40" fill="url(#tF)"/>
<rect x="1400" y="240" width="40" height="40" fill="url(#tF)"/>
<rect x="1400" y="280" width="40" height="40" fill="url(#tF)"/>
<rect x="1400" y="320" width="40" height="40" fill="url(#tF)"/>
<rect x="1400" y="360" width="40" height="40" fill="url(#tF)"/>
<rect x="1400" y="400" width="40" height="40" fill="url(#tF)"/>
<rect x="1400" y="440" width="40" height="40" fill="url(#tY)"/>
<rect x="1400" y="480" width="40" height="40" fill="url(#tY)"/>
<rect x="1400" y="520" width="40" height="40" fill="url(#tY)"/>
<rect x="1400" y="560" width="40" height="40" fill="url(#tF)"/>
<rect x="1400" y="600" width="40" height="40" fill="url(#tF)"/>
<rect x="1400" y="640" width="40" height="40" fill="url(#tF)"/>
<rect x="1400" y="680" width="40" height="40" fill="url(#tF)"/>
<rect x="1400" y="720" width="40" height="40" fill="url(#tF)"/>
<rect x="1400" y="760" width="40" height="40" fill="url(#tY)"/>
<rect x="1400" y="800" width="40" height="40" fill="url(#tY)"/>
<rect x="1400" y="840" width="40" height="40" fill="url(#tY)"/>
<rect x="1400" y="880" width="40" height="40" fill="url(#tF)"/>
<rect x="1400" y="920" width="40" height="40" fill="url(#tF)"/>
<rect x="1400" y="960" width="40" height="40" fill="url(#tF)"/>
<rect x="1400" y="1000" width="40" height="40" fill="url(#tF)"/>
<rect x="1440" y="80" width="40" height="40" fill="url(#tF)"/>
<rect x="1440" y="120" width="40" height="40" fill="url(#tF)"/>
<rect x="1440" y="160" width="40" height="40" fill="url(#tF)"/>
<rect x="1440" y="200" width="40" height="40" fill="url(#tF)"/>
<rect x="1440" y="240" width="40" height="40" fill="url(#tF)"/>
<rect x="1440" y="280" width="40" height="40" fill="url(#tF)"/>
<rect x="1440" y="320" width="40" height="40" fill="url(#tF)"/>
<rect x="1440" y="360" width="40" height="40" fill="url(#tF)"/>
<rect x="1440" y="400" width="40" height="40" fill="url(#tF)"/>
<rect x="1440" y="560" width="40" height="40" fill="url(#tF)"/>
<rect x="1440" y="600" width="40" height="40" fill="url(#tF)"/>
<rect x="1440" y="640" width="40" height="40" fill="url(#tF)"/>
<rect x="1440" y="680" width="40" height="40" fill="url(#tF)"/>
<rect x="1440" y="720" width="40" height="40" fill="url(#tF)"/>
<rect x="1440" y="760" width="40" height="40" fill="url(#tF)"/>
<rect x="1440" y="800" width="40" height="40" fill="url(#tF)"/>
<rect x="1440" y="840" width="40" height="40" fill="url(#tF)"/>
<rect x="1440" y="880" width="40" height="40" fill="url(#tF)"/>
<rect x="1440" y="920" width="40" height="40" fill="url(#tF)"/>
<rect x="1440" y="960" width="40" height="40" fill="url(#tF)"/>
<rect x="1440" y="1000" width="40" height="40" fill="url(#tF)"/>
<rect x="1480" y="80" width="40" height="40" fill="url(#tF)"/>
<rect x="1480" y="120" width="40" height="40" fill="url(#tF)"/>
<rect x="1480" y="160" width="40" height="40" fill="url(#tF)"/>
<rect x="1480" y="200" width="40" height="40" fill="url(#tF)"/>
<rect x="1480" y="240" width="40" height="40" fill="url(#tF)"/>
<rect x="1480" y="280" width="40" height="40" fill="url(#tF)"/>
<rect x="1480" y="320" width="40" height="40" fill="url(#tF)"/>
<rect x="1480" y="360" width="40" height="40" fill="url(#tF)"/>
<rect x="1480" y="400" width="40" height="40" fill="url(#tF)"/>
<rect x="1480" y="440" width="40" height="40" fill="url(#tF)"/>
<rect x="1480" y="480" width="40" height="40" fill="url(#tF)"/>
<rect x="1480" y="520" width="40" height="40" fill="url(#tF)"/>
<rect x="1480" y="560" width="40" height="40" fill="url(#tF)"/>
<rect x="1480" y="600" width="40" height="40" fill="url(#tF)"/>
<rect x="1480" y="640" width="40" height="40" fill="url(#tF)"/>
<rect x="1480" y="680" width="40" height="40" fill="url(#tF)"/>
<rect x="1480" y="720" width="40" height="40" fill="url(#tF)"/>
<rect x="1480" y="760" width="40" height="40" fill="url(#tF)"/>
<rect x="1480" y="800" width="40" height="40" fill="url(#tF)"/>
<rect x="1480" y="840" width="40" height="40" fill="url(#tF)"/>
<rect x="1480" y="880" width="40" height="40" fill="url(#tF)"/>
<rect x="1480" y="920" width="40" height="40" fill="url(#tF)"/>
<rect x="1480" y="960" width="40" height="40" fill="url(#tF)"/>
<polygon points="1480,1000 1520,1000 1480,1040" fill="url(#tF)"/>
<rect x="1520" y="80" width="40" height="40" fill="url(#tF)"/>
<rect x="1520" y="120" width="40" height="40" fill="url(#tF)"/>
<rect x="1520" y="160" width="40" height="40" fill="url(#tF)"/>
<rect x="1520" y="200" width="40" height="40" fill="url(#tF)"/>
<rect x="1520" y="240" width="40" height="40" fill="url(#tF)"/>
<rect x="1520" y="280" width="40" height="40" fill="url(#tF)"/>
<rect x="1520" y="320" width="40" height="40" fill="url(#tF)"/>
<rect x="1520" y="360" width="40" height="40" fill="url(#tF)"/>
<rect x="1520" y="400" width="40" height="40" fill="url(#tF)"/>
<rect x="1520" y="440" width="40" height="40" fill="url(#tF)"/>
<rect x="1520" y="480" width="40" height="40" fill="url(#tF)"/>
<rect x="1520" y="520" width="40" height="40" fill="url(#tF)"/>
<rect x="1520" y="560" width="40" height="40" fill="url(#tF)"/>
<rect x="1520" y="600" width="40" height="40" fill="url(#tF)"/>
<rect x="1520" y="640" width="40" height="40" fill="url(#tF)"/>
<rect x="1520" y="680" width="40" height="40" fill="url(#tF)"/>
<rect x="1520" y="720" width="40" height="40" fill="url(#tF)"/>
<rect x="1520" y="760" width="40" height="40" fill="url(#tF)"/>
<rect x="1520" y="800" width="40" height="40" fill="url(#tF)"/>
<rect x="1520" y="840" width="40" height="40" fill="url(#tF)"/>
<rect x="1520" y="880" width="40" height="40" fill="url(#tF)"/>
<rect x="1520" y="920" width="40" height="40" fill="url(#tF)"/>
<rect x="1520" y="960" width="40" height="40" fill="url(#tF)"/>
<rect x="1560" y="80" width="40" height="40" fill="url(#tF)"/>
<rect x="1560" y="120" width="40" height="40" fill="url(#tF)"/>
<rect x="1560" y="160" width="40" height="40" fill="url(#tF)"/>
<rect x="1560" y="200" width="40" height="40" fill="url(#tF)"/>
<rect x="1560" y="240" width="40" height="40" fill="url(#tF)"/>
<rect x="1560" y="280" width="40" height="40" fill="url(#tF)"/>
<rect x="1560" y="320" width="40" height="40" fill="url(#tF)"/>
<rect x="1560" y="360" width="40" height="40" fill="url(#tF)"/>
<rect x="1560" y="400" width="40" height="40" fill="url(#tF)"/>
<rect x="1560" y="440" width="40" height="40" fill="url(#tF)"/>
<rect x="1560" y="480" width="40" height="40" fill="url(#tF)"/>
<rect x="1560" y="520" width="40" height="40" fill="url(#tF)"/>
<rect x="1560" y="560" width="40" height="40" fill="url(#tF)"/>
<rect x="1560" y="600" width="40" height="40" fill="url(#tF)"/>
<rect x="1560" y="640" width="40" height="40" fill="url(#tF)"/>
<rect x="1560" y="680" width="40" height="40" fill="url(#tF)"/>
<rect x="1560" y="720" width="40" height="40" fill="url(#tF)"/>
<rect x="1560" y="760" width="40" height="40" fill="url(#tF)"/>
<rect x="1560" y="800" width="40" height="40" fill="url(#tF)"/>
<rect x="1560" y="840" width="40" height="40" fill="url(#tF)"/>
<rect x="1560" y="880" width="40" height="40" fill="url(#tF)"/>
<rect x="1560" y="920" width="40" height="40" fill="url(#tF)"/>
<rect x="1560" y="960" width="40" height="40" fill="url(#tF)"/>
<rect x="1600" y="80" width="40" height="40" fill="url(#tF)"/>
<rect x="1600" y="120" width="40" height="40" fill="url(#tF)"/>
<rect x="1600" y="160" width="40" height="40" fill="url(#tF)"/>
<rect x="1600" y="200" width="40" height="40" fill="url(#tF)"/>
<rect x="1600" y="240" width="40" height="40" fill="url(#tF)"/>
<rect x="1600" y="280" width="40" height="40" fill="url(#tF)"/>
<rect x="1600" y="320" width="40" height="40" fill="url(#tF)"/>
<rect x="1600" y="360" width="40" height="40" fill="url(#tF)"/>
<rect x="1600" y="400" width="40" height="40" fill="url(#tF)"/>
<rect x="1600" y="440" width="40" height="40" fill="url(#tF)"/>
<rect x="1600" y="480" width="40" height="40" fill="url(#tF)"/>
<rect x="1600" y="520" width="40" height="40" fill="url(#tF)"/>
<rect x="1600" y="560" width="40" height="40" fill="url(#tF)"/>
<rect x="1600" y="600" width="40" height="40" fill="url(#tF)"/>
<rect x="1600" y="640" width="40" height="40" fill="url(#tF)"/>
<rect x="1600" y="680" width="40" height="40" fill="url(#tF)"/>
<rect x="1600" y="760" width="40" height="40" fill="url(#tF)"/>
<rect x="1600" y="800" width="40" height="40" fill="url(#tF)"/>
<rect x="1600" y="840" width="40" height="40" fill="url(#tF)"/>
<rect x="1600" y="880" width="40" height="40" fill="url(#tF)"/>
<rect x="1600" y="920" width="40" height="40" fill="url(#tF)"/>
<rect x="1600" y="960" width="40" height="40" fill="url(#tF)"/>
<rect x="1640" y="80" width="40" height="40" fill="url(#tF)"/>
<rect x="1640" y="120" width="40" height="40" fill="url(#tF)"/>
<rect x="1640" y="160" width="40" height="40" fill="url(#tF)"/>
<rect x="1640" y="200" width="40" height="40" fill="url(#tF)"/>
<rect x="1640" y="240" width="40" height="40" fill="url(#tF)"/>
<rect x="1640" y="280" width="40" height="40" fill="url(#tF)"/>
<rect x="1640" y="320" width="40" height="40" fill="url(#tF)"/>
<rect x="1640" y="360" width="40" height="40" fill="url(#tF)"/>
<rect x="1640" y="400" width="40" height="40" fill="url(#tF)"/>
<rect x="1640" y="440" width="40" height="40" fill="url(#tF)"/>
<rect x="1640" y="480" width="40" height="40" fill="url(#tF)"/>
<rect x="1640" y="520" width="40" height="40" fill="url(#tF)"/>
<rect x="1640" y="560" width="40" height="40" fill="url(#tF)"/>
<rect x="1640" y="600" width="40" height="40" fill="url(#tF)"/>
<rect x="1640" y="640" width="40" height="40" fill="url(#tF)"/>
<rect x="1640" y="720" width="40" height="40" fill="url(#tF)"/>
<rect x="1640" y="760" width="40" height="40" fill="url(#tF)"/>
<rect x="1640" y="800" width="40" height="40" fill="url(#tF)"/>
<rect x="1640" y="840" width="40" height="40" fill="url(#tF)"/>
<rect x="1640" y="880" width="40" height="40" fill="url(#tF)"/>
<rect x="1640" y="920" width="40" height="40" fill="url(#tF)"/>
<rect x="1640" y="960" width="40" height="40" fill="url(#tF)"/>
<rect x="1680" y="80" width="40" height="40" fill="url(#tF)"/>
<rect x="1680" y="120" width="40" height="40" fill="url(#tF)"/>
<rect x="1680" y="160" width="40" height="40" fill="url(#tF)"/>
<rect x="1680" y="200" width="40" height="40" fill="url(#tF)"/>
<rect x="1680" y="240" width="40" height="40" fill="url(#tF)"/>
<rect x="1680" y="280" width="40" height="40" fill="url(#tF)"/>
<rect x="1680" y="320" width="40" height="40" fill="url(#tF)"/>
<rect x="1680" y="360" width="40" height="40" fill="url(#tF)"/>
<rect x="1680" y="400" width="40" height="40" fill="url(#tF)"/>
<rect x="1680" y="440" width="40" height="40" fill="url(#tF)"/>
<rect x="1680" y="480" width="40" height="40" fill="url(#tF)"/>
<rect x="1680" y="520" width="40" height="40" fill="url(#tF)"/>
<rect x="1680" y="560" width="40" height="40" fill="url(#tF)"/>
<rect x="1680" y="600" width="40" height="40" fill="url(#tF)"/>
<rect x="1680" y="640" width="40" height="40" fill="url(#tF)"/>
<rect x="1680" y="680" width="40" height="40" fill="url(#tF)"/>
<rect x="1680" y="720" width="40" height="40" fill="url(#tF)"/>
<rect x="1680" y="760" width="40" height="40" fill="url(#tF)"/>
<rect x="1680" y="800" width="40" height="40" fill="url(#tF)"/>
<rect x="1680" y="840" width="40" height="40" fill="url(#tF)"/>
<rect x="1680" y="880" width="40" height="40" fill="url(#tF)"/>
<rect x="1680" y="920" width="40" height="40" fill="url(#tF)"/>
<rect x="1680" y="960" width="40" height="40" fill="url(#tF)"/>
<rect x="1720" y="80" width="40" height="40" fill="url(#tF)"/>
<rect x="1720" y="120" width="40" height="40" fill="url(#tF)"/>
<rect x="1720" y="160" width="40" height="40" fill="url(#tF)"/>
<rect x="1720" y="200" width="40" height="40" fill="url(#tF)"/>
<rect x="1720" y="240" width="40" height="40" fill="url(#tF)"/>
<polygon points="1720,280 1760,280 1720,320" fill="url(#tF)"/>
<rect x="1720" y="360" width="40" height="40" fill="url(#tF)"/>
<rect x="1720" y="400" width="40" height="40" fill="url(#tF)"/>
<rect x="1720" y="440" width="40" height="40" fill="url(#tF)"/>
<rect x="1720" y="480" width="40" height="40" fill="url(#tF)"/>
<rect x="1720" y="520" width="40" height="40" fill="url(#tF)"/>
<rect x="1720" y="560" width="40" height="40" fill="url(#tF)"/>
<rect x="1720" y="600" width="40" height="40" fill="url(#tF)"/>
<rect x="1720" y="640" width="40" height="40" fill="url(#tF)"/>
<rect x="1720" y="680" width="40" height="40" fill="url(#tF)"/>
<rect x="1720" y="720" width="40" height="40" fill="url(#tF)"/>
<rect x="1720" y="760" width="40" height="40" fill="url(#tF)"/>
<rect x="1720" y="800" width="40" height="40" fill="url(#tF)"/>
<rect x="1720" y="840" width="40" height="40" fill="url(#tF)"/>
<rect x="1720" y="880" width="40" height="40" fill="url(#tF)"/>
<rect x="1720" y="920" width="40" height="40" fill="url(#tF)"/>
<polygon points="1720,960 1760,960 1720,1000" fill="url(#tF)"/>
<rect x="1760" y="80" width="40" height="40" fill="url(#tF)"/>
<rect x="1760" y="120" width="40" height="40" fill="url(#tF)"/>
<rect x="1760" y="160" width="40" height="40" fill="url(#tF)"/>
<rect x="1760" y="200" width="40" height="40" fill="url(#tF)"/>
<rect x="1760" y="240" width="40" height="40" fill="url(#tF)"/>
<rect x="1760" y="280" width="40" height="40" fill="url(#tY)"/>
<polygon points="1800,320 1800,360 1760,360" fill="url(#tF)"/>
<rect x="1760" y="360" width="40" height="40" fill="url(#tF)"/>
<rect x="1760" y="400" width="40" height="40" fill="url(#tF)"/>
<rect x="1760" y="440" width="40" height="40" fill="url(#tF)"/>
<rect x="1760" y="480" width="40" height="40" fill="url(#tF)"/>
<rect x="1760" y="520" width="40" height="40" fill="url(#tF)"/>
<rect x="1760" y="560" width="40" height="40" fill="url(#tF)"/>
<rect x="1760" y="600" width="40" height="40" fill="url(#tF)"/>
<rect x="1760" y="640" width="40" height="40" fill="url(#tF)"/>
<rect x="1760" y="680" width="40" height="40" fill="url(#tF)"/>
<rect x="1760" y="720" width="40" height="40" fill="url(#tF)"/>
<rect x="1760" y="760" width="40" height="40" fill="url(#tF)"/>
<rect x="1760" y="800" width="40" height="40" fill="url(#tF)"/>
<rect x="1760" y="840" width="40" height="40" fill="url(#tF)"/>
<rect x="1760" y="880" width="40" height="40" fill="url(#tF)"/>
<rect x="1760" y="920" width="40" height="40" fill="url(#tF)"/>
<rect x="1800" y="80" width="40" height="40" fill="url(#tF)"/>
<rect x="1800" y="120" width="40" height="40" fill="url(#tF)"/>
<rect x="1800" y="160" width="40" height="40" fill="url(#tF)"/>
<polygon points="1800,200 1840,200 1800,240" fill="url(#tF)"/>
<rect x="1800" y="240" width="40" height="40" fill="url(#tY)"/>
<rect x="1800" y="280" width="40" height="40" fill="url(#tF)"/>
<rect x="1800" y="320" width="40" height="40" fill="url(#tF)"/>
<rect x="1800" y="360" width="40" height="40" fill="url(#tF)"/>
<rect x="1800" y="400" width="40" height="40" fill="url(#tF)"/>
<rect x="1800" y="440" width="40" height="40" fill="url(#tF)"/>
<rect x="1800" y="480" width="40" height="40" fill="url(#tF)"/>
<rect x="1800" y="520" width="40" height="40" fill="url(#tF)"/>
<rect x="1800" y="560" width="40" height="40" fill="url(#tF)"/>
<rect x="1800" y="600" width="40" height="40" fill="url(#tF)"/>
<rect x="1800" y="640" width="40" height="40" fill="url(#tF)"/>
<rect x="1800" y="680" width="40" height="40" fill="url(#tF)"/>
<rect x="1800" y="720" width="40" height="40" fill="url(#tF)"/>
<rect x="1800" y="760" width="40" height="40" fill="url(#tF)"/>
<rect x="1800" y="800" width="40" height="40" fill="url(#tF)"/>
<rect x="1800" y="840" width="40" height="40" fill="url(#tF)"/>
<rect x="1800" y="880" width="40" height="40" fill="url(#tF)"/>
<polygon points="1800,920 1840,920 1800,960" fill="url(#tF)"/>
<rect x="1840" y="80" width="40" height="40" fill="url(#tF)"/>
<rect x="1840" y="120" width="40" height="40" fill="url(#tF)"/>
<rect x="1840" y="160" width="40" height="40" fill="url(#tF)"/>
<polygon points="1880,240 1880,280 1840,280" fill="url(#tF)"/>
<rect x="1840" y="280" width="40" height="40" fill="url(#tF)"/>
<rect x="1840" y="320" width="40" height="40" fill="url(#tF)"/>
<rect x="1840" y="360" width="40" height="40" fill="url(#tF)"/>
<rect x="1840" y="400" width="40" height="40" fill="url(#tF)"/>
<rect x="1840" y="440" width="40" height="40" fill="url(#tF)"/>
<rect x="1840" y="480" width="40" height="40" fill="url(#tF)"/>
<rect x="1840" y="520" width="40" height="40" fill="url(#tF)"/>
<rect x="1840" y="560" width="40" height="40" fill="url(#tF)"/>
<rect x="1840" y="600" width="40" height="40" fill="url(#tF)"/>
<rect x="1840" y="640" width="40" height="40" fill="url(#tF)"/>
<rect x="1840" y="680" width="40" height="40" fill="url(#tF)"/>
<rect x="1840" y="720" width="40" height="40" fill="url(#tF)"/>
<rect x="1840" y="760" width="40" height="40" fill="url(#tF)"/>
<rect x="1840" y="800" width="40" height="40" fill="url(#tF)"/>
<rect x="1840" y="840" width="40" height="40" fill="url(#tF)"/>
<rect x="1840" y="880" width="40" height="40" fill="url(#tF)"/>
<rect x="1880" y="80" width="40" height="40" fill="url(#tF)"/>
<rect x="1880" y="120" width="40" height="40" fill="url(#tF)"/>
<rect x="1880" y="160" width="40" height="40" fill="url(#tG)"/>
<rect x="1880" y="200" width="40" height="40" fill="url(#tF)"/>
<rect x="1880" y="240" width="40" height="40" fill="url(#tF)"/>
<rect x="1880" y="280" width="40" height="40" fill="url(#tF)"/>
<rect x="1880" y="320" width="40" height="40" fill="url(#tF)"/>
<rect x="1880" y="360" width="40" height="40" fill="url(#tF)"/>
<rect x="1880" y="400" width="40" height="40" fill="url(#tF)"/>
<rect x="1880" y="440" width="40" height="40" fill="url(#tF)"/>
<rect x="1880" y="480" width="40" height="40" fill="url(#tF)"/>
<rect x="1880" y="520" width="40" height="40" fill="url(#tF)"/>
<rect x="1880" y="560" width="40" height="40" fill="url(#tF)"/>
<rect x="1880" y="600" width="40" height="40" fill="url(#tF)"/>
<rect x="1880" y="640" width="40" height="40" fill="url(#tF)"/>
<rect x="1880" y="680" width="40" height="40" fill="url(#tF)"/>
<rect x="1880" y="720" width="40" height="40" fill="url(#tF)"/>
<rect x="1880" y="760" width="40" height="40" fill="url(#tF)"/>
<rect x="1880" y="800" width="40" height="40" fill="url(#tF)"/>
<rect x="1880" y="840" width="40" height="40" fill="url(#tF)"/>
<polygon points="1880,880 1920,880 1880,920" fill="url(#tF)"/>
<rect x="1920" y="80" width="40" height="40" fill="url(#tF)"/>
<rect x="1920" y="120" width="40" height="40" fill="url(#tG)"/>
<rect x="1920" y="160" width="40" height="40" fill="url(#tF)"/>
<rect x="1920" y="200" width="40" height="40" fill="url(#tF)"/>
<rect x="1920" y="240" width="40" height="40" fill="url(#tF)"/>
<rect x="1920" y="280" width="40" height="40" fill="url(#tF)"/>
<rect x="1920" y="320" width="40" height="40" fill="url(#tF)"/>
<rect x="1920" y="360" width="40" height="40" fill="url(#tF)"/>
<rect x="1920" y="400" width="40" height="40" fill="url(#tF)"/>
<rect x="1920" y="440" width="40" height="40" fill="url(#tF)"/>
<rect x="1920" y="480" width="40" height="40" fill="url(#tF)"/>
<rect x="1920" y="520" width="40" height="40" fill="url(#tF)"/>
<rect x="1920" y="560" width="40" height="40" fill="url(#tF)"/>
<rect x="1920" y="600" width="40" height="40" fill="url(#tF)"/>
<rect x="1920" y="640" width="40" height="40" fill="url(#tF)"/>
<rect x="1920" y="680" width="40" height="40" fill="url(#tF)"/>
<rect x="1920" y="720" width="40" height="40" fill="url(#tF)"/>
<polygon points="1920,760 1960,760 1920,800" fill="url(#tF)"/>
<rect x="1960" y="80" width="40" height="40" fill="url(#tG)"/>
<rect x="1960" y="120" width="40" height="40" fill="url(#tF)"/>
<rect x="1960" y="160" width="40" height="40" fill="url(#tF)"/>
<rect x="1960" y="200" width="40" height="40" fill="url(#tF)"/>
<rect x="1960" y="240" width="40" height="40" fill="url(#tF)"/>
<rect x="1960" y="280" width="40" height="40" fill="url(#tF)"/>
<rect x="1960" y="320" width="40" height="40" fill="url(#tF)"/>
<rect x="1960" y="360" width="40" height="40" fill="url(#tF)"/>
<rect x="1960" y="400" width="40" height="40" fill="url(#tF)"/>
<rect x="1960" y="440" width="40" height="40" fill="url(#tF)"/>
<rect x="1960" y="480" width="40" height="40" fill="url(#tF)"/>
<rect x="1960" y="520" width="40" height="40" fill="url(#tF)"/>
<rect x="1960" y="560" width="40" height="40" fill="url(#tF)"/>
<rect x="1960" y="600" width="40" height="40" fill="url(#tF)"/>
<rect x="1960" y="640" width="40" height="40" fill="url(#tF)"/>
<rect x="2000" y="80" width="40" height="40" fill="url(#tF)"/>
<rect x="2000" y="120" width="40" height="40" fill="url(#tF)"/>
<rect x="2000" y="160" width="40" height="40" fill="url(#tF)"/>
<rect x="2000" y="200" width="40" height="40" fill="url(#tF)"/>
<rect x="2000" y="240" width="40" height="40" fill="url(#tF)"/>
<rect x="2000" y="280" width="40" height="40" fill="url(#tF)"/>
<rect x="2000" y="320" width="40" height="40" fill="url(#tF)"/>
<rect x="2000" y="360" width="40" height="40" fill="url(#tF)"/>
<rect x="2000" y="400" width="40" height="40" fill="url(#tF)"/>
<rect x="2000" y="440" width="40" height="40" fill="url(#tF)"/>
<rect x="2000" y="480" width="40" height="40" fill="url(#tF)"/>
<rect x="2000" y="520" width="40" height="40" fill="url(#tF)"/>
<rect x="2000" y="560" width="40" height="40" fill="url(#tF)"/>
<rect x="2000" y="600" width="40" height="40" fill="url(#tF)"/>
<rect x="2000" y="640" width="40" height="40" fill="url(#tF)"/>
<rect x="2000" y="680" width="40" height="40" fill="url(#tB)"/>
<rect x="2000" y="720" width="40" height="40" fill="url(#tB)"/>
<rect x="2040" y="80" width="40" height="40" fill="url(#tF)"/>
<rect x="2040" y="120" width="40" height="40" fill="url(#tF)"/>
<rect x="2040" y="160" width="40" height="40" fill="url(#tF)"/>
<rect x="2040" y="200" width="40" height="40" fill="url(#tF)"/>
<rect x="2040" y="240" width="40" height="40" fill="url(#tF)"/>
<rect x="2040" y="280" width="40" height="40" fill="url(#tF)"/>
<rect x="2040" y="320" width="40" height="40" fill="url(#tF)"/>
<rect x="2040" y="360" width="40" height="40" fill="url(#tF)"/>
<rect x="2040" y="400" width="40" height="40" fill="url(#tF)"/>
<rect x="2040" y="440" width="40" height="40" fill="url(#tF)"/>
<rect x="2040" y="480" width="40" height="40" fill="url(#tF)"/>
<rect x="2040" y="520" width="40" height="40" fill="url(#tF)"/>
<rect x="2040" y="560" width="40" height="40" fill="url(#tF)"/>
<rect x="2040" y="600" width="40" height="40" fill="url(#tF)"/>
<rect x="2040" y="640" width="40" height="40" fill="url(#tF)"/>
<rect x="2040" y="680" width="40" height="40" fill="url(#tB)"/>
<rect x="2040" y="720" width="40" height="40" fill="url(#tB)"/>
<rect x="2040" y="760" width="40" height="40" fill="url(#tCP)"/>
<rect x="2040" y="800" width="40" height="40" fill="url(#tCP)"/>
<rect x="2080" y="80" width="40" height="40" fill="url(#tF)"/>
<rect x="2080" y="120" width="40" height="40" fill="url(#tF)"/>
<rect x="2080" y="160" width="40" height="40" fill="url(#tF)"/>
<rect x="2080" y="200" width="40" height="40" fill="url(#tF)"/>
<rect x="2080" y="240" width="40" height="40" fill="url(#tF)"/>
<rect x="2080" y="280" width="40" height="40" fill="url(#tF)"/>
<rect x="2080" y="320" width="40" height="40" fill="url(#tF)"/>
<rect x="2080" y="360" width="40" height="40" fill="url(#tF)"/>
<rect x="2080" y="400" width="40" height="40" fill="url(#tF)"/>
<rect x="2080" y="440" width="40" height="40" fill="url(#tF)"/>
<rect x="2080" y="480" width="40" height="40" fill="url(#tF)"/>
<rect x="2080" y="520" width="40" height="40" fill="url(#tF)"/>
<rect x="2080" y="560" width="40" height="40" fill="url(#tF)"/>
<rect x="2080" y="600" width="40" height="40" fill="url(#tF)"/>
<rect x="2080" y="640" width="40" height="40" fill="url(#tF)"/>
<rect x="2080" y="680" width="40" height="40" fill="url(#tB)"/>
<rect x="2080" y="720" width="40" height="40" fill="url(#tB)"/>
<rect x="2080" y="760" width="40" height="40" fill="url(#tCP)"/>
<rect x="2080" y="800" width="40" height="40" fill="url(#tCP)"/>
<rect x="2120" y="80" width="40" height="40" fill="url(#tF)"/>
<rect x="2120" y="120" width="40" height="40" fill="url(#tF)"/>
<rect x="2120" y="160" width="40" height="40" fill="url(#tF)"/>
<rect x="2120" y="200" width="40" height="40" fill="url(#tF)"/>
<rect x="2120" y="240" width="40" height="40" fill="url(#tF)"/>
<rect x="2120" y="280" width="40" height="40" fill="url(#tF)"/>
<rect x="2120" y="320" width="40" height="40" fill="url(#tF)"/>
<rect x="2120" y="360" width="40" height="40" fill="url(#tF)"/>
<rect x="2120" y="400" width="40" height="40" fill="url(#tF)"/>
<rect x="2120" y="440" width="40" height="40" fill="url(#tF)"/>
<rect x="2120" y="480" width="40" height="40" fill="url(#tF)"/>
<rect x="2120" y="520" width="40" height="40" fill="url(#tF)"/>
<rect x="2120" y="560" width="40" height="40" fill="url(#tF)"/>
<rect x="2120" y="600" width="40" height="40" fill="url(#tF)"/>
<rect x="2120" y="640" width="40" height="40" fill="url(#tF)"/>
<rect x="2120" y="680" width="40" height="40" fill="url(#tB)"/>
<rect x="2120" y="720" width="40" height="40" fill="url(#tB)"/>
<rect x="2120" y="760" width="40" height="40" fill="url(#tCP)"/>
<rect x="2120" y="800" width="40" height="40" fill="url(#tCP)"/>
<rect x="2120" y="840" width="40" height="40" fill="url(#tF)"/>
<rect x="2120" y="880" width="40" height="40" fill="url(#tF)"/>
<rect x="2160" y="80" width="40" height="40" fill="url(#tF)"/>
<rect x="2160" y="120" width="40" height="40" fill="url(#tF)"/>
<rect x="2160" y="160" width="40" height="40" fill="url(#tF)"/>
<rect x="2160" y="200" width="40" height="40" fill="url(#tF)"/>
<rect x="2160" y="240" width="40" height="40" fill="url(#tF)"/>
<rect x="2160" y="280" width="40" height="40" fill="url(#tF)"/>
<rect x="2160" y="320" width="40" height="40" fill="url(#tF)"/>
<rect x="2160" y="360" width="40" height="40" fill="url(#tF)"/>
<rect x="2160" y="400" width="40" height="40" fill="url(#tF)"/>
<rect x="2160" y="440" width="40" height="40" fill="url(#tF)"/>
<rect x="2160" y="480" width="40" height="40" fill="url(#tF)"/>
<rect x="2160" y="520" width="40" height="40" fill="url(#tF)"/>
<rect x="2160" y="560" width="40" height="40" fill="url(#tF)"/>
<rect x="2160" y="600" width="40" height="40" fill="url(#tF)"/>
<rect x="2160" y="640" width="40" height="40" fill="url(#tF)"/>
<rect x="2160" y="680" width="40" height="40" fill="url(#tB)"/>
<rect x="2160" y="720" width="40" height="40" fill="url(#tB)"/>
<rect x="2160" y="760" width="40" height="40" fill="url(#tCP)"/>
<rect x="2160" y="800" width="40" height="40" fill="url(#tCP)"/>
<rect x="2160" y="840" width="40" height="40" fill="url(#tF)"/>
<rect x="2160" y="880" width="40" height="40" fill="url(#tF)"/>
<rect x="2200" y="80" width="40" height="40" fill="url(#tF)"/>
<rect x="2200" y="120" width="40" height="40" fill="url(#tF)"/>
<rect x="2200" y="160" width="40" height="40" fill="url(#tF)"/>
<rect x="2200" y="200" width="40" height="40" fill="url(#tF)"/>
<rect x="2200" y="240" width="40" height="40" fill="url(#tF)"/>
<rect x="2200" y="280" width="40" height="40" fill="url(#tF)"/>
<rect x="2200" y="320" width="40" height="40" fill="url(#tF)"/>
<rect x="2200" y="360" width="40" height="40" fill="url(#tF)"/>
<rect x="2200" y="400" width="40" height="40" fill="url(#tF)"/>
<rect x="2200" y="440" width="40" height="40" fill="url(#tF)"/>
<rect x="2200" y="480" width="40" height="40" fill="url(#tF)"/>
<rect x="2200" y="520" width="40" height="40" fill="url(#tF)"/>
<rect x="2200" y="560" width="40" height="40" fill="url(#tF)"/>
<rect x="2200" y="600" width="40" height="40" fill="url(#tF)"/>
<rect x="2200" y="640" width="40" height="40" fill="url(#tF)"/>
<rect x="2200" y="680" width="40" height="40" fill="url(#tB)"/>
<rect x="2200" y="720" width="40" height="40" fill="url(#tB)"/>
<rect x="2200" y="760" width="40" height="40" fill="url(#tCP)"/>
<rect x="2200" y="800" width="40" height="40" fill="url(#tCP)"/>
<rect x="2240" y="80" width="40" height="40" fill="url(#tF)"/>
<rect x="2240" y="120" width="40" height="40" fill="url(#tF)"/>
<rect x="2240" y="160" width="40" height="40" fill="url(#tF)"/>
<rect x="2240" y="200" width="40" height="40" fill="url(#tF)"/>
<rect x="2240" y="240" width="40" height="40" fill="url(#tF)"/>
<rect x="2240" y="280" width="40" height="40" fill="url(#tF)"/>
<rect x="2240" y="320" width="40" height="40" fill="url(#tF)"/>
<rect x="2240" y="360" width="40" height="40" fill="url(#tF)"/>
<rect x="2240" y="400" width="40" height="40" fill="url(#tF)"/>
<rect x="2240" y="440" width="40" height="40" fill="url(#tF)"/>
<rect x="2240" y="480" width="40" height="40" fill="url(#tF)"/>
<rect x="2240" y="520" width="40" height="40" fill="url(#tF)"/>
<rect x="2240" y="560" width="40" height="40" fill="url(#tF)"/>
<rect x="2240" y="600" width="40" height="40" fill="url(#tF)"/>
<rect x="2240" y="640" width="40" height="40" fill="url(#tF)"/>
<rect x="2240" y="680" width="40" height="40" fill="url(#tB)"/>
<rect x="2240" y="720" width="40" height="40" fill="url(#tB)"/>
<rect x="2240" y="760" width="40" height="40" fill="url(#tCP)"/>
<rect x="2240" y="800" width="40" height="40" fill="url(#tCP)"/>
<rect x="2280" y="80" width="40" height="40" fill="url(#tF)"/>
<rect x="2280" y="120" width="40" height="40" fill="url(#tF)"/>
<rect x="2280" y="160" width="40" height="40" fill="url(#tF)"/>
<rect x="2280" y="200" width="40" height="40" fill="url(#tF)"/>
<rect x="2280" y="240" width="40" height="40" fill="url(#tF)"/>
<rect x="2280" y="280" width="40" height="40" fill="url(#tF)"/>
<rect x="2280" y="320" width="40" height="40" fill="url(#tF)"/>
<rect x="2280" y="360" width="40" height="40" fill="url(#tF)"/>
<rect x="2280" y="400" width="40" height="40" fill="url(#tF)"/>
<rect x="2280" y="440" width="40" height="40" fill="url(#tF)"/>
<rect x="2280" y="480" width="40" height="40" fill="url(#tF)"/>
<rect x="2280" y="520" width="40" height="40" fill="url(#tF)"/>
<rect x="2280" y="560" width="40" height="40" fill="url(#tF)"/>
<rect x="2280" y="600" width="40" height="40" fill="url(#tF)"/>
<rect x="2280" y="640" width="40" height="40" fill="url(#tF)"/>
<rect x="2280" y="680" width="40" height="40" fill="url(#tB)"/>
<rect x="2280" y="720" width="40" height="40" fill="url(#tB)"/>
<polygon points="2320,80 2360,120 2320,120" fill="url(#tF)"/>
<rect x="2320" y="120" width="40" height="40" fill="url(#tF)"/>
<rect x="2320" y="160" width="40" height="40" fill="url(#tF)"/>
<rect x="2320" y="200" width="40" height="40" fill="url(#tF)"/>
<rect x="2320" y="240" width="40" height="40" fill="url(#tF)"/>
<rect x="2320" y="280" width="40" height="40" fill="url(#tF)"/>
<polygon points="2320,320 2360,320 2320,360" fill="url(#tF)"/>
<polygon points="2320,360 2360,400 2320,400" fill="url(#tF)"/>
<rect x="2320" y="400" width="40" height="40" fill="url(#tF)"/>
<rect x="2320" y="440" width="40" height="40" fill="url(#tF)"/>
<rect x="2320" y="480" width="40" height="40" fill="url(#tF)"/>
<polygon points="2320,520 2360,520 2320,560" fill="url(#tF)"/>
<circle cx="1460" cy="100" r="13.2" fill="url(#gPurple)" stroke="#111" stroke-width="3"/>
<path d="M1467,87.5 L1472.5,87 L1472,93" fill="#111"/>
<ellipse cx="1455.5" cy="93" rx="4.6" ry="2.6" transform="rotate(-15 1455.5 93)" fill="#fff" opacity="0.9"/>
<circle cx="1473.5" cy="86.2" r="1.9" fill="#f08a20"/>
<circle cx="2300" cy="100" r="11" fill="none" stroke="#eef0f6" stroke-width="3" opacity="0.85"/>
<path transform="translate(2300,100)" d="M-2.8,-11 L-5.6,-11 Q-2,-15.8 0,-15.8 Q2,-15.8 5.6,-11 L2.8,-11 L2.8,-2.8 L11,-2.8 L11,-5.6 Q15.8,-2 15.8,0 Q15.8,2 11,5.6 L11,2.8 L2.8,2.8 L2.8,11 L5.6,11 Q2,15.8 0,15.8 Q-2,15.8 -5.6,11 L-2.8,11 L-2.8,2.8 L-11,2.8 L-11,5.6 Q-15.8,2 -15.8,0 Q-15.8,-2 -11,-5.6 L-11,-2.8 L-2.8,-2.8Z" fill="url(#gYc)"/>
<path transform="translate(2300,100)" d="M-1.6,-12 V12 M1.6,-12 V12 M-12,-1.6 H12 M-12,1.6 H12" stroke="#ffb45a" stroke-width="0.9" opacity="0.75" fill="none"/>
<circle cx="2340" cy="140" r="11" fill="none" stroke="#eef0f6" stroke-width="3" opacity="0.85"/>
<path transform="translate(2340,140)" d="M-2.8,-11 L-5.6,-11 Q-2,-15.8 0,-15.8 Q2,-15.8 5.6,-11 L2.8,-11 L2.8,-2.8 L11,-2.8 L11,-5.6 Q15.8,-2 15.8,0 Q15.8,2 11,5.6 L11,2.8 L2.8,2.8 L2.8,11 L5.6,11 Q2,15.8 0,15.8 Q-2,15.8 -5.6,11 L-2.8,11 L-2.8,2.8 L-11,2.8 L-11,5.6 Q-15.8,2 -15.8,0 Q-15.8,-2 -11,-5.6 L-11,-2.8 L-2.8,-2.8Z" fill="url(#gYc)"/>
<path transform="translate(2340,140)" d="M-1.6,-12 V12 M1.6,-12 V12 M-12,-1.6 H12 M-12,1.6 H12" stroke="#ffb45a" stroke-width="0.9" opacity="0.75" fill="none"/>
<circle cx="1300" cy="420" r="11" fill="none" stroke="#eef0f6" stroke-width="3" opacity="0.85"/>
<path transform="translate(1300,420)" d="M-2.8,-11 L-5.6,-11 Q-2,-15.8 0,-15.8 Q2,-15.8 5.6,-11 L2.8,-11 L2.8,-2.8 L11,-2.8 L11,-5.6 Q15.8,-2 15.8,0 Q15.8,2 11,5.6 L11,2.8 L2.8,2.8 L2.8,11 L5.6,11 Q2,15.8 0,15.8 Q-2,15.8 -5.6,11 L-2.8,11 L-2.8,2.8 L-11,2.8 L-11,5.6 Q-15.8,2 -15.8,0 Q-15.8,-2 -11,-5.6 L-11,-2.8 L-2.8,-2.8Z" fill="url(#gYc)"/>
<path transform="translate(1300,420)" d="M-1.6,-12 V12 M1.6,-12 V12 M-12,-1.6 H12 M-12,1.6 H12" stroke="#ffb45a" stroke-width="0.9" opacity="0.75" fill="none"/>
<path d="M1460.00,406.20 L1461.61,409.83 L1462.40,409.98 L1465.28,407.25 L1465.38,411.22 L1466.05,411.67 L1469.76,410.24 L1468.33,413.95 L1468.78,414.62 L1472.75,414.72 L1470.02,417.60 L1470.17,418.39 L1473.80,420.00 L1470.17,421.61 L1470.02,422.40 L1472.75,425.28 L1468.78,425.38 L1468.33,426.05 L1469.76,429.76 L1466.05,428.33 L1465.38,428.78 L1465.28,432.75 L1462.40,430.02 L1461.61,430.17 L1460.00,433.80 L1458.39,430.17 L1457.60,430.02 L1454.72,432.75 L1454.62,428.78 L1453.95,428.33 L1450.24,429.76 L1451.67,426.05 L1451.22,425.38 L1447.25,425.28 L1449.98,422.40 L1449.83,421.61 L1446.20,420.00 L1449.83,418.39 L1449.98,417.60 L1447.25,414.72 L1451.22,414.62 L1451.67,413.95 L1450.24,410.24 L1453.95,411.67 L1454.62,411.22 L1454.72,407.25 L1457.60,409.98 L1458.39,409.83Z" fill="#151515"/>
<circle cx="1460" cy="420" r="4.2" fill="#e2e1e6"/>
<path d="M1460.00,566.20 L1461.61,569.83 L1462.40,569.98 L1465.28,567.25 L1465.38,571.22 L1466.05,571.67 L1469.76,570.24 L1468.33,573.95 L1468.78,574.62 L1472.75,574.72 L1470.02,577.60 L1470.17,578.39 L1473.80,580.00 L1470.17,581.61 L1470.02,582.40 L1472.75,585.28 L1468.78,585.38 L1468.33,586.05 L1469.76,589.76 L1466.05,588.33 L1465.38,588.78 L1465.28,592.75 L1462.40,590.02 L1461.61,590.17 L1460.00,593.80 L1458.39,590.17 L1457.60,590.02 L1454.72,592.75 L1454.62,588.78 L1453.95,588.33 L1450.24,589.76 L1451.67,586.05 L1451.22,585.38 L1447.25,585.28 L1449.98,582.40 L1449.83,581.61 L1446.20,580.00 L1449.83,578.39 L1449.98,577.60 L1447.25,574.72 L1451.22,574.62 L1451.67,573.95 L1450.24,570.24 L1453.95,571.67 L1454.62,571.22 L1454.72,567.25 L1457.60,569.98 L1458.39,569.83Z" fill="#151515"/>
<circle cx="1460" cy="580" r="4.2" fill="#e2e1e6"/>
<circle cx="1860" cy="340" r="10" fill="#ececf0" opacity="0.7"/>
<circle cx="1860" cy="340" r="6.6" fill="url(#gGold)" stroke="#111" stroke-width="2.6"/>
<circle cx="500" cy="580" r="10" fill="#ececf0" opacity="0.7"/>
<circle cx="500" cy="580" r="6.6" fill="url(#gGold)" stroke="#111" stroke-width="2.6"/>
<circle cx="260" cy="420" r="13.9" fill="url(#gYG)" stroke="#111" stroke-width="2.2"/>
<circle cx="300" cy="420" r="13.9" fill="url(#gYG)" stroke="#111" stroke-width="2.2"/>
<rect x="241" y="441" width="39" height="39" fill="#151417"/>
<rect x="244" y="444" width="32" height="32" fill="#fff"/>
<rect x="245" y="445" width="31" height="31" fill="url(#gBlue)"/>
<path d="M244,444 h10 a10,10 0 0 1 -10,10 z" fill="#fff"/>
<rect x="281" y="441" width="39" height="39" fill="#151417"/>
<rect x="284" y="444" width="32" height="32" fill="#fff"/>
<rect x="285" y="445" width="31" height="31" fill="url(#gBlue)"/>
<path d="M284,444 h10 a10,10 0 0 1 -10,10 z" fill="#fff"/>
<circle cx="1900" cy="460" r="11" fill="none" stroke="#eef0f6" stroke-width="3" opacity="0.85"/>
<path transform="translate(1900,460)" d="M-2.8,-11 L-5.6,-11 Q-2,-15.8 0,-15.8 Q2,-15.8 5.6,-11 L2.8,-11 L2.8,-2.8 L11,-2.8 L11,-5.6 Q15.8,-2 15.8,0 Q15.8,2 11,5.6 L11,2.8 L2.8,2.8 L2.8,11 L5.6,11 Q2,15.8 0,15.8 Q-2,15.8 -5.6,11 L-2.8,11 L-2.8,2.8 L-11,2.8 L-11,5.6 Q-15.8,2 -15.8,0 Q-15.8,-2 -11,-5.6 L-11,-2.8 L-2.8,-2.8Z" fill="url(#gTc)"/>
<path transform="translate(1900,460)" d="M-1.6,-12 V12 M1.6,-12 V12 M-12,-1.6 H12 M-12,1.6 H12" stroke="#7fa8c0" stroke-width="0.9" opacity="0.75" fill="none"/>
<circle cx="1940" cy="500" r="11" fill="none" stroke="#eef0f6" stroke-width="3" opacity="0.85"/>
<path transform="translate(1940,500)" d="M-2.8,-11 L-5.6,-11 Q-2,-15.8 0,-15.8 Q2,-15.8 5.6,-11 L2.8,-11 L2.8,-2.8 L11,-2.8 L11,-5.6 Q15.8,-2 15.8,0 Q15.8,2 11,5.6 L11,2.8 L2.8,2.8 L2.8,11 L5.6,11 Q2,15.8 0,15.8 Q-2,15.8 -5.6,11 L-2.8,11 L-2.8,2.8 L-11,2.8 L-11,5.6 Q-15.8,2 -15.8,0 Q-15.8,-2 -11,-5.6 L-11,-2.8 L-2.8,-2.8Z" fill="url(#gTc)"/>
<path transform="translate(1940,500)" d="M-1.6,-12 V12 M1.6,-12 V12 M-12,-1.6 H12 M-12,1.6 H12" stroke="#7fa8c0" stroke-width="0.9" opacity="0.75" fill="none"/>
<circle cx="2340" cy="420" r="15.5" fill="#ececf0"/>
<circle cx="2340" cy="420" r="13.8" fill="#c9d2bc" stroke="#a4a6a2" stroke-width="1.5"/>
<circle cx="2340" cy="500" r="15.5" fill="#ececf0"/>
<circle cx="2340" cy="500" r="13.8" fill="#c9d2bc" stroke="#a4a6a2" stroke-width="1.5"/>
<circle cx="2340" cy="460" r="13.4" fill="url(#gStripe)" stroke="#111" stroke-width="2.6"/>
<path d="M2330.2,457.5 L2336.8,457.5 L2335.8,462.8 Z" fill="#fff" opacity="0.95"/>
<path d="M2336.7,457.5 L2343.3,457.5 L2342.3,462.8 Z" fill="#fff" opacity="0.95"/>
<path d="M2343.2,457.5 L2349.8,457.5 L2348.8,462.8 Z" fill="#fff" opacity="0.95"/>
<rect x="1961" y="561" width="39" height="39" fill="#151417"/>
<rect x="1964" y="564" width="32" height="32" fill="#fff"/>
<rect x="1965" y="565" width="31" height="31" fill="url(#gBlue)"/>
<path d="M1964,564 h10 a10,10 0 0 1 -10,10 z" fill="#fff"/>
<rect x="1961" y="601" width="39" height="39" fill="#151417"/>
<rect x="1964" y="604" width="32" height="32" fill="#fff"/>
<rect x="1965" y="605" width="31" height="31" fill="url(#gBlue)"/>
<path d="M1964,604 h10 a10,10 0 0 1 -10,10 z" fill="#fff"/>
<circle cx="980" cy="1220" r="13.2" fill="url(#gPurple)" stroke="#111" stroke-width="3"/>
<path d="M987,1207.5 L992.5,1207 L992,1213" fill="#111"/>
<ellipse cx="975.5" cy="1213" rx="4.6" ry="2.6" transform="rotate(-15 975.5 1213)" fill="#fff" opacity="0.9"/>
<circle cx="993.5" cy="1206.2" r="1.9" fill="#f08a20"/>
<circle cx="140" cy="1220" r="11" fill="none" stroke="#eef0f6" stroke-width="3" opacity="0.85"/>
<path transform="translate(140,1220)" d="M-2.8,-11 L-5.6,-11 Q-2,-15.8 0,-15.8 Q2,-15.8 5.6,-11 L2.8,-11 L2.8,-2.8 L11,-2.8 L11,-5.6 Q15.8,-2 15.8,0 Q15.8,2 11,5.6 L11,2.8 L2.8,2.8 L2.8,11 L5.6,11 Q2,15.8 0,15.8 Q-2,15.8 -5.6,11 L-2.8,11 L-2.8,2.8 L-11,2.8 L-11,5.6 Q-15.8,2 -15.8,0 Q-15.8,-2 -11,-5.6 L-11,-2.8 L-2.8,-2.8Z" fill="url(#gYc)"/>
<path transform="translate(140,1220)" d="M-1.6,-12 V12 M1.6,-12 V12 M-12,-1.6 H12 M-12,1.6 H12" stroke="#ffb45a" stroke-width="0.9" opacity="0.75" fill="none"/>
<circle cx="100" cy="1180" r="11" fill="none" stroke="#eef0f6" stroke-width="3" opacity="0.85"/>
<path transform="translate(100,1180)" d="M-2.8,-11 L-5.6,-11 Q-2,-15.8 0,-15.8 Q2,-15.8 5.6,-11 L2.8,-11 L2.8,-2.8 L11,-2.8 L11,-5.6 Q15.8,-2 15.8,0 Q15.8,2 11,5.6 L11,2.8 L2.8,2.8 L2.8,11 L5.6,11 Q2,15.8 0,15.8 Q-2,15.8 -5.6,11 L-2.8,11 L-2.8,2.8 L-11,2.8 L-11,5.6 Q-15.8,2 -15.8,0 Q-15.8,-2 -11,-5.6 L-11,-2.8 L-2.8,-2.8Z" fill="url(#gYc)"/>
<path transform="translate(100,1180)" d="M-1.6,-12 V12 M1.6,-12 V12 M-12,-1.6 H12 M-12,1.6 H12" stroke="#ffb45a" stroke-width="0.9" opacity="0.75" fill="none"/>
<circle cx="1140" cy="900" r="11" fill="none" stroke="#eef0f6" stroke-width="3" opacity="0.85"/>
<path transform="translate(1140,900)" d="M-2.8,-11 L-5.6,-11 Q-2,-15.8 0,-15.8 Q2,-15.8 5.6,-11 L2.8,-11 L2.8,-2.8 L11,-2.8 L11,-5.6 Q15.8,-2 15.8,0 Q15.8,2 11,5.6 L11,2.8 L2.8,2.8 L2.8,11 L5.6,11 Q2,15.8 0,15.8 Q-2,15.8 -5.6,11 L-2.8,11 L-2.8,2.8 L-11,2.8 L-11,5.6 Q-15.8,2 -15.8,0 Q-15.8,-2 -11,-5.6 L-11,-2.8 L-2.8,-2.8Z" fill="url(#gYc)"/>
<path transform="translate(1140,900)" d="M-1.6,-12 V12 M1.6,-12 V12 M-12,-1.6 H12 M-12,1.6 H12" stroke="#ffb45a" stroke-width="0.9" opacity="0.75" fill="none"/>
<path d="M980.00,886.20 L981.61,889.83 L982.40,889.98 L985.28,887.25 L985.38,891.22 L986.05,891.67 L989.76,890.24 L988.33,893.95 L988.78,894.62 L992.75,894.72 L990.02,897.60 L990.17,898.39 L993.80,900.00 L990.17,901.61 L990.02,902.40 L992.75,905.28 L988.78,905.38 L988.33,906.05 L989.76,909.76 L986.05,908.33 L985.38,908.78 L985.28,912.75 L982.40,910.02 L981.61,910.17 L980.00,913.80 L978.39,910.17 L977.60,910.02 L974.72,912.75 L974.62,908.78 L973.95,908.33 L970.24,909.76 L971.67,906.05 L971.22,905.38 L967.25,905.28 L969.98,902.40 L969.83,901.61 L966.20,900.00 L969.83,898.39 L969.98,897.60 L967.25,894.72 L971.22,894.62 L971.67,893.95 L970.24,890.24 L973.95,891.67 L974.62,891.22 L974.72,887.25 L977.60,889.98 L978.39,889.83Z" fill="#151515"/>
<circle cx="980" cy="900" r="4.2" fill="#e2e1e6"/>
<path d="M980.00,726.20 L981.61,729.83 L982.40,729.98 L985.28,727.25 L985.38,731.22 L986.05,731.67 L989.76,730.24 L988.33,733.95 L988.78,734.62 L992.75,734.72 L990.02,737.60 L990.17,738.39 L993.80,740.00 L990.17,741.61 L990.02,742.40 L992.75,745.28 L988.78,745.38 L988.33,746.05 L989.76,749.76 L986.05,748.33 L985.38,748.78 L985.28,752.75 L982.40,750.02 L981.61,750.17 L980.00,753.80 L978.39,750.17 L977.60,750.02 L974.72,752.75 L974.62,748.78 L973.95,748.33 L970.24,749.76 L971.67,746.05 L971.22,745.38 L967.25,745.28 L969.98,742.40 L969.83,741.61 L966.20,740.00 L969.83,738.39 L969.98,737.60 L967.25,734.72 L971.22,734.62 L971.67,733.95 L970.24,730.24 L973.95,731.67 L974.62,731.22 L974.72,727.25 L977.60,729.98 L978.39,729.83Z" fill="#151515"/>
<circle cx="980" cy="740" r="4.2" fill="#e2e1e6"/>
<circle cx="580" cy="980" r="10" fill="#ececf0" opacity="0.7"/>
<circle cx="580" cy="980" r="6.6" fill="url(#gGold)" stroke="#111" stroke-width="2.6"/>
<circle cx="1940" cy="740" r="10" fill="#ececf0" opacity="0.7"/>
<circle cx="1940" cy="740" r="6.6" fill="url(#gGold)" stroke="#111" stroke-width="2.6"/>
<circle cx="2180" cy="900" r="13.9" fill="url(#gYG)" stroke="#111" stroke-width="2.2"/>
<circle cx="2140" cy="900" r="13.9" fill="url(#gYG)" stroke="#111" stroke-width="2.2"/>
<rect x="2161" y="841" width="39" height="39" fill="#151417"/>
<rect x="2164" y="844" width="32" height="32" fill="#fff"/>
<rect x="2165" y="845" width="31" height="31" fill="url(#gRed)"/>
<path d="M2164,844 h10 a10,10 0 0 1 -10,10 z" fill="#fff"/>
<rect x="2121" y="841" width="39" height="39" fill="#151417"/>
<rect x="2124" y="844" width="32" height="32" fill="#fff"/>
<rect x="2125" y="845" width="31" height="31" fill="url(#gRed)"/>
<path d="M2124,844 h10 a10,10 0 0 1 -10,10 z" fill="#fff"/>
<circle cx="540" cy="860" r="11" fill="none" stroke="#eef0f6" stroke-width="3" opacity="0.85"/>
<path transform="translate(540,860)" d="M-2.8,-11 L-5.6,-11 Q-2,-15.8 0,-15.8 Q2,-15.8 5.6,-11 L2.8,-11 L2.8,-2.8 L11,-2.8 L11,-5.6 Q15.8,-2 15.8,0 Q15.8,2 11,5.6 L11,2.8 L2.8,2.8 L2.8,11 L5.6,11 Q2,15.8 0,15.8 Q-2,15.8 -5.6,11 L-2.8,11 L-2.8,2.8 L-11,2.8 L-11,5.6 Q-15.8,2 -15.8,0 Q-15.8,-2 -11,-5.6 L-11,-2.8 L-2.8,-2.8Z" fill="url(#gOc)"/>
<path transform="translate(540,860)" d="M-1.6,-12 V12 M1.6,-12 V12 M-12,-1.6 H12 M-12,1.6 H12" stroke="#ff8a7a" stroke-width="0.9" opacity="0.75" fill="none"/>
<circle cx="500" cy="820" r="11" fill="none" stroke="#eef0f6" stroke-width="3" opacity="0.85"/>
<path transform="translate(500,820)" d="M-2.8,-11 L-5.6,-11 Q-2,-15.8 0,-15.8 Q2,-15.8 5.6,-11 L2.8,-11 L2.8,-2.8 L11,-2.8 L11,-5.6 Q15.8,-2 15.8,0 Q15.8,2 11,5.6 L11,2.8 L2.8,2.8 L2.8,11 L5.6,11 Q2,15.8 0,15.8 Q-2,15.8 -5.6,11 L-2.8,11 L-2.8,2.8 L-11,2.8 L-11,5.6 Q-15.8,2 -15.8,0 Q-15.8,-2 -11,-5.6 L-11,-2.8 L-2.8,-2.8Z" fill="url(#gOc)"/>
<path transform="translate(500,820)" d="M-1.6,-12 V12 M1.6,-12 V12 M-12,-1.6 H12 M-12,1.6 H12" stroke="#ff8a7a" stroke-width="0.9" opacity="0.75" fill="none"/>
<circle cx="100" cy="900" r="15.5" fill="#ececf0"/>
<circle cx="100" cy="900" r="13.8" fill="#c9d2bc" stroke="#a4a6a2" stroke-width="1.5"/>
<circle cx="100" cy="820" r="15.5" fill="#ececf0"/>
<circle cx="100" cy="820" r="13.8" fill="#c9d2bc" stroke="#a4a6a2" stroke-width="1.5"/>
<circle cx="100" cy="860" r="13.4" fill="url(#gStripe)" stroke="#111" stroke-width="2.6"/>
<path d="M90.2,857.5 L96.8,857.5 L95.8,862.8 Z" fill="#fff" opacity="0.95"/>
<path d="M96.7,857.5 L103.3,857.5 L102.3,862.8 Z" fill="#fff" opacity="0.95"/>
<path d="M103.2,857.5 L109.8,857.5 L108.8,862.8 Z" fill="#fff" opacity="0.95"/>
<rect x="441" y="721" width="39" height="39" fill="#151417"/>
<rect x="444" y="724" width="32" height="32" fill="#fff"/>
<rect x="445" y="725" width="31" height="31" fill="url(#gRed)"/>
<path d="M444,724 h10 a10,10 0 0 1 -10,10 z" fill="#fff"/>
<rect x="441" y="681" width="39" height="39" fill="#151417"/>
<rect x="444" y="684" width="32" height="32" fill="#fff"/>
<rect x="445" y="685" width="31" height="31" fill="url(#gRed)"/>
<path d="M444,684 h10 a10,10 0 0 1 -10,10 z" fill="#fff"/>
<rect x="441" y="641" width="39" height="39" fill="#151417"/>
<rect x="444" y="644" width="32" height="32" fill="#fff"/>
<rect x="445" y="645" width="31" height="31" fill="url(#gRed)"/>
<path d="M444,644 h10 a10,10 0 0 1 -10,10 z" fill="#fff"/>
<rect x="1961" y="641" width="39" height="39" fill="#151417"/>
<rect x="1964" y="644" width="32" height="32" fill="#fff"/>
<rect x="1965" y="645" width="31" height="31" fill="url(#gBlue)"/>
<path d="M1964,644 h10 a10,10 0 0 1 -10,10 z" fill="#fff"/>
<path d="M1202,678 L1208.5,646" stroke="#111" stroke-width="2.4" fill="none"/>
<circle cx="1208.5" cy="646.5" r="2.6" fill="#111"/>
<path d="M1209,649 C1216,645 1225,648 1229,654 C1231,658 1233,661 1238,663 L1235,667 C1230,669 1225,668 1223,664 C1220,660 1213,659 1207,661 Z" fill="#f2e41c" stroke="#111" stroke-width="1.6"/>
<path d="M1225,663 C1228,663 1232,662 1237,663.5 L1234,667 C1230,668 1226,667 1225,663 Z" fill="#f8a030"/>
</svg>
</body></html>
